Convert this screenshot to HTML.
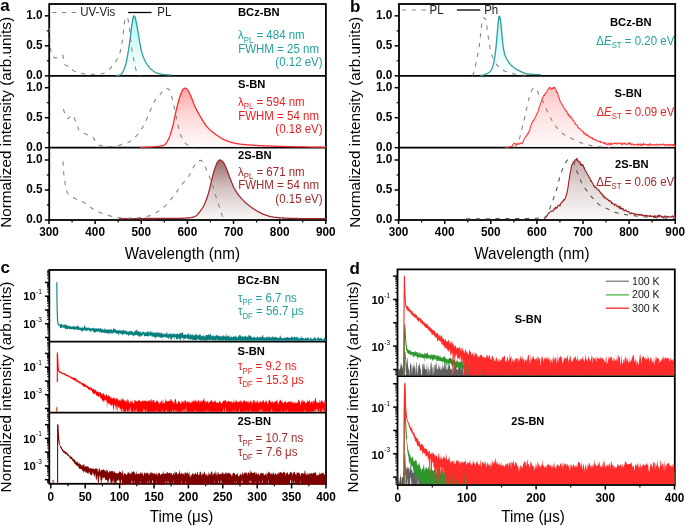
<!DOCTYPE html>
<html><head><meta charset="utf-8"><title>Figure</title>
<style>html,body{margin:0;padding:0;background:#fff;} svg{display:block;will-change:transform;} text{font-family:"Liberation Sans", sans-serif;}</style>
</head><body>
<svg width="685" height="526" viewBox="0 0 685 526" font-family='"Liberation Sans", sans-serif'><defs>
<clipPath id="ca1"><rect x="49.20" y="4.00" width="276.70" height="71.85"/></clipPath>
<clipPath id="ca2"><rect x="49.20" y="75.85" width="276.70" height="71.85"/></clipPath>
<clipPath id="ca3"><rect x="49.20" y="147.70" width="276.70" height="72.30"/></clipPath>
<clipPath id="cb1"><rect x="399.00" y="4.00" width="276.20" height="71.85"/></clipPath>
<clipPath id="cb2"><rect x="399.00" y="75.85" width="276.20" height="71.85"/></clipPath>
<clipPath id="cb3"><rect x="399.00" y="147.70" width="276.20" height="72.30"/></clipPath>
<clipPath id="cc1"><rect x="49.30" y="269.95" width="276.70" height="70.85"/></clipPath>
<clipPath id="cc2"><rect x="49.30" y="341.70" width="276.70" height="70.10"/></clipPath>
<clipPath id="cc3"><rect x="49.30" y="412.70" width="276.70" height="72.00"/></clipPath>
<clipPath id="cd1"><rect x="397.50" y="269.40" width="277.30" height="105.90"/></clipPath>
<clipPath id="cd2"><rect x="397.50" y="376.20" width="277.30" height="107.90"/></clipPath>
</defs>
<line x1="49.20" y1="75.85" x2="325.90" y2="75.85" stroke="#000" stroke-width="1.8" />
<line x1="49.20" y1="147.70" x2="325.90" y2="147.70" stroke="#000" stroke-width="1.8" />
<rect x="49.20" y="4.00" width="276.70" height="216.00" fill="none" stroke="#000" stroke-width="1.8"/>
<line x1="44.80" y1="75.85" x2="49.20" y2="75.85" stroke="#000" stroke-width="1.5" />
<text x="42.60" y="79.20" font-size="11.8" fill="#000" font-weight="bold" text-anchor="end" transform="matrix(1.0,0,0,1.05,0.000,-3.960)" >0.0</text>
<line x1="44.80" y1="45.85" x2="49.20" y2="45.85" stroke="#000" stroke-width="1.5" />
<text x="42.60" y="49.20" font-size="11.8" fill="#000" font-weight="bold" text-anchor="end" transform="matrix(1.0,0,0,1.05,0.000,-2.460)" >0.5</text>
<line x1="44.80" y1="15.85" x2="49.20" y2="15.85" stroke="#000" stroke-width="1.5" />
<text x="42.60" y="19.20" font-size="11.8" fill="#000" font-weight="bold" text-anchor="end" transform="matrix(1.0,0,0,1.05,0.000,-0.960)" >1.0</text>
<line x1="46.80" y1="60.85" x2="49.20" y2="60.85" stroke="#000" stroke-width="1.2" />
<line x1="46.80" y1="30.85" x2="49.20" y2="30.85" stroke="#000" stroke-width="1.2" />
<line x1="44.80" y1="147.70" x2="49.20" y2="147.70" stroke="#000" stroke-width="1.5" />
<text x="42.60" y="151.05" font-size="11.8" fill="#000" font-weight="bold" text-anchor="end" transform="matrix(1.0,0,0,1.05,0.000,-7.553)" >0.0</text>
<line x1="44.80" y1="117.70" x2="49.20" y2="117.70" stroke="#000" stroke-width="1.5" />
<text x="42.60" y="121.05" font-size="11.8" fill="#000" font-weight="bold" text-anchor="end" transform="matrix(1.0,0,0,1.05,0.000,-6.053)" >0.5</text>
<line x1="44.80" y1="87.70" x2="49.20" y2="87.70" stroke="#000" stroke-width="1.5" />
<text x="42.60" y="91.05" font-size="11.8" fill="#000" font-weight="bold" text-anchor="end" transform="matrix(1.0,0,0,1.05,0.000,-4.553)" >1.0</text>
<line x1="46.80" y1="132.70" x2="49.20" y2="132.70" stroke="#000" stroke-width="1.2" />
<line x1="46.80" y1="102.70" x2="49.20" y2="102.70" stroke="#000" stroke-width="1.2" />
<line x1="44.80" y1="220.00" x2="49.20" y2="220.00" stroke="#000" stroke-width="1.5" />
<text x="42.60" y="223.35" font-size="11.8" fill="#000" font-weight="bold" text-anchor="end" transform="matrix(1.0,0,0,1.05,0.000,-11.168)" >0.0</text>
<line x1="44.80" y1="190.00" x2="49.20" y2="190.00" stroke="#000" stroke-width="1.5" />
<text x="42.60" y="193.35" font-size="11.8" fill="#000" font-weight="bold" text-anchor="end" transform="matrix(1.0,0,0,1.05,0.000,-9.668)" >0.5</text>
<line x1="44.80" y1="160.00" x2="49.20" y2="160.00" stroke="#000" stroke-width="1.5" />
<text x="42.60" y="163.35" font-size="11.8" fill="#000" font-weight="bold" text-anchor="end" transform="matrix(1.0,0,0,1.05,0.000,-8.168)" >1.0</text>
<line x1="46.80" y1="205.00" x2="49.20" y2="205.00" stroke="#000" stroke-width="1.2" />
<line x1="46.80" y1="175.00" x2="49.20" y2="175.00" stroke="#000" stroke-width="1.2" />
<line x1="49.00" y1="220.00" x2="49.00" y2="223.90" stroke="#000" stroke-width="1.5" />
<text x="49.00" y="236.00" font-size="11.8" fill="#000" font-weight="bold" text-anchor="middle" transform="matrix(1.0,0,0,1.05,0.000,-11.800)" >300</text>
<line x1="72.07" y1="220.00" x2="72.07" y2="222.40" stroke="#000" stroke-width="1.2" />
<line x1="95.13" y1="220.00" x2="95.13" y2="223.90" stroke="#000" stroke-width="1.5" />
<text x="95.13" y="236.00" font-size="11.8" fill="#000" font-weight="bold" text-anchor="middle" transform="matrix(1.0,0,0,1.05,0.000,-11.800)" >400</text>
<line x1="118.20" y1="220.00" x2="118.20" y2="222.40" stroke="#000" stroke-width="1.2" />
<line x1="141.27" y1="220.00" x2="141.27" y2="223.90" stroke="#000" stroke-width="1.5" />
<text x="141.27" y="236.00" font-size="11.8" fill="#000" font-weight="bold" text-anchor="middle" transform="matrix(1.0,0,0,1.05,0.000,-11.800)" >500</text>
<line x1="164.33" y1="220.00" x2="164.33" y2="222.40" stroke="#000" stroke-width="1.2" />
<line x1="187.40" y1="220.00" x2="187.40" y2="223.90" stroke="#000" stroke-width="1.5" />
<text x="187.40" y="236.00" font-size="11.8" fill="#000" font-weight="bold" text-anchor="middle" transform="matrix(1.0,0,0,1.05,0.000,-11.800)" >600</text>
<line x1="210.47" y1="220.00" x2="210.47" y2="222.40" stroke="#000" stroke-width="1.2" />
<line x1="233.53" y1="220.00" x2="233.53" y2="223.90" stroke="#000" stroke-width="1.5" />
<text x="233.53" y="236.00" font-size="11.8" fill="#000" font-weight="bold" text-anchor="middle" transform="matrix(1.0,0,0,1.05,0.000,-11.800)" >700</text>
<line x1="256.60" y1="220.00" x2="256.60" y2="222.40" stroke="#000" stroke-width="1.2" />
<line x1="279.67" y1="220.00" x2="279.67" y2="223.90" stroke="#000" stroke-width="1.5" />
<text x="279.67" y="236.00" font-size="11.8" fill="#000" font-weight="bold" text-anchor="middle" transform="matrix(1.0,0,0,1.05,0.000,-11.800)" >800</text>
<line x1="302.73" y1="220.00" x2="302.73" y2="222.40" stroke="#000" stroke-width="1.2" />
<line x1="325.80" y1="220.00" x2="325.80" y2="223.90" stroke="#000" stroke-width="1.5" />
<text x="325.80" y="236.00" font-size="11.8" fill="#000" font-weight="bold" text-anchor="middle" transform="matrix(1.0,0,0,1.05,0.000,-11.800)" >900</text>
<line x1="399.00" y1="75.85" x2="675.20" y2="75.85" stroke="#000" stroke-width="1.8" />
<line x1="399.00" y1="147.70" x2="675.20" y2="147.70" stroke="#000" stroke-width="1.8" />
<rect x="399.00" y="4.00" width="276.20" height="216.00" fill="none" stroke="#000" stroke-width="1.8"/>
<line x1="394.60" y1="75.85" x2="399.00" y2="75.85" stroke="#000" stroke-width="1.5" />
<text x="392.40" y="79.20" font-size="11.8" fill="#000" font-weight="bold" text-anchor="end" transform="matrix(1.0,0,0,1.05,0.000,-3.960)" >0.0</text>
<line x1="394.60" y1="45.85" x2="399.00" y2="45.85" stroke="#000" stroke-width="1.5" />
<text x="392.40" y="49.20" font-size="11.8" fill="#000" font-weight="bold" text-anchor="end" transform="matrix(1.0,0,0,1.05,0.000,-2.460)" >0.5</text>
<line x1="394.60" y1="15.85" x2="399.00" y2="15.85" stroke="#000" stroke-width="1.5" />
<text x="392.40" y="19.20" font-size="11.8" fill="#000" font-weight="bold" text-anchor="end" transform="matrix(1.0,0,0,1.05,0.000,-0.960)" >1.0</text>
<line x1="396.60" y1="60.85" x2="399.00" y2="60.85" stroke="#000" stroke-width="1.2" />
<line x1="396.60" y1="30.85" x2="399.00" y2="30.85" stroke="#000" stroke-width="1.2" />
<line x1="394.60" y1="147.70" x2="399.00" y2="147.70" stroke="#000" stroke-width="1.5" />
<text x="392.40" y="151.05" font-size="11.8" fill="#000" font-weight="bold" text-anchor="end" transform="matrix(1.0,0,0,1.05,0.000,-7.553)" >0.0</text>
<line x1="394.60" y1="117.70" x2="399.00" y2="117.70" stroke="#000" stroke-width="1.5" />
<text x="392.40" y="121.05" font-size="11.8" fill="#000" font-weight="bold" text-anchor="end" transform="matrix(1.0,0,0,1.05,0.000,-6.053)" >0.5</text>
<line x1="394.60" y1="87.70" x2="399.00" y2="87.70" stroke="#000" stroke-width="1.5" />
<text x="392.40" y="91.05" font-size="11.8" fill="#000" font-weight="bold" text-anchor="end" transform="matrix(1.0,0,0,1.05,0.000,-4.553)" >1.0</text>
<line x1="396.60" y1="132.70" x2="399.00" y2="132.70" stroke="#000" stroke-width="1.2" />
<line x1="396.60" y1="102.70" x2="399.00" y2="102.70" stroke="#000" stroke-width="1.2" />
<line x1="394.60" y1="220.00" x2="399.00" y2="220.00" stroke="#000" stroke-width="1.5" />
<text x="392.40" y="223.35" font-size="11.8" fill="#000" font-weight="bold" text-anchor="end" transform="matrix(1.0,0,0,1.05,0.000,-11.168)" >0.0</text>
<line x1="394.60" y1="190.00" x2="399.00" y2="190.00" stroke="#000" stroke-width="1.5" />
<text x="392.40" y="193.35" font-size="11.8" fill="#000" font-weight="bold" text-anchor="end" transform="matrix(1.0,0,0,1.05,0.000,-9.668)" >0.5</text>
<line x1="394.60" y1="160.00" x2="399.00" y2="160.00" stroke="#000" stroke-width="1.5" />
<text x="392.40" y="163.35" font-size="11.8" fill="#000" font-weight="bold" text-anchor="end" transform="matrix(1.0,0,0,1.05,0.000,-8.168)" >1.0</text>
<line x1="396.60" y1="205.00" x2="399.00" y2="205.00" stroke="#000" stroke-width="1.2" />
<line x1="396.60" y1="175.00" x2="399.00" y2="175.00" stroke="#000" stroke-width="1.2" />
<line x1="398.60" y1="220.00" x2="398.60" y2="223.90" stroke="#000" stroke-width="1.5" />
<text x="398.60" y="236.00" font-size="11.8" fill="#000" font-weight="bold" text-anchor="middle" transform="matrix(1.0,0,0,1.05,0.000,-11.800)" >300</text>
<line x1="421.65" y1="220.00" x2="421.65" y2="222.40" stroke="#000" stroke-width="1.2" />
<line x1="444.70" y1="220.00" x2="444.70" y2="223.90" stroke="#000" stroke-width="1.5" />
<text x="444.70" y="236.00" font-size="11.8" fill="#000" font-weight="bold" text-anchor="middle" transform="matrix(1.0,0,0,1.05,0.000,-11.800)" >400</text>
<line x1="467.75" y1="220.00" x2="467.75" y2="222.40" stroke="#000" stroke-width="1.2" />
<line x1="490.80" y1="220.00" x2="490.80" y2="223.90" stroke="#000" stroke-width="1.5" />
<text x="490.80" y="236.00" font-size="11.8" fill="#000" font-weight="bold" text-anchor="middle" transform="matrix(1.0,0,0,1.05,0.000,-11.800)" >500</text>
<line x1="513.85" y1="220.00" x2="513.85" y2="222.40" stroke="#000" stroke-width="1.2" />
<line x1="536.90" y1="220.00" x2="536.90" y2="223.90" stroke="#000" stroke-width="1.5" />
<text x="536.90" y="236.00" font-size="11.8" fill="#000" font-weight="bold" text-anchor="middle" transform="matrix(1.0,0,0,1.05,0.000,-11.800)" >600</text>
<line x1="559.95" y1="220.00" x2="559.95" y2="222.40" stroke="#000" stroke-width="1.2" />
<line x1="583.00" y1="220.00" x2="583.00" y2="223.90" stroke="#000" stroke-width="1.5" />
<text x="583.00" y="236.00" font-size="11.8" fill="#000" font-weight="bold" text-anchor="middle" transform="matrix(1.0,0,0,1.05,0.000,-11.800)" >700</text>
<line x1="606.05" y1="220.00" x2="606.05" y2="222.40" stroke="#000" stroke-width="1.2" />
<line x1="629.10" y1="220.00" x2="629.10" y2="223.90" stroke="#000" stroke-width="1.5" />
<text x="629.10" y="236.00" font-size="11.8" fill="#000" font-weight="bold" text-anchor="middle" transform="matrix(1.0,0,0,1.05,0.000,-11.800)" >800</text>
<line x1="652.15" y1="220.00" x2="652.15" y2="222.40" stroke="#000" stroke-width="1.2" />
<line x1="675.20" y1="220.00" x2="675.20" y2="223.90" stroke="#000" stroke-width="1.5" />
<text x="675.20" y="236.00" font-size="11.8" fill="#000" font-weight="bold" text-anchor="middle" transform="matrix(1.0,0,0,1.05,0.000,-11.800)" >900</text>
<line x1="49.30" y1="341.70" x2="326.00" y2="341.70" stroke="#000" stroke-width="1.8" />
<line x1="49.30" y1="412.70" x2="326.00" y2="412.70" stroke="#000" stroke-width="1.8" />
<rect x="49.30" y="269.95" width="276.70" height="213.85" fill="none" stroke="#000" stroke-width="1.8"/>
<line x1="47.00" y1="340.50" x2="49.30" y2="340.50" stroke="#000" stroke-width="0.9" />
<line x1="47.00" y1="339.58" x2="49.30" y2="339.58" stroke="#000" stroke-width="0.9" />
<line x1="47.00" y1="338.78" x2="49.30" y2="338.78" stroke="#000" stroke-width="0.9" />
<line x1="47.00" y1="338.08" x2="49.30" y2="338.08" stroke="#000" stroke-width="0.9" />
<line x1="44.90" y1="337.45" x2="49.30" y2="337.45" stroke="#000" stroke-width="1.5" />
<line x1="47.00" y1="333.31" x2="49.30" y2="333.31" stroke="#000" stroke-width="0.9" />
<line x1="47.00" y1="330.89" x2="49.30" y2="330.89" stroke="#000" stroke-width="0.9" />
<line x1="47.00" y1="329.17" x2="49.30" y2="329.17" stroke="#000" stroke-width="0.9" />
<line x1="47.00" y1="327.84" x2="49.30" y2="327.84" stroke="#000" stroke-width="0.9" />
<line x1="47.00" y1="326.75" x2="49.30" y2="326.75" stroke="#000" stroke-width="0.9" />
<line x1="47.00" y1="325.83" x2="49.30" y2="325.83" stroke="#000" stroke-width="0.9" />
<line x1="47.00" y1="325.03" x2="49.30" y2="325.03" stroke="#000" stroke-width="0.9" />
<line x1="47.00" y1="324.33" x2="49.30" y2="324.33" stroke="#000" stroke-width="0.9" />
<line x1="44.90" y1="323.70" x2="49.30" y2="323.70" stroke="#000" stroke-width="1.5" />
<text x="35.80" y="328.00" font-size="10.3" fill="#000" font-weight="bold" text-anchor="end" transform="matrix(1.1,0,0,1.0,-3.580,0.000)" >10</text>
<text x="36.10" y="321.60" font-size="6.5" fill="#000" font-weight="normal" text-anchor="start" >-3</text>
<line x1="47.00" y1="319.56" x2="49.30" y2="319.56" stroke="#000" stroke-width="0.9" />
<line x1="47.00" y1="317.14" x2="49.30" y2="317.14" stroke="#000" stroke-width="0.9" />
<line x1="47.00" y1="315.42" x2="49.30" y2="315.42" stroke="#000" stroke-width="0.9" />
<line x1="47.00" y1="314.09" x2="49.30" y2="314.09" stroke="#000" stroke-width="0.9" />
<line x1="47.00" y1="313.00" x2="49.30" y2="313.00" stroke="#000" stroke-width="0.9" />
<line x1="47.00" y1="312.08" x2="49.30" y2="312.08" stroke="#000" stroke-width="0.9" />
<line x1="47.00" y1="311.28" x2="49.30" y2="311.28" stroke="#000" stroke-width="0.9" />
<line x1="47.00" y1="310.58" x2="49.30" y2="310.58" stroke="#000" stroke-width="0.9" />
<line x1="44.90" y1="309.95" x2="49.30" y2="309.95" stroke="#000" stroke-width="1.5" />
<line x1="47.00" y1="305.81" x2="49.30" y2="305.81" stroke="#000" stroke-width="0.9" />
<line x1="47.00" y1="303.39" x2="49.30" y2="303.39" stroke="#000" stroke-width="0.9" />
<line x1="47.00" y1="301.67" x2="49.30" y2="301.67" stroke="#000" stroke-width="0.9" />
<line x1="47.00" y1="300.34" x2="49.30" y2="300.34" stroke="#000" stroke-width="0.9" />
<line x1="47.00" y1="299.25" x2="49.30" y2="299.25" stroke="#000" stroke-width="0.9" />
<line x1="47.00" y1="298.33" x2="49.30" y2="298.33" stroke="#000" stroke-width="0.9" />
<line x1="47.00" y1="297.53" x2="49.30" y2="297.53" stroke="#000" stroke-width="0.9" />
<line x1="47.00" y1="296.83" x2="49.30" y2="296.83" stroke="#000" stroke-width="0.9" />
<line x1="44.90" y1="296.20" x2="49.30" y2="296.20" stroke="#000" stroke-width="1.5" />
<text x="35.80" y="300.50" font-size="10.3" fill="#000" font-weight="bold" text-anchor="end" transform="matrix(1.1,0,0,1.0,-3.580,0.000)" >10</text>
<text x="36.10" y="294.10" font-size="6.5" fill="#000" font-weight="normal" text-anchor="start" >-1</text>
<line x1="47.00" y1="292.06" x2="49.30" y2="292.06" stroke="#000" stroke-width="0.9" />
<line x1="47.00" y1="289.64" x2="49.30" y2="289.64" stroke="#000" stroke-width="0.9" />
<line x1="47.00" y1="287.92" x2="49.30" y2="287.92" stroke="#000" stroke-width="0.9" />
<line x1="47.00" y1="286.59" x2="49.30" y2="286.59" stroke="#000" stroke-width="0.9" />
<line x1="47.00" y1="285.50" x2="49.30" y2="285.50" stroke="#000" stroke-width="0.9" />
<line x1="47.00" y1="284.58" x2="49.30" y2="284.58" stroke="#000" stroke-width="0.9" />
<line x1="47.00" y1="283.78" x2="49.30" y2="283.78" stroke="#000" stroke-width="0.9" />
<line x1="47.00" y1="283.08" x2="49.30" y2="283.08" stroke="#000" stroke-width="0.9" />
<line x1="44.90" y1="282.45" x2="49.30" y2="282.45" stroke="#000" stroke-width="1.5" />
<line x1="47.00" y1="278.31" x2="49.30" y2="278.31" stroke="#000" stroke-width="0.9" />
<line x1="47.00" y1="275.89" x2="49.30" y2="275.89" stroke="#000" stroke-width="0.9" />
<line x1="47.00" y1="274.17" x2="49.30" y2="274.17" stroke="#000" stroke-width="0.9" />
<line x1="47.00" y1="272.84" x2="49.30" y2="272.84" stroke="#000" stroke-width="0.9" />
<line x1="47.00" y1="271.75" x2="49.30" y2="271.75" stroke="#000" stroke-width="0.9" />
<line x1="47.00" y1="270.83" x2="49.30" y2="270.83" stroke="#000" stroke-width="0.9" />
<line x1="47.00" y1="411.50" x2="49.30" y2="411.50" stroke="#000" stroke-width="0.9" />
<line x1="47.00" y1="410.58" x2="49.30" y2="410.58" stroke="#000" stroke-width="0.9" />
<line x1="47.00" y1="409.78" x2="49.30" y2="409.78" stroke="#000" stroke-width="0.9" />
<line x1="47.00" y1="409.08" x2="49.30" y2="409.08" stroke="#000" stroke-width="0.9" />
<line x1="44.90" y1="408.45" x2="49.30" y2="408.45" stroke="#000" stroke-width="1.5" />
<line x1="47.00" y1="404.31" x2="49.30" y2="404.31" stroke="#000" stroke-width="0.9" />
<line x1="47.00" y1="401.89" x2="49.30" y2="401.89" stroke="#000" stroke-width="0.9" />
<line x1="47.00" y1="400.17" x2="49.30" y2="400.17" stroke="#000" stroke-width="0.9" />
<line x1="47.00" y1="398.84" x2="49.30" y2="398.84" stroke="#000" stroke-width="0.9" />
<line x1="47.00" y1="397.75" x2="49.30" y2="397.75" stroke="#000" stroke-width="0.9" />
<line x1="47.00" y1="396.83" x2="49.30" y2="396.83" stroke="#000" stroke-width="0.9" />
<line x1="47.00" y1="396.03" x2="49.30" y2="396.03" stroke="#000" stroke-width="0.9" />
<line x1="47.00" y1="395.33" x2="49.30" y2="395.33" stroke="#000" stroke-width="0.9" />
<line x1="44.90" y1="394.70" x2="49.30" y2="394.70" stroke="#000" stroke-width="1.5" />
<text x="35.80" y="399.00" font-size="10.3" fill="#000" font-weight="bold" text-anchor="end" transform="matrix(1.1,0,0,1.0,-3.580,0.000)" >10</text>
<text x="36.10" y="392.60" font-size="6.5" fill="#000" font-weight="normal" text-anchor="start" >-3</text>
<line x1="47.00" y1="390.56" x2="49.30" y2="390.56" stroke="#000" stroke-width="0.9" />
<line x1="47.00" y1="388.14" x2="49.30" y2="388.14" stroke="#000" stroke-width="0.9" />
<line x1="47.00" y1="386.42" x2="49.30" y2="386.42" stroke="#000" stroke-width="0.9" />
<line x1="47.00" y1="385.09" x2="49.30" y2="385.09" stroke="#000" stroke-width="0.9" />
<line x1="47.00" y1="384.00" x2="49.30" y2="384.00" stroke="#000" stroke-width="0.9" />
<line x1="47.00" y1="383.08" x2="49.30" y2="383.08" stroke="#000" stroke-width="0.9" />
<line x1="47.00" y1="382.28" x2="49.30" y2="382.28" stroke="#000" stroke-width="0.9" />
<line x1="47.00" y1="381.58" x2="49.30" y2="381.58" stroke="#000" stroke-width="0.9" />
<line x1="44.90" y1="380.95" x2="49.30" y2="380.95" stroke="#000" stroke-width="1.5" />
<line x1="47.00" y1="376.81" x2="49.30" y2="376.81" stroke="#000" stroke-width="0.9" />
<line x1="47.00" y1="374.39" x2="49.30" y2="374.39" stroke="#000" stroke-width="0.9" />
<line x1="47.00" y1="372.67" x2="49.30" y2="372.67" stroke="#000" stroke-width="0.9" />
<line x1="47.00" y1="371.34" x2="49.30" y2="371.34" stroke="#000" stroke-width="0.9" />
<line x1="47.00" y1="370.25" x2="49.30" y2="370.25" stroke="#000" stroke-width="0.9" />
<line x1="47.00" y1="369.33" x2="49.30" y2="369.33" stroke="#000" stroke-width="0.9" />
<line x1="47.00" y1="368.53" x2="49.30" y2="368.53" stroke="#000" stroke-width="0.9" />
<line x1="47.00" y1="367.83" x2="49.30" y2="367.83" stroke="#000" stroke-width="0.9" />
<line x1="44.90" y1="367.20" x2="49.30" y2="367.20" stroke="#000" stroke-width="1.5" />
<text x="35.80" y="371.50" font-size="10.3" fill="#000" font-weight="bold" text-anchor="end" transform="matrix(1.1,0,0,1.0,-3.580,0.000)" >10</text>
<text x="36.10" y="365.10" font-size="6.5" fill="#000" font-weight="normal" text-anchor="start" >-1</text>
<line x1="47.00" y1="363.06" x2="49.30" y2="363.06" stroke="#000" stroke-width="0.9" />
<line x1="47.00" y1="360.64" x2="49.30" y2="360.64" stroke="#000" stroke-width="0.9" />
<line x1="47.00" y1="358.92" x2="49.30" y2="358.92" stroke="#000" stroke-width="0.9" />
<line x1="47.00" y1="357.59" x2="49.30" y2="357.59" stroke="#000" stroke-width="0.9" />
<line x1="47.00" y1="356.50" x2="49.30" y2="356.50" stroke="#000" stroke-width="0.9" />
<line x1="47.00" y1="355.58" x2="49.30" y2="355.58" stroke="#000" stroke-width="0.9" />
<line x1="47.00" y1="354.78" x2="49.30" y2="354.78" stroke="#000" stroke-width="0.9" />
<line x1="47.00" y1="354.08" x2="49.30" y2="354.08" stroke="#000" stroke-width="0.9" />
<line x1="44.90" y1="353.45" x2="49.30" y2="353.45" stroke="#000" stroke-width="1.5" />
<line x1="47.00" y1="349.31" x2="49.30" y2="349.31" stroke="#000" stroke-width="0.9" />
<line x1="47.00" y1="346.89" x2="49.30" y2="346.89" stroke="#000" stroke-width="0.9" />
<line x1="47.00" y1="345.17" x2="49.30" y2="345.17" stroke="#000" stroke-width="0.9" />
<line x1="47.00" y1="343.84" x2="49.30" y2="343.84" stroke="#000" stroke-width="0.9" />
<line x1="47.00" y1="342.75" x2="49.30" y2="342.75" stroke="#000" stroke-width="0.9" />
<line x1="47.00" y1="482.70" x2="49.30" y2="482.70" stroke="#000" stroke-width="0.9" />
<line x1="47.00" y1="481.78" x2="49.30" y2="481.78" stroke="#000" stroke-width="0.9" />
<line x1="47.00" y1="480.98" x2="49.30" y2="480.98" stroke="#000" stroke-width="0.9" />
<line x1="47.00" y1="480.28" x2="49.30" y2="480.28" stroke="#000" stroke-width="0.9" />
<line x1="44.90" y1="479.65" x2="49.30" y2="479.65" stroke="#000" stroke-width="1.5" />
<line x1="47.00" y1="475.51" x2="49.30" y2="475.51" stroke="#000" stroke-width="0.9" />
<line x1="47.00" y1="473.09" x2="49.30" y2="473.09" stroke="#000" stroke-width="0.9" />
<line x1="47.00" y1="471.37" x2="49.30" y2="471.37" stroke="#000" stroke-width="0.9" />
<line x1="47.00" y1="470.04" x2="49.30" y2="470.04" stroke="#000" stroke-width="0.9" />
<line x1="47.00" y1="468.95" x2="49.30" y2="468.95" stroke="#000" stroke-width="0.9" />
<line x1="47.00" y1="468.03" x2="49.30" y2="468.03" stroke="#000" stroke-width="0.9" />
<line x1="47.00" y1="467.23" x2="49.30" y2="467.23" stroke="#000" stroke-width="0.9" />
<line x1="47.00" y1="466.53" x2="49.30" y2="466.53" stroke="#000" stroke-width="0.9" />
<line x1="44.90" y1="465.90" x2="49.30" y2="465.90" stroke="#000" stroke-width="1.5" />
<text x="35.80" y="470.20" font-size="10.3" fill="#000" font-weight="bold" text-anchor="end" transform="matrix(1.1,0,0,1.0,-3.580,0.000)" >10</text>
<text x="36.10" y="463.80" font-size="6.5" fill="#000" font-weight="normal" text-anchor="start" >-3</text>
<line x1="47.00" y1="461.76" x2="49.30" y2="461.76" stroke="#000" stroke-width="0.9" />
<line x1="47.00" y1="459.34" x2="49.30" y2="459.34" stroke="#000" stroke-width="0.9" />
<line x1="47.00" y1="457.62" x2="49.30" y2="457.62" stroke="#000" stroke-width="0.9" />
<line x1="47.00" y1="456.29" x2="49.30" y2="456.29" stroke="#000" stroke-width="0.9" />
<line x1="47.00" y1="455.20" x2="49.30" y2="455.20" stroke="#000" stroke-width="0.9" />
<line x1="47.00" y1="454.28" x2="49.30" y2="454.28" stroke="#000" stroke-width="0.9" />
<line x1="47.00" y1="453.48" x2="49.30" y2="453.48" stroke="#000" stroke-width="0.9" />
<line x1="47.00" y1="452.78" x2="49.30" y2="452.78" stroke="#000" stroke-width="0.9" />
<line x1="44.90" y1="452.15" x2="49.30" y2="452.15" stroke="#000" stroke-width="1.5" />
<line x1="47.00" y1="448.01" x2="49.30" y2="448.01" stroke="#000" stroke-width="0.9" />
<line x1="47.00" y1="445.59" x2="49.30" y2="445.59" stroke="#000" stroke-width="0.9" />
<line x1="47.00" y1="443.87" x2="49.30" y2="443.87" stroke="#000" stroke-width="0.9" />
<line x1="47.00" y1="442.54" x2="49.30" y2="442.54" stroke="#000" stroke-width="0.9" />
<line x1="47.00" y1="441.45" x2="49.30" y2="441.45" stroke="#000" stroke-width="0.9" />
<line x1="47.00" y1="440.53" x2="49.30" y2="440.53" stroke="#000" stroke-width="0.9" />
<line x1="47.00" y1="439.73" x2="49.30" y2="439.73" stroke="#000" stroke-width="0.9" />
<line x1="47.00" y1="439.03" x2="49.30" y2="439.03" stroke="#000" stroke-width="0.9" />
<line x1="44.90" y1="438.40" x2="49.30" y2="438.40" stroke="#000" stroke-width="1.5" />
<text x="35.80" y="442.70" font-size="10.3" fill="#000" font-weight="bold" text-anchor="end" transform="matrix(1.1,0,0,1.0,-3.580,0.000)" >10</text>
<text x="36.10" y="436.30" font-size="6.5" fill="#000" font-weight="normal" text-anchor="start" >-1</text>
<line x1="47.00" y1="434.26" x2="49.30" y2="434.26" stroke="#000" stroke-width="0.9" />
<line x1="47.00" y1="431.84" x2="49.30" y2="431.84" stroke="#000" stroke-width="0.9" />
<line x1="47.00" y1="430.12" x2="49.30" y2="430.12" stroke="#000" stroke-width="0.9" />
<line x1="47.00" y1="428.79" x2="49.30" y2="428.79" stroke="#000" stroke-width="0.9" />
<line x1="47.00" y1="427.70" x2="49.30" y2="427.70" stroke="#000" stroke-width="0.9" />
<line x1="47.00" y1="426.78" x2="49.30" y2="426.78" stroke="#000" stroke-width="0.9" />
<line x1="47.00" y1="425.98" x2="49.30" y2="425.98" stroke="#000" stroke-width="0.9" />
<line x1="47.00" y1="425.28" x2="49.30" y2="425.28" stroke="#000" stroke-width="0.9" />
<line x1="44.90" y1="424.65" x2="49.30" y2="424.65" stroke="#000" stroke-width="1.5" />
<line x1="47.00" y1="420.51" x2="49.30" y2="420.51" stroke="#000" stroke-width="0.9" />
<line x1="47.00" y1="418.09" x2="49.30" y2="418.09" stroke="#000" stroke-width="0.9" />
<line x1="47.00" y1="416.37" x2="49.30" y2="416.37" stroke="#000" stroke-width="0.9" />
<line x1="47.00" y1="415.04" x2="49.30" y2="415.04" stroke="#000" stroke-width="0.9" />
<line x1="47.00" y1="413.95" x2="49.30" y2="413.95" stroke="#000" stroke-width="0.9" />
<line x1="50.80" y1="483.80" x2="50.80" y2="488.40" stroke="#000" stroke-width="1.5" />
<text x="50.80" y="501.00" font-size="11.8" fill="#000" font-weight="bold" text-anchor="middle" transform="matrix(1.0,0,0,1.05,0.000,-25.050)" >0</text>
<line x1="68.00" y1="483.80" x2="68.00" y2="486.20" stroke="#000" stroke-width="1.2" />
<line x1="85.20" y1="483.80" x2="85.20" y2="488.40" stroke="#000" stroke-width="1.5" />
<text x="85.20" y="501.00" font-size="11.8" fill="#000" font-weight="bold" text-anchor="middle" transform="matrix(1.0,0,0,1.05,0.000,-25.050)" >50</text>
<line x1="102.40" y1="483.80" x2="102.40" y2="486.20" stroke="#000" stroke-width="1.2" />
<line x1="119.60" y1="483.80" x2="119.60" y2="488.40" stroke="#000" stroke-width="1.5" />
<text x="119.60" y="501.00" font-size="11.8" fill="#000" font-weight="bold" text-anchor="middle" transform="matrix(1.0,0,0,1.05,0.000,-25.050)" >100</text>
<line x1="136.80" y1="483.80" x2="136.80" y2="486.20" stroke="#000" stroke-width="1.2" />
<line x1="154.00" y1="483.80" x2="154.00" y2="488.40" stroke="#000" stroke-width="1.5" />
<text x="154.00" y="501.00" font-size="11.8" fill="#000" font-weight="bold" text-anchor="middle" transform="matrix(1.0,0,0,1.05,0.000,-25.050)" >150</text>
<line x1="171.20" y1="483.80" x2="171.20" y2="486.20" stroke="#000" stroke-width="1.2" />
<line x1="188.40" y1="483.80" x2="188.40" y2="488.40" stroke="#000" stroke-width="1.5" />
<text x="188.40" y="501.00" font-size="11.8" fill="#000" font-weight="bold" text-anchor="middle" transform="matrix(1.0,0,0,1.05,0.000,-25.050)" >200</text>
<line x1="205.60" y1="483.80" x2="205.60" y2="486.20" stroke="#000" stroke-width="1.2" />
<line x1="222.80" y1="483.80" x2="222.80" y2="488.40" stroke="#000" stroke-width="1.5" />
<text x="222.80" y="501.00" font-size="11.8" fill="#000" font-weight="bold" text-anchor="middle" transform="matrix(1.0,0,0,1.05,0.000,-25.050)" >250</text>
<line x1="240.00" y1="483.80" x2="240.00" y2="486.20" stroke="#000" stroke-width="1.2" />
<line x1="257.20" y1="483.80" x2="257.20" y2="488.40" stroke="#000" stroke-width="1.5" />
<text x="257.20" y="501.00" font-size="11.8" fill="#000" font-weight="bold" text-anchor="middle" transform="matrix(1.0,0,0,1.05,0.000,-25.050)" >300</text>
<line x1="274.40" y1="483.80" x2="274.40" y2="486.20" stroke="#000" stroke-width="1.2" />
<line x1="291.60" y1="483.80" x2="291.60" y2="488.40" stroke="#000" stroke-width="1.5" />
<text x="291.60" y="501.00" font-size="11.8" fill="#000" font-weight="bold" text-anchor="middle" transform="matrix(1.0,0,0,1.05,0.000,-25.050)" >350</text>
<line x1="308.80" y1="483.80" x2="308.80" y2="486.20" stroke="#000" stroke-width="1.2" />
<line x1="326.00" y1="483.80" x2="326.00" y2="488.40" stroke="#000" stroke-width="1.5" />
<text x="326.00" y="501.00" font-size="11.8" fill="#000" font-weight="bold" text-anchor="middle" transform="matrix(1.0,0,0,1.05,0.000,-25.050)" >400</text>
<line x1="397.50" y1="376.20" x2="674.80" y2="376.20" stroke="#000" stroke-width="1.8" />
<rect x="397.50" y="269.40" width="277.30" height="215.60" fill="none" stroke="#000" stroke-width="1.8"/>
<line x1="395.20" y1="374.68" x2="397.50" y2="374.68" stroke="#000" stroke-width="0.9" />
<line x1="395.20" y1="373.12" x2="397.50" y2="373.12" stroke="#000" stroke-width="0.9" />
<line x1="395.20" y1="371.76" x2="397.50" y2="371.76" stroke="#000" stroke-width="0.9" />
<line x1="395.20" y1="370.57" x2="397.50" y2="370.57" stroke="#000" stroke-width="0.9" />
<line x1="393.10" y1="369.50" x2="397.50" y2="369.50" stroke="#000" stroke-width="1.5" />
<line x1="395.20" y1="362.47" x2="397.50" y2="362.47" stroke="#000" stroke-width="0.9" />
<line x1="395.20" y1="358.36" x2="397.50" y2="358.36" stroke="#000" stroke-width="0.9" />
<line x1="395.20" y1="355.44" x2="397.50" y2="355.44" stroke="#000" stroke-width="0.9" />
<line x1="395.20" y1="353.18" x2="397.50" y2="353.18" stroke="#000" stroke-width="0.9" />
<line x1="395.20" y1="351.33" x2="397.50" y2="351.33" stroke="#000" stroke-width="0.9" />
<line x1="395.20" y1="349.77" x2="397.50" y2="349.77" stroke="#000" stroke-width="0.9" />
<line x1="395.20" y1="348.41" x2="397.50" y2="348.41" stroke="#000" stroke-width="0.9" />
<line x1="395.20" y1="347.22" x2="397.50" y2="347.22" stroke="#000" stroke-width="0.9" />
<line x1="393.10" y1="346.15" x2="397.50" y2="346.15" stroke="#000" stroke-width="1.5" />
<text x="384.00" y="351.05" font-size="10.3" fill="#000" font-weight="bold" text-anchor="end" transform="matrix(1.1,0,0,1.0,-38.400,0.000)" >10</text>
<text x="384.30" y="344.65" font-size="6.5" fill="#000" font-weight="normal" text-anchor="start" >-3</text>
<line x1="395.20" y1="339.12" x2="397.50" y2="339.12" stroke="#000" stroke-width="0.9" />
<line x1="395.20" y1="335.01" x2="397.50" y2="335.01" stroke="#000" stroke-width="0.9" />
<line x1="395.20" y1="332.09" x2="397.50" y2="332.09" stroke="#000" stroke-width="0.9" />
<line x1="395.20" y1="329.83" x2="397.50" y2="329.83" stroke="#000" stroke-width="0.9" />
<line x1="395.20" y1="327.98" x2="397.50" y2="327.98" stroke="#000" stroke-width="0.9" />
<line x1="395.20" y1="326.42" x2="397.50" y2="326.42" stroke="#000" stroke-width="0.9" />
<line x1="395.20" y1="325.06" x2="397.50" y2="325.06" stroke="#000" stroke-width="0.9" />
<line x1="395.20" y1="323.87" x2="397.50" y2="323.87" stroke="#000" stroke-width="0.9" />
<line x1="393.10" y1="322.80" x2="397.50" y2="322.80" stroke="#000" stroke-width="1.5" />
<line x1="395.20" y1="315.77" x2="397.50" y2="315.77" stroke="#000" stroke-width="0.9" />
<line x1="395.20" y1="311.66" x2="397.50" y2="311.66" stroke="#000" stroke-width="0.9" />
<line x1="395.20" y1="308.74" x2="397.50" y2="308.74" stroke="#000" stroke-width="0.9" />
<line x1="395.20" y1="306.48" x2="397.50" y2="306.48" stroke="#000" stroke-width="0.9" />
<line x1="395.20" y1="304.63" x2="397.50" y2="304.63" stroke="#000" stroke-width="0.9" />
<line x1="395.20" y1="303.07" x2="397.50" y2="303.07" stroke="#000" stroke-width="0.9" />
<line x1="395.20" y1="301.71" x2="397.50" y2="301.71" stroke="#000" stroke-width="0.9" />
<line x1="395.20" y1="300.52" x2="397.50" y2="300.52" stroke="#000" stroke-width="0.9" />
<line x1="393.10" y1="299.45" x2="397.50" y2="299.45" stroke="#000" stroke-width="1.5" />
<text x="384.00" y="304.35" font-size="10.3" fill="#000" font-weight="bold" text-anchor="end" transform="matrix(1.1,0,0,1.0,-38.400,0.000)" >10</text>
<text x="384.30" y="297.95" font-size="6.5" fill="#000" font-weight="normal" text-anchor="start" >-1</text>
<line x1="395.20" y1="292.42" x2="397.50" y2="292.42" stroke="#000" stroke-width="0.9" />
<line x1="395.20" y1="288.31" x2="397.50" y2="288.31" stroke="#000" stroke-width="0.9" />
<line x1="395.20" y1="285.39" x2="397.50" y2="285.39" stroke="#000" stroke-width="0.9" />
<line x1="395.20" y1="283.13" x2="397.50" y2="283.13" stroke="#000" stroke-width="0.9" />
<line x1="395.20" y1="281.28" x2="397.50" y2="281.28" stroke="#000" stroke-width="0.9" />
<line x1="395.20" y1="279.72" x2="397.50" y2="279.72" stroke="#000" stroke-width="0.9" />
<line x1="395.20" y1="278.36" x2="397.50" y2="278.36" stroke="#000" stroke-width="0.9" />
<line x1="395.20" y1="277.17" x2="397.50" y2="277.17" stroke="#000" stroke-width="0.9" />
<line x1="393.10" y1="276.10" x2="397.50" y2="276.10" stroke="#000" stroke-width="1.5" />
<line x1="395.20" y1="484.18" x2="397.50" y2="484.18" stroke="#000" stroke-width="0.9" />
<line x1="395.20" y1="482.33" x2="397.50" y2="482.33" stroke="#000" stroke-width="0.9" />
<line x1="395.20" y1="480.77" x2="397.50" y2="480.77" stroke="#000" stroke-width="0.9" />
<line x1="395.20" y1="479.41" x2="397.50" y2="479.41" stroke="#000" stroke-width="0.9" />
<line x1="395.20" y1="478.22" x2="397.50" y2="478.22" stroke="#000" stroke-width="0.9" />
<line x1="393.10" y1="477.15" x2="397.50" y2="477.15" stroke="#000" stroke-width="1.5" />
<line x1="395.20" y1="470.12" x2="397.50" y2="470.12" stroke="#000" stroke-width="0.9" />
<line x1="395.20" y1="466.01" x2="397.50" y2="466.01" stroke="#000" stroke-width="0.9" />
<line x1="395.20" y1="463.09" x2="397.50" y2="463.09" stroke="#000" stroke-width="0.9" />
<line x1="395.20" y1="460.83" x2="397.50" y2="460.83" stroke="#000" stroke-width="0.9" />
<line x1="395.20" y1="458.98" x2="397.50" y2="458.98" stroke="#000" stroke-width="0.9" />
<line x1="395.20" y1="457.42" x2="397.50" y2="457.42" stroke="#000" stroke-width="0.9" />
<line x1="395.20" y1="456.06" x2="397.50" y2="456.06" stroke="#000" stroke-width="0.9" />
<line x1="395.20" y1="454.87" x2="397.50" y2="454.87" stroke="#000" stroke-width="0.9" />
<line x1="393.10" y1="453.80" x2="397.50" y2="453.80" stroke="#000" stroke-width="1.5" />
<text x="384.00" y="458.70" font-size="10.3" fill="#000" font-weight="bold" text-anchor="end" transform="matrix(1.1,0,0,1.0,-38.400,0.000)" >10</text>
<text x="384.30" y="452.30" font-size="6.5" fill="#000" font-weight="normal" text-anchor="start" >-3</text>
<line x1="395.20" y1="446.77" x2="397.50" y2="446.77" stroke="#000" stroke-width="0.9" />
<line x1="395.20" y1="442.66" x2="397.50" y2="442.66" stroke="#000" stroke-width="0.9" />
<line x1="395.20" y1="439.74" x2="397.50" y2="439.74" stroke="#000" stroke-width="0.9" />
<line x1="395.20" y1="437.48" x2="397.50" y2="437.48" stroke="#000" stroke-width="0.9" />
<line x1="395.20" y1="435.63" x2="397.50" y2="435.63" stroke="#000" stroke-width="0.9" />
<line x1="395.20" y1="434.07" x2="397.50" y2="434.07" stroke="#000" stroke-width="0.9" />
<line x1="395.20" y1="432.71" x2="397.50" y2="432.71" stroke="#000" stroke-width="0.9" />
<line x1="395.20" y1="431.52" x2="397.50" y2="431.52" stroke="#000" stroke-width="0.9" />
<line x1="393.10" y1="430.45" x2="397.50" y2="430.45" stroke="#000" stroke-width="1.5" />
<line x1="395.20" y1="423.42" x2="397.50" y2="423.42" stroke="#000" stroke-width="0.9" />
<line x1="395.20" y1="419.31" x2="397.50" y2="419.31" stroke="#000" stroke-width="0.9" />
<line x1="395.20" y1="416.39" x2="397.50" y2="416.39" stroke="#000" stroke-width="0.9" />
<line x1="395.20" y1="414.13" x2="397.50" y2="414.13" stroke="#000" stroke-width="0.9" />
<line x1="395.20" y1="412.28" x2="397.50" y2="412.28" stroke="#000" stroke-width="0.9" />
<line x1="395.20" y1="410.72" x2="397.50" y2="410.72" stroke="#000" stroke-width="0.9" />
<line x1="395.20" y1="409.36" x2="397.50" y2="409.36" stroke="#000" stroke-width="0.9" />
<line x1="395.20" y1="408.17" x2="397.50" y2="408.17" stroke="#000" stroke-width="0.9" />
<line x1="393.10" y1="407.10" x2="397.50" y2="407.10" stroke="#000" stroke-width="1.5" />
<text x="384.00" y="412.00" font-size="10.3" fill="#000" font-weight="bold" text-anchor="end" transform="matrix(1.1,0,0,1.0,-38.400,0.000)" >10</text>
<text x="384.30" y="405.60" font-size="6.5" fill="#000" font-weight="normal" text-anchor="start" >-1</text>
<line x1="395.20" y1="400.07" x2="397.50" y2="400.07" stroke="#000" stroke-width="0.9" />
<line x1="395.20" y1="395.96" x2="397.50" y2="395.96" stroke="#000" stroke-width="0.9" />
<line x1="395.20" y1="393.04" x2="397.50" y2="393.04" stroke="#000" stroke-width="0.9" />
<line x1="395.20" y1="390.78" x2="397.50" y2="390.78" stroke="#000" stroke-width="0.9" />
<line x1="395.20" y1="388.93" x2="397.50" y2="388.93" stroke="#000" stroke-width="0.9" />
<line x1="395.20" y1="387.37" x2="397.50" y2="387.37" stroke="#000" stroke-width="0.9" />
<line x1="395.20" y1="386.01" x2="397.50" y2="386.01" stroke="#000" stroke-width="0.9" />
<line x1="395.20" y1="384.82" x2="397.50" y2="384.82" stroke="#000" stroke-width="0.9" />
<line x1="393.10" y1="383.75" x2="397.50" y2="383.75" stroke="#000" stroke-width="1.5" />
<line x1="397.70" y1="485.00" x2="397.70" y2="489.60" stroke="#000" stroke-width="1.5" />
<text x="397.70" y="502.20" font-size="11.8" fill="#000" font-weight="bold" text-anchor="middle" transform="matrix(1.0,0,0,1.05,0.000,-25.110)" >0</text>
<line x1="432.30" y1="485.00" x2="432.30" y2="487.40" stroke="#000" stroke-width="1.2" />
<line x1="466.90" y1="485.00" x2="466.90" y2="489.60" stroke="#000" stroke-width="1.5" />
<text x="466.90" y="502.20" font-size="11.8" fill="#000" font-weight="bold" text-anchor="middle" transform="matrix(1.0,0,0,1.05,0.000,-25.110)" >100</text>
<line x1="501.50" y1="485.00" x2="501.50" y2="487.40" stroke="#000" stroke-width="1.2" />
<line x1="536.10" y1="485.00" x2="536.10" y2="489.60" stroke="#000" stroke-width="1.5" />
<text x="536.10" y="502.20" font-size="11.8" fill="#000" font-weight="bold" text-anchor="middle" transform="matrix(1.0,0,0,1.05,0.000,-25.110)" >200</text>
<line x1="570.70" y1="485.00" x2="570.70" y2="487.40" stroke="#000" stroke-width="1.2" />
<line x1="605.30" y1="485.00" x2="605.30" y2="489.60" stroke="#000" stroke-width="1.5" />
<text x="605.30" y="502.20" font-size="11.8" fill="#000" font-weight="bold" text-anchor="middle" transform="matrix(1.0,0,0,1.05,0.000,-25.110)" >300</text>
<line x1="639.90" y1="485.00" x2="639.90" y2="487.40" stroke="#000" stroke-width="1.2" />
<line x1="674.50" y1="485.00" x2="674.50" y2="489.60" stroke="#000" stroke-width="1.5" />
<text x="674.50" y="502.20" font-size="11.8" fill="#000" font-weight="bold" text-anchor="middle" transform="matrix(1.0,0,0,1.05,0.000,-25.110)" >400</text>
<g clip-path="url(#ca1)">
<linearGradient id="g1" x1="0" y1="15.9" x2="0" y2="75.0" gradientUnits="userSpaceOnUse"><stop offset="0" stop-color="#a6f4f4"/><stop offset="0.45" stop-color="#d8fafa"/><stop offset="1" stop-color="#ffffff"/></linearGradient>
<path d="M116.00,74.95 L116.00,75.40 L116.50,75.40 L117.00,75.38 L117.50,75.36 L118.00,75.33 L118.50,75.30 L119.00,75.25 L119.50,75.20 L120.00,75.09 L120.50,74.88 L121.00,74.60 L121.50,74.12 L122.00,73.36 L122.50,72.45 L123.00,71.50 L123.50,70.55 L124.00,69.52 L124.50,68.38 L125.00,67.09 L125.50,65.60 L126.00,63.75 L126.50,61.47 L127.00,58.88 L127.50,56.08 L128.00,53.18 L128.50,50.16 L129.00,46.83 L129.50,43.31 L130.00,39.70 L130.50,35.85 L131.00,31.76 L131.50,27.76 L132.00,24.20 L132.50,21.03 L133.00,18.50 L133.50,16.54 L134.00,15.81 L134.50,16.20 L135.00,17.03 L135.50,18.97 L136.00,21.18 L136.50,23.59 L137.00,26.24 L137.50,29.01 L138.00,31.86 L138.50,34.99 L139.00,38.20 L139.50,41.22 L140.00,43.85 L140.50,46.38 L141.00,48.77 L141.50,50.97 L142.00,52.90 L142.50,54.52 L143.00,55.98 L143.50,57.33 L144.00,58.58 L144.50,59.73 L145.00,60.79 L145.50,61.77 L146.00,62.66 L146.50,63.49 L147.00,64.28 L147.50,65.03 L148.00,65.74 L148.50,66.41 L149.00,67.04 L149.50,67.63 L150.00,68.18 L150.50,68.68 L151.00,69.14 L151.50,69.56 L152.00,69.97 L152.50,70.35 L153.00,70.73 L153.50,71.08 L154.00,71.43 L154.50,71.75 L155.00,72.05 L155.50,72.33 L156.00,72.59 L156.50,72.82 L157.00,73.03 L157.50,73.21 L158.00,73.36 L158.50,73.50 L159.00,73.64 L159.50,73.76 L160.00,73.89 L160.50,74.00 L161.00,74.11 L161.50,74.21 L162.00,74.30 L162.50,74.38 L163.00,74.46 L163.50,74.53 L164.00,74.60 L164.50,74.65 L165.00,74.70 L165.50,74.74 L166.00,74.79 L166.50,74.83 L167.00,74.87 L167.50,74.91 L168.00,74.94 L168.50,74.98 L169.00,75.01 L169.50,75.03 L170.00,75.06 L170.50,75.08 L171.00,75.09 L171.50,75.10 L172.00,75.10 L172.00,74.95 Z" fill="url(#g1)" stroke="none"/>
<polyline points="116.00,75.40 116.50,75.40 117.00,75.38 117.50,75.36 118.00,75.33 118.50,75.30 119.00,75.25 119.50,75.20 120.00,75.09 120.50,74.88 121.00,74.60 121.50,74.12 122.00,73.36 122.50,72.45 123.00,71.50 123.50,70.55 124.00,69.52 124.50,68.38 125.00,67.09 125.50,65.60 126.00,63.75 126.50,61.47 127.00,58.88 127.50,56.08 128.00,53.18 128.50,50.16 129.00,46.83 129.50,43.31 130.00,39.70 130.50,35.85 131.00,31.76 131.50,27.76 132.00,24.20 132.50,21.03 133.00,18.50 133.50,16.54 134.00,15.81 134.50,16.20 135.00,17.03 135.50,18.97 136.00,21.18 136.50,23.59 137.00,26.24 137.50,29.01 138.00,31.86 138.50,34.99 139.00,38.20 139.50,41.22 140.00,43.85 140.50,46.38 141.00,48.77 141.50,50.97 142.00,52.90 142.50,54.52 143.00,55.98 143.50,57.33 144.00,58.58 144.50,59.73 145.00,60.79 145.50,61.77 146.00,62.66 146.50,63.49 147.00,64.28 147.50,65.03 148.00,65.74 148.50,66.41 149.00,67.04 149.50,67.63 150.00,68.18 150.50,68.68 151.00,69.14 151.50,69.56 152.00,69.97 152.50,70.35 153.00,70.73 153.50,71.08 154.00,71.43 154.50,71.75 155.00,72.05 155.50,72.33 156.00,72.59 156.50,72.82 157.00,73.03 157.50,73.21 158.00,73.36 158.50,73.50 159.00,73.64 159.50,73.76 160.00,73.89 160.50,74.00 161.00,74.11 161.50,74.21 162.00,74.30 162.50,74.38 163.00,74.46 163.50,74.53 164.00,74.60 164.50,74.65 165.00,74.70 165.50,74.74 166.00,74.79 166.50,74.83 167.00,74.87 167.50,74.91 168.00,74.94 168.50,74.98 169.00,75.01 169.50,75.03 170.00,75.06 170.50,75.08 171.00,75.09 171.50,75.10 172.00,75.10" fill="none" stroke="#2a9d9d" stroke-width="1.3" stroke-linejoin="round" />
<polyline points="49.60,28.00 49.85,36.27 50.10,42.00 50.35,46.32 50.60,49.00 50.85,50.41 51.10,51.55 51.35,52.46 51.60,53.18 51.85,53.78 52.10,54.30 52.35,54.79 52.60,55.27 52.85,55.73 53.10,56.17 53.35,56.57 53.60,56.93 53.85,57.25 54.10,57.51 54.35,57.71 54.60,57.84 54.85,57.90 55.10,57.90 55.35,57.89 55.60,57.87 55.85,57.85 56.10,57.82 56.35,57.79 56.60,57.75 56.85,57.71 57.10,57.67 57.35,57.63 57.60,57.58 57.85,57.51 58.10,57.43 58.35,57.33 58.60,57.22 58.85,57.10 59.10,56.97 59.35,56.84 59.60,56.70 59.85,56.57 60.10,56.45 60.35,56.32 60.60,56.18 60.85,56.02 61.10,55.86 61.35,55.69 61.60,55.53 61.85,55.39 62.10,55.27 62.35,55.17 62.60,55.12 62.85,55.14 63.10,56.19 63.35,58.09 63.60,60.05 63.85,61.27 64.10,62.06 64.35,62.78 64.60,63.44 64.85,64.00 65.10,64.48 65.35,64.86 65.60,65.12 65.85,65.29 66.10,65.44 66.35,65.56 66.60,65.66 66.85,65.76 67.10,65.83 67.35,65.90 67.60,65.96 67.85,66.01 68.10,66.05 68.35,66.08 68.60,66.11 68.85,66.13 69.10,66.15 69.35,66.18 69.60,66.21 69.85,66.25 70.10,66.30 70.35,66.42 70.60,66.63 70.85,66.94 71.10,67.31 71.35,67.72 71.60,68.16 71.85,68.61 72.10,69.04 72.35,69.44 72.60,69.79 72.85,70.07 73.10,70.27 73.35,70.44 73.60,70.60 73.85,70.76 74.10,70.90 74.35,71.03 74.60,71.15 74.85,71.26 75.10,71.36 75.35,71.45 75.60,71.54 75.85,71.61 76.10,71.68 76.35,71.74 76.60,71.79 76.85,71.84 77.10,71.89 77.35,71.93 77.60,71.97 77.85,72.02 78.10,72.06 78.35,72.12 78.60,72.17 78.85,72.24 79.10,72.32 79.35,72.40 79.60,72.50 79.85,72.60 80.10,72.70 80.35,72.81 80.60,72.91 80.85,73.02 81.10,73.12 81.35,73.22 81.60,73.32 81.85,73.40 82.10,73.48 82.35,73.55 82.60,73.60 82.85,73.65 83.10,73.69 83.35,73.74 83.60,73.78 83.85,73.83 84.10,73.87 84.35,73.91 84.60,73.95 84.85,73.99 85.10,74.03 85.35,74.06 85.60,74.10 85.85,74.13 86.10,74.16 86.35,74.19 86.60,74.21 86.85,74.23 87.10,74.25 87.35,74.27 87.60,74.28 87.85,74.29 88.10,74.30 88.35,74.30 88.60,74.30 88.85,74.30 89.10,74.30 89.35,74.30 89.60,74.30 89.85,74.30 90.10,74.30 90.35,74.30 90.60,74.30 90.85,74.30 91.10,74.30 91.35,74.30 91.60,74.30 91.85,74.30 92.10,74.30 92.35,74.30 92.60,74.30 92.85,74.29 93.10,74.29 93.35,74.29 93.60,74.28 93.85,74.28 94.10,74.27 94.35,74.26 94.60,74.26 94.85,74.25 95.10,74.24 95.35,74.23 95.60,74.22 95.85,74.21 96.10,74.20 96.35,74.19 96.60,74.18 96.85,74.17 97.10,74.16 97.35,74.15 97.60,74.13 97.85,74.12 98.10,74.11 98.35,74.10 98.60,74.08 98.85,74.07 99.10,74.05 99.35,74.03 99.60,74.01 99.85,73.98 100.10,73.96 100.35,73.93 100.60,73.90 100.85,73.87 101.10,73.83 101.35,73.79 101.60,73.76 101.85,73.72 102.10,73.67 102.35,73.63 102.60,73.58 102.85,73.52 103.10,73.45 103.35,73.37 103.60,73.28 103.85,73.18 104.10,73.07 104.35,72.95 104.60,72.82 104.85,72.68 105.10,72.54 105.35,72.38 105.60,72.22 105.85,72.05 106.10,71.88 106.35,71.69 106.60,71.51 106.85,71.31 107.10,71.11 107.35,70.91 107.60,70.70 107.85,70.49 108.10,70.27 108.35,70.05 108.60,69.83 108.85,69.60 109.10,69.38 109.35,69.15 109.60,68.92 109.85,68.68 110.10,68.45 110.35,68.22 110.60,67.99 110.85,67.75 111.10,67.51 111.35,67.26 111.60,66.99 111.85,66.71 112.10,66.42 112.35,66.12 112.60,65.82 112.85,65.50 113.10,65.17 113.35,64.84 113.60,64.50 113.85,64.15 114.10,63.80 114.35,63.44 114.60,63.08 114.85,62.72 115.10,62.35 115.35,61.99 115.60,61.63 115.85,61.26 116.10,60.89 116.35,60.52 116.60,60.14 116.85,59.74 117.10,59.33 117.35,58.91 117.60,58.46 117.85,58.00 118.10,57.51 118.35,56.99 118.60,56.44 118.85,55.86 119.10,55.25 119.35,54.57 119.60,53.82 119.85,53.00 120.10,52.11 120.35,51.16 120.60,50.15 120.85,49.07 121.10,47.94 121.35,46.74 121.60,45.48 121.85,44.04 122.10,42.43 122.35,40.67 122.60,38.81 122.85,36.88 123.10,34.90 123.35,32.68 123.60,30.15 123.85,27.53 124.10,25.07 124.35,22.98 124.60,21.43 124.85,19.99 125.10,18.71 125.35,17.78 125.60,17.40 125.85,17.37 126.10,17.34 126.35,17.32 126.60,17.31 126.85,17.30 127.10,17.33 127.35,17.62 127.60,18.18 127.85,18.92 128.10,19.78 128.35,20.69 128.60,21.90 128.85,23.47 129.10,25.30 129.35,27.30 129.60,29.36 129.85,31.41 130.10,33.67 130.35,36.17 130.60,38.75 130.85,41.28 131.10,43.60 131.35,45.56 131.60,47.30 131.85,48.92 132.10,50.43 132.35,51.87 132.60,53.25 132.85,54.58 133.10,55.90 133.35,57.21 133.60,58.53 133.85,59.87 134.10,61.20 134.35,62.51 134.60,63.78 134.85,65.00 135.10,66.15 135.35,67.21 135.60,68.18 135.85,69.16 136.10,70.13 136.35,71.06 136.60,71.93 136.85,72.70 137.10,73.33 137.35,73.81 137.60,74.10 137.85,74.35 138.10,74.58 138.35,74.78 138.60,74.97 138.85,75.13 139.10,75.27 139.35,75.38 139.60,75.45 139.85,75.49 140.00,75.50" fill="none" stroke="#858585" stroke-width="1.1" stroke-linejoin="round" stroke-dasharray="4.3,5.5"/>
</g>
<g clip-path="url(#ca2)">
<linearGradient id="g2" x1="0" y1="88.2" x2="0" y2="146.8" gradientUnits="userSpaceOnUse"><stop offset="0" stop-color="#ffa6a6"/><stop offset="0.45" stop-color="#ffd6d6"/><stop offset="1" stop-color="#fffafa"/></linearGradient>
<path d="M140.00,146.80 L140.00,147.30 L140.50,147.30 L141.00,147.30 L141.50,147.29 L142.00,147.29 L142.50,147.28 L143.00,147.28 L143.50,147.27 L144.00,147.26 L144.50,147.25 L145.00,147.24 L145.50,147.23 L146.00,147.22 L146.50,147.21 L147.00,147.19 L147.50,147.18 L148.00,147.16 L148.50,147.15 L149.00,147.13 L149.50,147.12 L150.00,147.10 L150.50,147.08 L151.00,147.06 L151.50,147.03 L152.00,147.00 L152.50,146.97 L153.00,146.94 L153.50,146.90 L154.00,146.86 L154.50,146.81 L155.00,146.76 L155.50,146.71 L156.00,146.66 L156.50,146.60 L157.00,146.55 L157.50,146.49 L158.00,146.43 L158.50,146.36 L159.00,146.29 L159.50,146.22 L160.00,146.15 L160.50,146.06 L161.00,145.97 L161.50,145.86 L162.00,145.75 L162.50,145.62 L163.00,145.47 L163.50,145.30 L164.00,145.12 L164.50,144.90 L165.00,144.55 L165.50,144.04 L166.00,143.42 L166.50,142.68 L167.00,141.86 L167.50,140.98 L168.00,140.06 L168.50,139.11 L169.00,138.03 L169.50,136.78 L170.00,135.38 L170.50,133.86 L171.00,132.24 L171.50,130.54 L172.00,128.79 L172.50,127.00 L173.00,125.07 L173.50,122.92 L174.00,120.61 L174.50,118.21 L175.00,115.79 L175.50,113.40 L176.00,111.11 L176.50,109.00 L177.00,107.03 L177.50,105.08 L178.00,103.16 L178.50,101.29 L179.00,99.50 L179.50,97.81 L180.00,96.25 L180.50,94.82 L181.00,93.53 L181.50,92.29 L182.00,91.16 L182.50,90.20 L183.00,89.50 L183.50,88.96 L184.00,88.49 L184.50,88.23 L185.00,88.22 L185.50,88.33 L186.00,88.50 L186.50,88.79 L187.00,89.26 L187.50,89.83 L188.00,90.46 L188.50,91.24 L189.00,92.17 L189.50,93.20 L190.00,94.29 L190.50,95.41 L191.00,96.52 L191.50,97.70 L192.00,98.96 L192.50,100.27 L193.00,101.61 L193.50,102.94 L194.00,104.24 L194.50,105.47 L195.00,106.60 L195.50,107.65 L196.00,108.68 L196.50,109.67 L197.00,110.63 L197.50,111.57 L198.00,112.48 L198.50,113.38 L199.00,114.25 L199.50,115.11 L200.00,115.96 L200.50,116.80 L201.00,117.63 L201.50,118.46 L202.00,119.30 L202.50,120.13 L203.00,120.96 L203.50,121.77 L204.00,122.57 L204.50,123.35 L205.00,124.10 L205.50,124.83 L206.00,125.52 L206.50,126.17 L207.00,126.77 L207.50,127.33 L208.00,127.87 L208.50,128.40 L209.00,128.90 L209.50,129.39 L210.00,129.86 L210.50,130.32 L211.00,130.76 L211.50,131.19 L212.00,131.61 L212.50,132.01 L213.00,132.41 L213.50,132.80 L214.00,133.18 L214.50,133.55 L215.00,133.91 L215.50,134.27 L216.00,134.63 L216.50,134.98 L217.00,135.34 L217.50,135.68 L218.00,136.03 L218.50,136.37 L219.00,136.70 L219.50,137.03 L220.00,137.35 L220.50,137.67 L221.00,137.97 L221.50,138.27 L222.00,138.56 L222.50,138.84 L223.00,139.10 L223.50,139.36 L224.00,139.60 L224.50,139.84 L225.00,140.06 L225.50,140.26 L226.00,140.46 L226.50,140.65 L227.00,140.83 L227.50,141.02 L228.00,141.20 L228.50,141.38 L229.00,141.55 L229.50,141.73 L230.00,141.89 L230.50,142.05 L231.00,142.21 L231.50,142.36 L232.00,142.51 L232.50,142.65 L233.00,142.79 L233.50,142.92 L234.00,143.05 L234.50,143.16 L235.00,143.28 L235.50,143.38 L236.00,143.48 L236.50,143.58 L237.00,143.66 L237.50,143.74 L238.00,143.81 L238.50,143.88 L239.00,143.95 L239.50,144.01 L240.00,144.07 L240.50,144.13 L241.00,144.19 L241.50,144.25 L242.00,144.30 L242.50,144.36 L243.00,144.41 L243.50,144.46 L244.00,144.51 L244.50,144.56 L245.00,144.61 L245.50,144.65 L246.00,144.69 L246.50,144.74 L247.00,144.78 L247.50,144.82 L248.00,144.86 L248.50,144.90 L249.00,144.94 L249.50,144.97 L250.00,145.01 L250.50,145.04 L251.00,145.08 L251.50,145.11 L252.00,145.14 L252.50,145.17 L253.00,145.21 L253.50,145.24 L254.00,145.27 L254.50,145.30 L255.00,145.33 L255.50,145.35 L256.00,145.38 L256.50,145.41 L257.00,145.44 L257.50,145.47 L258.00,145.49 L258.50,145.52 L259.00,145.55 L259.50,145.57 L260.00,145.60 L260.50,145.62 L261.00,145.65 L261.50,145.67 L262.00,145.70 L262.50,145.72 L263.00,145.75 L263.50,145.77 L264.00,145.79 L264.50,145.82 L265.00,145.84 L265.50,145.86 L266.00,145.88 L266.50,145.90 L267.00,145.92 L267.50,145.95 L268.00,145.97 L268.50,145.99 L269.00,146.01 L269.50,146.03 L270.00,146.05 L270.50,146.06 L271.00,146.08 L271.50,146.10 L272.00,146.12 L272.50,146.14 L273.00,146.16 L273.50,146.17 L274.00,146.19 L274.50,146.21 L275.00,146.22 L275.50,146.24 L276.00,146.26 L276.50,146.27 L277.00,146.29 L277.50,146.30 L278.00,146.32 L278.50,146.33 L279.00,146.35 L279.50,146.36 L280.00,146.38 L280.50,146.39 L281.00,146.41 L281.50,146.42 L282.00,146.43 L282.50,146.45 L283.00,146.46 L283.50,146.47 L284.00,146.49 L284.50,146.50 L285.00,146.52 L285.50,146.53 L286.00,146.54 L286.50,146.56 L287.00,146.57 L287.50,146.58 L288.00,146.60 L288.50,146.61 L289.00,146.62 L289.50,146.64 L290.00,146.65 L290.50,146.66 L291.00,146.67 L291.50,146.69 L292.00,146.70 L292.50,146.71 L293.00,146.73 L293.50,146.74 L294.00,146.75 L294.50,146.76 L295.00,146.78 L295.50,146.79 L296.00,146.80 L296.50,146.81 L297.00,146.83 L297.50,146.84 L298.00,146.85 L298.50,146.86 L299.00,146.87 L299.50,146.88 L300.00,146.90 L300.50,146.91 L301.00,146.92 L301.50,146.93 L302.00,146.94 L302.50,146.95 L303.00,146.96 L303.50,146.97 L304.00,146.98 L304.50,146.99 L305.00,147.00 L305.50,147.01 L306.00,147.02 L306.50,147.03 L307.00,147.04 L307.50,147.05 L308.00,147.06 L308.50,147.07 L309.00,147.08 L309.50,147.09 L310.00,147.10 L310.50,147.11 L311.00,147.12 L311.50,147.13 L312.00,147.14 L312.50,147.14 L313.00,147.15 L313.50,147.16 L314.00,147.17 L314.50,147.17 L315.00,147.18 L315.50,147.19 L316.00,147.20 L316.50,147.20 L317.00,147.21 L317.50,147.22 L318.00,147.22 L318.50,147.23 L319.00,147.24 L319.50,147.24 L320.00,147.25 L320.50,147.25 L321.00,147.26 L321.50,147.26 L322.00,147.27 L322.50,147.27 L323.00,147.28 L323.50,147.28 L324.00,147.29 L324.50,147.29 L325.00,147.29 L325.50,147.30 L326.00,147.30 L326.00,146.80 Z" fill="url(#g2)" stroke="none"/>
<polyline points="140.00,147.30 140.50,147.30 141.00,147.30 141.50,147.29 142.00,147.29 142.50,147.28 143.00,147.28 143.50,147.27 144.00,147.26 144.50,147.25 145.00,147.24 145.50,147.23 146.00,147.22 146.50,147.21 147.00,147.19 147.50,147.18 148.00,147.16 148.50,147.15 149.00,147.13 149.50,147.12 150.00,147.10 150.50,147.08 151.00,147.06 151.50,147.03 152.00,147.00 152.50,146.97 153.00,146.94 153.50,146.90 154.00,146.86 154.50,146.81 155.00,146.76 155.50,146.71 156.00,146.66 156.50,146.60 157.00,146.55 157.50,146.49 158.00,146.43 158.50,146.36 159.00,146.29 159.50,146.22 160.00,146.15 160.50,146.06 161.00,145.97 161.50,145.86 162.00,145.75 162.50,145.62 163.00,145.47 163.50,145.30 164.00,145.12 164.50,144.90 165.00,144.55 165.50,144.04 166.00,143.42 166.50,142.68 167.00,141.86 167.50,140.98 168.00,140.06 168.50,139.11 169.00,138.03 169.50,136.78 170.00,135.38 170.50,133.86 171.00,132.24 171.50,130.54 172.00,128.79 172.50,127.00 173.00,125.07 173.50,122.92 174.00,120.61 174.50,118.21 175.00,115.79 175.50,113.40 176.00,111.11 176.50,109.00 177.00,107.03 177.50,105.08 178.00,103.16 178.50,101.29 179.00,99.50 179.50,97.81 180.00,96.25 180.50,94.82 181.00,93.53 181.50,92.29 182.00,91.16 182.50,90.20 183.00,89.50 183.50,88.96 184.00,88.49 184.50,88.23 185.00,88.22 185.50,88.33 186.00,88.50 186.50,88.79 187.00,89.26 187.50,89.83 188.00,90.46 188.50,91.24 189.00,92.17 189.50,93.20 190.00,94.29 190.50,95.41 191.00,96.52 191.50,97.70 192.00,98.96 192.50,100.27 193.00,101.61 193.50,102.94 194.00,104.24 194.50,105.47 195.00,106.60 195.50,107.65 196.00,108.68 196.50,109.67 197.00,110.63 197.50,111.57 198.00,112.48 198.50,113.38 199.00,114.25 199.50,115.11 200.00,115.96 200.50,116.80 201.00,117.63 201.50,118.46 202.00,119.30 202.50,120.13 203.00,120.96 203.50,121.77 204.00,122.57 204.50,123.35 205.00,124.10 205.50,124.83 206.00,125.52 206.50,126.17 207.00,126.77 207.50,127.33 208.00,127.87 208.50,128.40 209.00,128.90 209.50,129.39 210.00,129.86 210.50,130.32 211.00,130.76 211.50,131.19 212.00,131.61 212.50,132.01 213.00,132.41 213.50,132.80 214.00,133.18 214.50,133.55 215.00,133.91 215.50,134.27 216.00,134.63 216.50,134.98 217.00,135.34 217.50,135.68 218.00,136.03 218.50,136.37 219.00,136.70 219.50,137.03 220.00,137.35 220.50,137.67 221.00,137.97 221.50,138.27 222.00,138.56 222.50,138.84 223.00,139.10 223.50,139.36 224.00,139.60 224.50,139.84 225.00,140.06 225.50,140.26 226.00,140.46 226.50,140.65 227.00,140.83 227.50,141.02 228.00,141.20 228.50,141.38 229.00,141.55 229.50,141.73 230.00,141.89 230.50,142.05 231.00,142.21 231.50,142.36 232.00,142.51 232.50,142.65 233.00,142.79 233.50,142.92 234.00,143.05 234.50,143.16 235.00,143.28 235.50,143.38 236.00,143.48 236.50,143.58 237.00,143.66 237.50,143.74 238.00,143.81 238.50,143.88 239.00,143.95 239.50,144.01 240.00,144.07 240.50,144.13 241.00,144.19 241.50,144.25 242.00,144.30 242.50,144.36 243.00,144.41 243.50,144.46 244.00,144.51 244.50,144.56 245.00,144.61 245.50,144.65 246.00,144.69 246.50,144.74 247.00,144.78 247.50,144.82 248.00,144.86 248.50,144.90 249.00,144.94 249.50,144.97 250.00,145.01 250.50,145.04 251.00,145.08 251.50,145.11 252.00,145.14 252.50,145.17 253.00,145.21 253.50,145.24 254.00,145.27 254.50,145.30 255.00,145.33 255.50,145.35 256.00,145.38 256.50,145.41 257.00,145.44 257.50,145.47 258.00,145.49 258.50,145.52 259.00,145.55 259.50,145.57 260.00,145.60 260.50,145.62 261.00,145.65 261.50,145.67 262.00,145.70 262.50,145.72 263.00,145.75 263.50,145.77 264.00,145.79 264.50,145.82 265.00,145.84 265.50,145.86 266.00,145.88 266.50,145.90 267.00,145.92 267.50,145.95 268.00,145.97 268.50,145.99 269.00,146.01 269.50,146.03 270.00,146.05 270.50,146.06 271.00,146.08 271.50,146.10 272.00,146.12 272.50,146.14 273.00,146.16 273.50,146.17 274.00,146.19 274.50,146.21 275.00,146.22 275.50,146.24 276.00,146.26 276.50,146.27 277.00,146.29 277.50,146.30 278.00,146.32 278.50,146.33 279.00,146.35 279.50,146.36 280.00,146.38 280.50,146.39 281.00,146.41 281.50,146.42 282.00,146.43 282.50,146.45 283.00,146.46 283.50,146.47 284.00,146.49 284.50,146.50 285.00,146.52 285.50,146.53 286.00,146.54 286.50,146.56 287.00,146.57 287.50,146.58 288.00,146.60 288.50,146.61 289.00,146.62 289.50,146.64 290.00,146.65 290.50,146.66 291.00,146.67 291.50,146.69 292.00,146.70 292.50,146.71 293.00,146.73 293.50,146.74 294.00,146.75 294.50,146.76 295.00,146.78 295.50,146.79 296.00,146.80 296.50,146.81 297.00,146.83 297.50,146.84 298.00,146.85 298.50,146.86 299.00,146.87 299.50,146.88 300.00,146.90 300.50,146.91 301.00,146.92 301.50,146.93 302.00,146.94 302.50,146.95 303.00,146.96 303.50,146.97 304.00,146.98 304.50,146.99 305.00,147.00 305.50,147.01 306.00,147.02 306.50,147.03 307.00,147.04 307.50,147.05 308.00,147.06 308.50,147.07 309.00,147.08 309.50,147.09 310.00,147.10 310.50,147.11 311.00,147.12 311.50,147.13 312.00,147.14 312.50,147.14 313.00,147.15 313.50,147.16 314.00,147.17 314.50,147.17 315.00,147.18 315.50,147.19 316.00,147.20 316.50,147.20 317.00,147.21 317.50,147.22 318.00,147.22 318.50,147.23 319.00,147.24 319.50,147.24 320.00,147.25 320.50,147.25 321.00,147.26 321.50,147.26 322.00,147.27 322.50,147.27 323.00,147.28 323.50,147.28 324.00,147.29 324.50,147.29 325.00,147.29 325.50,147.30 326.00,147.30" fill="none" stroke="#ff2a2a" stroke-width="1.3" stroke-linejoin="round" />
<polyline points="63.40,109.10 63.65,110.07 63.90,110.99 64.15,111.87 64.40,112.69 64.65,113.45 64.90,114.20 65.15,114.95 65.40,115.66 65.65,116.32 65.90,116.88 66.15,117.31 66.40,117.60 66.65,117.85 66.90,118.08 67.15,118.27 67.40,118.41 67.65,118.49 67.90,118.49 68.15,118.42 68.40,118.28 68.65,118.09 68.90,117.84 69.15,117.56 69.40,117.25 69.65,116.93 69.90,116.60 70.15,116.28 70.40,115.98 70.65,115.71 70.90,115.47 71.15,115.28 71.40,115.16 71.65,115.10 71.90,115.11 72.15,115.15 72.40,115.21 72.65,115.30 72.90,115.40 73.15,115.52 73.40,115.67 73.65,116.00 73.90,116.51 74.15,117.14 74.40,117.84 74.65,118.59 74.90,119.31 75.15,119.98 75.40,120.57 75.65,121.16 75.90,121.75 76.15,122.35 76.40,122.95 76.65,123.57 76.90,124.24 77.15,124.99 77.40,125.79 77.65,126.62 77.90,127.42 78.15,128.19 78.40,128.87 78.65,129.44 78.90,129.88 79.15,130.16 79.40,130.41 79.65,130.63 79.90,130.83 80.15,131.01 80.40,131.18 80.65,131.33 80.90,131.47 81.15,131.60 81.40,131.73 81.65,131.86 81.90,131.98 82.15,132.10 82.40,132.23 82.65,132.37 82.90,132.51 83.15,132.66 83.40,132.80 83.65,132.94 83.90,133.08 84.15,133.22 84.40,133.36 84.65,133.50 84.90,133.63 85.15,133.76 85.40,133.89 85.65,134.02 85.90,134.15 86.15,134.28 86.40,134.40 86.65,134.52 86.90,134.64 87.15,134.75 87.40,134.86 87.65,134.97 87.90,135.08 88.15,135.18 88.40,135.28 88.65,135.36 88.90,135.44 89.15,135.52 89.40,135.59 89.65,135.65 89.90,135.72 90.15,135.78 90.40,135.85 90.65,135.91 90.90,135.99 91.15,136.06 91.40,136.15 91.65,136.25 91.90,136.35 92.15,136.47 92.40,136.60 92.65,136.78 92.90,137.02 93.15,137.33 93.40,137.69 93.65,138.09 93.90,138.52 94.15,138.97 94.40,139.44 94.65,139.91 94.90,140.37 95.15,140.82 95.40,141.24 95.65,141.63 95.90,141.97 96.15,142.25 96.40,142.52 96.65,142.79 96.90,143.05 97.15,143.31 97.40,143.56 97.65,143.81 97.90,144.04 98.15,144.26 98.40,144.46 98.65,144.65 98.90,144.81 99.15,144.96 99.40,145.08 99.65,145.18 99.90,145.26 100.15,145.34 100.40,145.41 100.65,145.48 100.90,145.55 101.15,145.61 101.40,145.68 101.65,145.73 101.90,145.79 102.15,145.84 102.40,145.89 102.65,145.94 102.90,145.99 103.15,146.03 103.40,146.07 103.65,146.11 103.90,146.15 104.15,146.18 104.40,146.22 104.65,146.25 104.90,146.28 105.15,146.30 105.40,146.33 105.65,146.35 105.90,146.38 106.15,146.40 106.40,146.42 106.65,146.44 106.90,146.45 107.15,146.47 107.40,146.49 107.65,146.51 107.90,146.52 108.15,146.54 108.40,146.55 108.65,146.57 108.90,146.58 109.15,146.59 109.40,146.59 109.65,146.60 109.90,146.60 110.15,146.60 110.40,146.60 110.65,146.59 110.90,146.58 111.15,146.56 111.40,146.55 111.65,146.53 111.90,146.51 112.15,146.48 112.40,146.45 112.65,146.43 112.90,146.39 113.15,146.36 113.40,146.33 113.65,146.29 113.90,146.25 114.15,146.21 114.40,146.17 114.65,146.12 114.90,146.08 115.15,146.04 115.40,145.99 115.65,145.94 115.90,145.90 116.15,145.85 116.40,145.80 116.65,145.75 116.90,145.71 117.15,145.66 117.40,145.61 117.65,145.56 117.90,145.52 118.15,145.47 118.40,145.43 118.65,145.38 118.90,145.33 119.15,145.28 119.40,145.23 119.65,145.18 119.90,145.12 120.15,145.07 120.40,145.01 120.65,144.96 120.90,144.90 121.15,144.84 121.40,144.78 121.65,144.71 121.90,144.65 122.15,144.59 122.40,144.52 122.65,144.45 122.90,144.38 123.15,144.31 123.40,144.24 123.65,144.16 123.90,144.09 124.15,144.01 124.40,143.93 124.65,143.85 124.90,143.76 125.15,143.68 125.40,143.59 125.65,143.50 125.90,143.41 126.15,143.32 126.40,143.22 126.65,143.12 126.90,143.02 127.15,142.92 127.40,142.82 127.65,142.70 127.90,142.59 128.15,142.46 128.40,142.34 128.65,142.20 128.90,142.06 129.15,141.92 129.40,141.77 129.65,141.61 129.90,141.45 130.15,141.29 130.40,141.12 130.65,140.95 130.90,140.77 131.15,140.58 131.40,140.40 131.65,140.20 131.90,140.01 132.15,139.81 132.40,139.60 132.65,139.39 132.90,139.18 133.15,138.96 133.40,138.74 133.65,138.52 133.90,138.29 134.15,138.06 134.40,137.83 134.65,137.59 134.90,137.35 135.15,137.11 135.40,136.86 135.65,136.61 135.90,136.36 136.15,136.11 136.40,135.85 136.65,135.60 136.90,135.33 137.15,135.07 137.40,134.81 137.65,134.54 137.90,134.26 138.15,133.97 138.40,133.67 138.65,133.35 138.90,133.03 139.15,132.70 139.40,132.36 139.65,132.01 139.90,131.65 140.15,131.29 140.40,130.91 140.65,130.53 140.90,130.14 141.15,129.74 141.40,129.34 141.65,128.93 141.90,128.52 142.15,128.10 142.40,127.67 142.65,127.25 142.90,126.81 143.15,126.37 143.40,125.93 143.65,125.49 143.90,125.04 144.15,124.57 144.40,124.09 144.65,123.59 144.90,123.08 145.15,122.55 145.40,122.01 145.65,121.46 145.90,120.91 146.15,120.34 146.40,119.76 146.65,119.18 146.90,118.59 147.15,118.00 147.40,117.40 147.65,116.80 147.90,116.19 148.15,115.58 148.40,114.97 148.65,114.37 148.90,113.76 149.15,113.16 149.40,112.55 149.65,111.96 149.90,111.36 150.15,110.77 150.40,110.19 150.65,109.62 150.90,109.06 151.15,108.50 151.40,107.96 151.65,107.42 151.90,106.90 152.15,106.38 152.40,105.86 152.65,105.33 152.90,104.80 153.15,104.27 153.40,103.74 153.65,103.22 153.90,102.70 154.15,102.20 154.40,101.71 154.65,101.23 154.90,100.77 155.15,100.33 155.40,99.91 155.65,99.51 155.90,99.14 156.15,98.80 156.40,98.48 156.65,98.17 156.90,97.89 157.15,97.61 157.40,97.35 157.65,97.10 157.90,96.85 158.15,96.61 158.40,96.37 158.65,96.13 158.90,95.89 159.15,95.64 159.40,95.39 159.65,95.13 159.90,94.85 160.15,94.56 160.40,94.25 160.65,93.91 160.90,93.55 161.15,93.17 161.40,92.78 161.65,92.39 161.90,92.00 162.15,91.63 162.40,91.26 162.65,90.92 162.90,90.60 163.15,90.32 163.40,90.08 163.65,89.88 163.90,89.68 164.15,89.48 164.40,89.28 164.65,89.09 164.90,88.92 165.15,88.77 165.40,88.63 165.65,88.53 165.90,88.45 166.15,88.41 166.40,88.40 166.65,88.42 166.90,88.45 167.15,88.50 167.40,88.57 167.65,88.65 167.90,88.74 168.15,88.84 168.40,88.95 168.65,89.09 168.90,89.34 169.15,89.69 169.40,90.12 169.65,90.61 169.90,91.15 170.15,91.72 170.40,92.30 170.65,92.94 170.90,93.68 171.15,94.52 171.40,95.43 171.65,96.41 171.90,97.45 172.15,98.52 172.40,99.63 172.65,100.74 172.90,101.87 173.15,102.98 173.40,104.07 173.65,105.14 173.90,106.25 174.15,107.38 174.40,108.54 174.65,109.72 174.90,110.91 175.15,112.11 175.40,113.30 175.65,114.49 175.90,115.66 176.15,116.81 176.40,117.93 176.65,119.02 176.90,120.10 177.15,121.21 177.40,122.32 177.65,123.44 177.90,124.55 178.15,125.66 178.40,126.76 178.65,127.83 178.90,128.88 179.15,129.90 179.40,130.89 179.65,131.83 179.90,132.72 180.15,133.57 180.40,134.35 180.65,135.06 180.90,135.73 181.15,136.37 181.40,136.98 181.65,137.56 181.90,138.12 182.15,138.65 182.40,139.16 182.65,139.63 182.90,140.07 183.15,140.48 183.40,140.86 183.65,141.21 183.90,141.54 184.15,141.86 184.40,142.16 184.65,142.45 184.90,142.73 185.15,143.00 185.40,143.25 185.65,143.48 185.90,143.71 186.15,143.92 186.40,144.11 186.65,144.30 186.90,144.47 187.15,144.63 187.40,144.78 187.65,144.93 187.90,145.07 188.15,145.20 188.40,145.33 188.65,145.45 188.90,145.57 189.15,145.68 189.40,145.79 189.65,145.90 189.90,146.00 190.15,146.11 190.40,146.21 190.65,146.30 190.90,146.40 191.15,146.50 191.40,146.59 191.65,146.68 191.90,146.77 192.15,146.85 192.40,146.94 192.65,147.02 192.90,147.09 193.15,147.17 193.40,147.24 193.65,147.31 193.90,147.37 194.00,147.40" fill="none" stroke="#858585" stroke-width="1.1" stroke-linejoin="round" stroke-dasharray="4.3,5.5"/>
</g>
<g clip-path="url(#ca3)">
<linearGradient id="g3" x1="0" y1="160.4" x2="0" y2="219.1" gradientUnits="userSpaceOnUse"><stop offset="0" stop-color="#9e6c6c"/><stop offset="0.45" stop-color="#d2c0c0"/><stop offset="1" stop-color="#faf7f7"/></linearGradient>
<path d="M119.00,219.10 L119.00,218.60 L119.50,218.60 L120.00,218.60 L120.50,218.60 L121.00,218.60 L121.50,218.60 L122.00,218.59 L122.50,218.59 L123.00,218.59 L123.50,218.59 L124.00,218.59 L124.50,218.59 L125.00,218.59 L125.50,218.59 L126.00,218.59 L126.50,218.58 L127.00,218.58 L127.50,218.58 L128.00,218.58 L128.50,218.58 L129.00,218.58 L129.50,218.58 L130.00,218.58 L130.50,218.57 L131.00,218.57 L131.50,218.57 L132.00,218.57 L132.50,218.57 L133.00,218.57 L133.50,218.56 L134.00,218.56 L134.50,218.56 L135.00,218.56 L135.50,218.56 L136.00,218.56 L136.50,218.55 L137.00,218.55 L137.50,218.55 L138.00,218.55 L138.50,218.55 L139.00,218.55 L139.50,218.54 L140.00,218.54 L140.50,218.54 L141.00,218.54 L141.50,218.54 L142.00,218.53 L142.50,218.53 L143.00,218.53 L143.50,218.53 L144.00,218.53 L144.50,218.52 L145.00,218.52 L145.50,218.52 L146.00,218.52 L146.50,218.52 L147.00,218.51 L147.50,218.51 L148.00,218.51 L148.50,218.51 L149.00,218.50 L149.50,218.50 L150.00,218.50 L150.50,218.50 L151.00,218.50 L151.50,218.49 L152.00,218.49 L152.50,218.49 L153.00,218.49 L153.50,218.49 L154.00,218.48 L154.50,218.48 L155.00,218.48 L155.50,218.48 L156.00,218.48 L156.50,218.47 L157.00,218.47 L157.50,218.47 L158.00,218.47 L158.50,218.47 L159.00,218.46 L159.50,218.46 L160.00,218.46 L160.50,218.46 L161.00,218.46 L161.50,218.45 L162.00,218.45 L162.50,218.45 L163.00,218.45 L163.50,218.44 L164.00,218.44 L164.50,218.44 L165.00,218.44 L165.50,218.43 L166.00,218.43 L166.50,218.43 L167.00,218.42 L167.50,218.42 L168.00,218.42 L168.50,218.41 L169.00,218.41 L169.50,218.41 L170.00,218.40 L170.50,218.40 L171.00,218.40 L171.50,218.39 L172.00,218.39 L172.50,218.38 L173.00,218.38 L173.50,218.37 L174.00,218.37 L174.50,218.36 L175.00,218.36 L175.50,218.35 L176.00,218.35 L176.50,218.34 L177.00,218.34 L177.50,218.33 L178.00,218.33 L178.50,218.32 L179.00,218.31 L179.50,218.31 L180.00,218.30 L180.50,218.29 L181.00,218.28 L181.50,218.27 L182.00,218.25 L182.50,218.23 L183.00,218.21 L183.50,218.19 L184.00,218.16 L184.50,218.14 L185.00,218.11 L185.50,218.08 L186.00,218.05 L186.50,218.01 L187.00,217.98 L187.50,217.94 L188.00,217.90 L188.50,217.86 L189.00,217.81 L189.50,217.75 L190.00,217.69 L190.50,217.62 L191.00,217.54 L191.50,217.46 L192.00,217.36 L192.50,217.26 L193.00,217.15 L193.50,217.02 L194.00,216.85 L194.50,216.64 L195.00,216.39 L195.50,216.11 L196.00,215.80 L196.50,215.42 L197.00,214.94 L197.50,214.40 L198.00,213.82 L198.50,213.23 L199.00,212.66 L199.50,212.08 L200.00,211.49 L200.50,210.86 L201.00,210.20 L201.50,209.50 L202.00,208.75 L202.50,207.95 L203.00,207.10 L203.50,206.19 L204.00,205.21 L204.50,204.16 L205.00,203.04 L205.50,201.83 L206.00,200.56 L206.50,199.21 L207.00,197.80 L207.50,196.31 L208.00,194.76 L208.50,193.13 L209.00,191.30 L209.50,189.30 L210.00,187.19 L210.50,185.04 L211.00,182.92 L211.50,180.88 L212.00,178.94 L212.50,176.99 L213.00,175.03 L213.50,173.11 L214.00,171.28 L214.50,169.59 L215.00,168.08 L215.50,166.71 L216.00,165.40 L216.50,164.17 L217.00,163.07 L217.50,162.16 L218.00,161.48 L218.50,160.88 L219.00,160.36 L219.50,160.00 L220.00,159.90 L220.50,160.01 L221.00,160.25 L221.50,160.58 L222.00,160.98 L222.50,161.42 L223.00,161.91 L223.50,162.58 L224.00,163.41 L224.50,164.36 L225.00,165.40 L225.50,166.49 L226.00,167.58 L226.50,168.71 L227.00,169.96 L227.50,171.30 L228.00,172.70 L228.50,174.13 L229.00,175.56 L229.50,176.96 L230.00,178.29 L230.50,179.55 L231.00,180.82 L231.50,182.08 L232.00,183.33 L232.50,184.54 L233.00,185.70 L233.50,186.80 L234.00,187.83 L234.50,188.77 L235.00,189.66 L235.50,190.51 L236.00,191.33 L236.50,192.12 L237.00,192.89 L237.50,193.62 L238.00,194.32 L238.50,195.00 L239.00,195.66 L239.50,196.29 L240.00,196.90 L240.50,197.49 L241.00,198.06 L241.50,198.61 L242.00,199.14 L242.50,199.65 L243.00,200.15 L243.50,200.64 L244.00,201.11 L244.50,201.58 L245.00,202.04 L245.50,202.49 L246.00,202.93 L246.50,203.38 L247.00,203.81 L247.50,204.24 L248.00,204.67 L248.50,205.08 L249.00,205.49 L249.50,205.89 L250.00,206.29 L250.50,206.67 L251.00,207.05 L251.50,207.42 L252.00,207.78 L252.50,208.13 L253.00,208.47 L253.50,208.81 L254.00,209.15 L254.50,209.47 L255.00,209.79 L255.50,210.10 L256.00,210.41 L256.50,210.71 L257.00,211.00 L257.50,211.29 L258.00,211.57 L258.50,211.84 L259.00,212.11 L259.50,212.37 L260.00,212.62 L260.50,212.88 L261.00,213.13 L261.50,213.37 L262.00,213.61 L262.50,213.84 L263.00,214.07 L263.50,214.28 L264.00,214.49 L264.50,214.68 L265.00,214.86 L265.50,215.04 L266.00,215.21 L266.50,215.38 L267.00,215.55 L267.50,215.72 L268.00,215.88 L268.50,216.03 L269.00,216.18 L269.50,216.32 L270.00,216.46 L270.50,216.58 L271.00,216.70 L271.50,216.80 L272.00,216.90 L272.50,216.98 L273.00,217.06 L273.50,217.13 L274.00,217.20 L274.50,217.27 L275.00,217.33 L275.50,217.39 L276.00,217.45 L276.50,217.50 L277.00,217.55 L277.50,217.60 L278.00,217.65 L278.50,217.69 L279.00,217.73 L279.50,217.77 L280.00,217.81 L280.50,217.84 L281.00,217.88 L281.50,217.91 L282.00,217.94 L282.50,217.96 L283.00,217.99 L283.50,218.02 L284.00,218.05 L284.50,218.07 L285.00,218.10 L285.50,218.12 L286.00,218.15 L286.50,218.17 L287.00,218.20 L287.50,218.22 L288.00,218.24 L288.50,218.26 L289.00,218.28 L289.50,218.30 L290.00,218.32 L290.50,218.34 L291.00,218.36 L291.50,218.37 L292.00,218.39 L292.50,218.41 L293.00,218.42 L293.50,218.43 L294.00,218.45 L294.50,218.46 L295.00,218.47 L295.50,218.48 L296.00,218.49 L296.50,218.50 L297.00,218.51 L297.50,218.52 L298.00,218.53 L298.50,218.53 L299.00,218.54 L299.50,218.55 L300.00,218.56 L300.50,218.57 L301.00,218.57 L301.50,218.58 L302.00,218.59 L302.50,218.60 L303.00,218.60 L303.50,218.61 L304.00,218.62 L304.50,218.62 L305.00,218.63 L305.50,218.64 L306.00,218.64 L306.50,218.65 L307.00,218.65 L307.50,218.66 L308.00,218.66 L308.50,218.67 L309.00,218.67 L309.50,218.68 L310.00,218.68 L310.50,218.68 L311.00,218.69 L311.50,218.69 L312.00,218.69 L312.50,218.69 L313.00,218.70 L313.50,218.70 L314.00,218.70 L314.50,218.70 L315.00,218.70 L315.50,218.70 L316.00,218.70 L316.50,218.70 L317.00,218.70 L317.50,218.70 L318.00,218.69 L318.50,218.69 L319.00,218.69 L319.50,218.68 L320.00,218.68 L320.50,218.67 L321.00,218.67 L321.50,218.66 L322.00,218.66 L322.50,218.65 L323.00,218.64 L323.50,218.64 L324.00,218.63 L324.50,218.62 L325.00,218.62 L325.50,218.61 L326.00,218.60 L326.00,219.10 Z" fill="url(#g3)" stroke="none"/>
<polyline points="119.00,218.60 119.50,218.60 120.00,218.60 120.50,218.60 121.00,218.60 121.50,218.60 122.00,218.59 122.50,218.59 123.00,218.59 123.50,218.59 124.00,218.59 124.50,218.59 125.00,218.59 125.50,218.59 126.00,218.59 126.50,218.58 127.00,218.58 127.50,218.58 128.00,218.58 128.50,218.58 129.00,218.58 129.50,218.58 130.00,218.58 130.50,218.57 131.00,218.57 131.50,218.57 132.00,218.57 132.50,218.57 133.00,218.57 133.50,218.56 134.00,218.56 134.50,218.56 135.00,218.56 135.50,218.56 136.00,218.56 136.50,218.55 137.00,218.55 137.50,218.55 138.00,218.55 138.50,218.55 139.00,218.55 139.50,218.54 140.00,218.54 140.50,218.54 141.00,218.54 141.50,218.54 142.00,218.53 142.50,218.53 143.00,218.53 143.50,218.53 144.00,218.53 144.50,218.52 145.00,218.52 145.50,218.52 146.00,218.52 146.50,218.52 147.00,218.51 147.50,218.51 148.00,218.51 148.50,218.51 149.00,218.50 149.50,218.50 150.00,218.50 150.50,218.50 151.00,218.50 151.50,218.49 152.00,218.49 152.50,218.49 153.00,218.49 153.50,218.49 154.00,218.48 154.50,218.48 155.00,218.48 155.50,218.48 156.00,218.48 156.50,218.47 157.00,218.47 157.50,218.47 158.00,218.47 158.50,218.47 159.00,218.46 159.50,218.46 160.00,218.46 160.50,218.46 161.00,218.46 161.50,218.45 162.00,218.45 162.50,218.45 163.00,218.45 163.50,218.44 164.00,218.44 164.50,218.44 165.00,218.44 165.50,218.43 166.00,218.43 166.50,218.43 167.00,218.42 167.50,218.42 168.00,218.42 168.50,218.41 169.00,218.41 169.50,218.41 170.00,218.40 170.50,218.40 171.00,218.40 171.50,218.39 172.00,218.39 172.50,218.38 173.00,218.38 173.50,218.37 174.00,218.37 174.50,218.36 175.00,218.36 175.50,218.35 176.00,218.35 176.50,218.34 177.00,218.34 177.50,218.33 178.00,218.33 178.50,218.32 179.00,218.31 179.50,218.31 180.00,218.30 180.50,218.29 181.00,218.28 181.50,218.27 182.00,218.25 182.50,218.23 183.00,218.21 183.50,218.19 184.00,218.16 184.50,218.14 185.00,218.11 185.50,218.08 186.00,218.05 186.50,218.01 187.00,217.98 187.50,217.94 188.00,217.90 188.50,217.86 189.00,217.81 189.50,217.75 190.00,217.69 190.50,217.62 191.00,217.54 191.50,217.46 192.00,217.36 192.50,217.26 193.00,217.15 193.50,217.02 194.00,216.85 194.50,216.64 195.00,216.39 195.50,216.11 196.00,215.80 196.50,215.42 197.00,214.94 197.50,214.40 198.00,213.82 198.50,213.23 199.00,212.66 199.50,212.08 200.00,211.49 200.50,210.86 201.00,210.20 201.50,209.50 202.00,208.75 202.50,207.95 203.00,207.10 203.50,206.19 204.00,205.21 204.50,204.16 205.00,203.04 205.50,201.83 206.00,200.56 206.50,199.21 207.00,197.80 207.50,196.31 208.00,194.76 208.50,193.13 209.00,191.30 209.50,189.30 210.00,187.19 210.50,185.04 211.00,182.92 211.50,180.88 212.00,178.94 212.50,176.99 213.00,175.03 213.50,173.11 214.00,171.28 214.50,169.59 215.00,168.08 215.50,166.71 216.00,165.40 216.50,164.17 217.00,163.07 217.50,162.16 218.00,161.48 218.50,160.88 219.00,160.36 219.50,160.00 220.00,159.90 220.50,160.01 221.00,160.25 221.50,160.58 222.00,160.98 222.50,161.42 223.00,161.91 223.50,162.58 224.00,163.41 224.50,164.36 225.00,165.40 225.50,166.49 226.00,167.58 226.50,168.71 227.00,169.96 227.50,171.30 228.00,172.70 228.50,174.13 229.00,175.56 229.50,176.96 230.00,178.29 230.50,179.55 231.00,180.82 231.50,182.08 232.00,183.33 232.50,184.54 233.00,185.70 233.50,186.80 234.00,187.83 234.50,188.77 235.00,189.66 235.50,190.51 236.00,191.33 236.50,192.12 237.00,192.89 237.50,193.62 238.00,194.32 238.50,195.00 239.00,195.66 239.50,196.29 240.00,196.90 240.50,197.49 241.00,198.06 241.50,198.61 242.00,199.14 242.50,199.65 243.00,200.15 243.50,200.64 244.00,201.11 244.50,201.58 245.00,202.04 245.50,202.49 246.00,202.93 246.50,203.38 247.00,203.81 247.50,204.24 248.00,204.67 248.50,205.08 249.00,205.49 249.50,205.89 250.00,206.29 250.50,206.67 251.00,207.05 251.50,207.42 252.00,207.78 252.50,208.13 253.00,208.47 253.50,208.81 254.00,209.15 254.50,209.47 255.00,209.79 255.50,210.10 256.00,210.41 256.50,210.71 257.00,211.00 257.50,211.29 258.00,211.57 258.50,211.84 259.00,212.11 259.50,212.37 260.00,212.62 260.50,212.88 261.00,213.13 261.50,213.37 262.00,213.61 262.50,213.84 263.00,214.07 263.50,214.28 264.00,214.49 264.50,214.68 265.00,214.86 265.50,215.04 266.00,215.21 266.50,215.38 267.00,215.55 267.50,215.72 268.00,215.88 268.50,216.03 269.00,216.18 269.50,216.32 270.00,216.46 270.50,216.58 271.00,216.70 271.50,216.80 272.00,216.90 272.50,216.98 273.00,217.06 273.50,217.13 274.00,217.20 274.50,217.27 275.00,217.33 275.50,217.39 276.00,217.45 276.50,217.50 277.00,217.55 277.50,217.60 278.00,217.65 278.50,217.69 279.00,217.73 279.50,217.77 280.00,217.81 280.50,217.84 281.00,217.88 281.50,217.91 282.00,217.94 282.50,217.96 283.00,217.99 283.50,218.02 284.00,218.05 284.50,218.07 285.00,218.10 285.50,218.12 286.00,218.15 286.50,218.17 287.00,218.20 287.50,218.22 288.00,218.24 288.50,218.26 289.00,218.28 289.50,218.30 290.00,218.32 290.50,218.34 291.00,218.36 291.50,218.37 292.00,218.39 292.50,218.41 293.00,218.42 293.50,218.43 294.00,218.45 294.50,218.46 295.00,218.47 295.50,218.48 296.00,218.49 296.50,218.50 297.00,218.51 297.50,218.52 298.00,218.53 298.50,218.53 299.00,218.54 299.50,218.55 300.00,218.56 300.50,218.57 301.00,218.57 301.50,218.58 302.00,218.59 302.50,218.60 303.00,218.60 303.50,218.61 304.00,218.62 304.50,218.62 305.00,218.63 305.50,218.64 306.00,218.64 306.50,218.65 307.00,218.65 307.50,218.66 308.00,218.66 308.50,218.67 309.00,218.67 309.50,218.68 310.00,218.68 310.50,218.68 311.00,218.69 311.50,218.69 312.00,218.69 312.50,218.69 313.00,218.70 313.50,218.70 314.00,218.70 314.50,218.70 315.00,218.70 315.50,218.70 316.00,218.70 316.50,218.70 317.00,218.70 317.50,218.70 318.00,218.69 318.50,218.69 319.00,218.69 319.50,218.68 320.00,218.68 320.50,218.67 321.00,218.67 321.50,218.66 322.00,218.66 322.50,218.65 323.00,218.64 323.50,218.64 324.00,218.63 324.50,218.62 325.00,218.62 325.50,218.61 326.00,218.60" fill="none" stroke="#a52a2a" stroke-width="1.3" stroke-linejoin="round" />
<polyline points="63.00,161.40 63.25,165.95 63.50,170.02 63.75,173.28 64.00,175.67 64.25,177.67 64.50,179.40 64.75,180.95 65.00,182.42 65.25,183.88 65.50,185.34 65.75,186.74 66.00,188.02 66.25,189.12 66.50,190.00 66.75,190.72 67.00,191.38 67.25,191.98 67.50,192.52 67.75,193.01 68.00,193.45 68.25,193.84 68.50,194.18 68.75,194.47 69.00,194.75 69.25,195.00 69.50,195.24 69.75,195.46 70.00,195.66 70.25,195.85 70.50,196.04 70.75,196.21 71.00,196.38 71.25,196.54 71.50,196.69 71.75,196.85 72.00,197.00 72.25,197.15 72.50,197.30 72.75,197.43 73.00,197.57 73.25,197.70 73.50,197.82 73.75,197.94 74.00,198.06 74.25,198.18 74.50,198.30 74.75,198.41 75.00,198.53 75.25,198.64 75.50,198.76 75.75,198.88 76.00,198.99 76.25,199.11 76.50,199.22 76.75,199.34 77.00,199.45 77.25,199.56 77.50,199.66 77.75,199.77 78.00,199.87 78.25,199.98 78.50,200.08 78.75,200.18 79.00,200.29 79.25,200.39 79.50,200.49 79.75,200.60 80.00,200.70 80.25,200.81 80.50,200.91 80.75,201.02 81.00,201.13 81.25,201.24 81.50,201.35 81.75,201.46 82.00,201.58 82.25,201.69 82.50,201.81 82.75,201.94 83.00,202.06 83.25,202.19 83.50,202.32 83.75,202.46 84.00,202.60 84.25,202.75 84.50,202.90 84.75,203.06 85.00,203.23 85.25,203.40 85.50,203.58 85.75,203.76 86.00,203.95 86.25,204.14 86.50,204.33 86.75,204.53 87.00,204.73 87.25,204.93 87.50,205.13 87.75,205.32 88.00,205.52 88.25,205.72 88.50,205.91 88.75,206.10 89.00,206.29 89.25,206.48 89.50,206.66 89.75,206.83 90.00,207.00 90.25,207.17 90.50,207.33 90.75,207.50 91.00,207.66 91.25,207.82 91.50,207.99 91.75,208.15 92.00,208.31 92.25,208.47 92.50,208.63 92.75,208.79 93.00,208.94 93.25,209.10 93.50,209.25 93.75,209.40 94.00,209.55 94.25,209.70 94.50,209.84 94.75,209.98 95.00,210.12 95.25,210.26 95.50,210.39 95.75,210.52 96.00,210.65 96.25,210.78 96.50,210.90 96.75,211.02 97.00,211.14 97.25,211.26 97.50,211.37 97.75,211.49 98.00,211.61 98.25,211.72 98.50,211.83 98.75,211.95 99.00,212.06 99.25,212.17 99.50,212.28 99.75,212.38 100.00,212.49 100.25,212.60 100.50,212.70 100.75,212.81 101.00,212.91 101.25,213.01 101.50,213.11 101.75,213.21 102.00,213.31 102.25,213.40 102.50,213.50 102.75,213.59 103.00,213.69 103.25,213.78 103.50,213.87 103.75,213.96 104.00,214.05 104.25,214.14 104.50,214.22 104.75,214.31 105.00,214.39 105.25,214.47 105.50,214.56 105.75,214.64 106.00,214.72 106.25,214.79 106.50,214.87 106.75,214.95 107.00,215.02 107.25,215.10 107.50,215.17 107.75,215.25 108.00,215.32 108.25,215.39 108.50,215.47 108.75,215.54 109.00,215.61 109.25,215.69 109.50,215.76 109.75,215.83 110.00,215.90 110.25,215.97 110.50,216.04 110.75,216.11 111.00,216.18 111.25,216.24 111.50,216.31 111.75,216.37 112.00,216.44 112.25,216.50 112.50,216.56 112.75,216.62 113.00,216.68 113.25,216.74 113.50,216.79 113.75,216.85 114.00,216.90 114.25,216.95 114.50,217.00 114.75,217.05 115.00,217.10 115.25,217.15 115.50,217.19 115.75,217.23 116.00,217.27 116.25,217.31 116.50,217.35 116.75,217.38 117.00,217.41 117.25,217.44 117.50,217.48 117.75,217.51 118.00,217.54 118.25,217.57 118.50,217.60 118.75,217.64 119.00,217.67 119.25,217.70 119.50,217.73 119.75,217.76 120.00,217.79 120.25,217.82 120.50,217.84 120.75,217.87 121.00,217.90 121.25,217.93 121.50,217.95 121.75,217.97 122.00,218.00 122.25,218.02 122.50,218.04 122.75,218.06 123.00,218.08 123.25,218.10 123.50,218.12 123.75,218.13 124.00,218.14 124.25,218.16 124.50,218.17 124.75,218.18 125.00,218.19 125.25,218.19 125.50,218.20 125.75,218.20 126.00,218.20 126.25,218.20 126.50,218.20 126.75,218.20 127.00,218.20 127.25,218.20 127.50,218.19 127.75,218.19 128.00,218.19 128.25,218.19 128.50,218.18 128.75,218.18 129.00,218.18 129.25,218.17 129.50,218.17 129.75,218.16 130.00,218.16 130.25,218.15 130.50,218.15 130.75,218.14 131.00,218.14 131.25,218.13 131.50,218.13 131.75,218.12 132.00,218.11 132.25,218.11 132.50,218.10 132.75,218.09 133.00,218.08 133.25,218.08 133.50,218.07 133.75,218.06 134.00,218.05 134.25,218.04 134.50,218.04 134.75,218.03 135.00,218.02 135.25,218.01 135.50,218.00 135.75,217.99 136.00,217.98 136.25,217.97 136.50,217.95 136.75,217.93 137.00,217.92 137.25,217.90 137.50,217.88 137.75,217.85 138.00,217.83 138.25,217.81 138.50,217.78 138.75,217.75 139.00,217.73 139.25,217.70 139.50,217.67 139.75,217.64 140.00,217.60 140.25,217.57 140.50,217.54 140.75,217.50 141.00,217.47 141.25,217.43 141.50,217.39 141.75,217.36 142.00,217.32 142.25,217.28 142.50,217.24 142.75,217.20 143.00,217.16 143.25,217.12 143.50,217.08 143.75,217.04 144.00,217.00 144.25,216.96 144.50,216.91 144.75,216.87 145.00,216.82 145.25,216.77 145.50,216.72 145.75,216.67 146.00,216.62 146.25,216.56 146.50,216.51 146.75,216.45 147.00,216.39 147.25,216.33 147.50,216.27 147.75,216.20 148.00,216.14 148.25,216.07 148.50,216.00 148.75,215.93 149.00,215.86 149.25,215.78 149.50,215.71 149.75,215.63 150.00,215.55 150.25,215.47 150.50,215.39 150.75,215.30 151.00,215.22 151.25,215.13 151.50,215.04 151.75,214.95 152.00,214.86 152.25,214.77 152.50,214.66 152.75,214.56 153.00,214.44 153.25,214.32 153.50,214.20 153.75,214.07 154.00,213.94 154.25,213.81 154.50,213.67 154.75,213.53 155.00,213.38 155.25,213.23 155.50,213.08 155.75,212.93 156.00,212.78 156.25,212.62 156.50,212.46 156.75,212.30 157.00,212.14 157.25,211.98 157.50,211.82 157.75,211.66 158.00,211.50 158.25,211.34 158.50,211.17 158.75,211.01 159.00,210.84 159.25,210.67 159.50,210.50 159.75,210.32 160.00,210.15 160.25,209.97 160.50,209.79 160.75,209.60 161.00,209.42 161.25,209.23 161.50,209.04 161.75,208.84 162.00,208.65 162.25,208.45 162.50,208.25 162.75,208.04 163.00,207.83 163.25,207.62 163.50,207.41 163.75,207.19 164.00,206.97 164.25,206.75 164.50,206.52 164.75,206.28 165.00,206.05 165.25,205.80 165.50,205.56 165.75,205.31 166.00,205.05 166.25,204.79 166.50,204.52 166.75,204.26 167.00,203.98 167.25,203.71 167.50,203.43 167.75,203.15 168.00,202.86 168.25,202.57 168.50,202.28 168.75,201.99 169.00,201.69 169.25,201.40 169.50,201.10 169.75,200.79 170.00,200.49 170.25,200.19 170.50,199.88 170.75,199.57 171.00,199.26 171.25,198.95 171.50,198.64 171.75,198.33 172.00,198.02 172.25,197.71 172.50,197.40 172.75,197.09 173.00,196.77 173.25,196.44 173.50,196.12 173.75,195.79 174.00,195.45 174.25,195.11 174.50,194.77 174.75,194.43 175.00,194.08 175.25,193.73 175.50,193.38 175.75,193.02 176.00,192.67 176.25,192.31 176.50,191.96 176.75,191.60 177.00,191.24 177.25,190.88 177.50,190.53 177.75,190.17 178.00,189.81 178.25,189.46 178.50,189.10 178.75,188.75 179.00,188.40 179.25,188.06 179.50,187.71 179.75,187.37 180.00,187.03 180.25,186.69 180.50,186.36 180.75,186.03 181.00,185.71 181.25,185.40 181.50,185.09 181.75,184.78 182.00,184.48 182.25,184.18 182.50,183.89 182.75,183.60 183.00,183.31 183.25,183.03 183.50,182.74 183.75,182.46 184.00,182.18 184.25,181.89 184.50,181.61 184.75,181.32 185.00,181.04 185.25,180.75 185.50,180.46 185.75,180.16 186.00,179.86 186.25,179.56 186.50,179.25 186.75,178.94 187.00,178.62 187.25,178.30 187.50,177.97 187.75,177.63 188.00,177.28 188.25,176.92 188.50,176.56 188.75,176.18 189.00,175.80 189.25,175.40 189.50,174.96 189.75,174.50 190.00,174.02 190.25,173.53 190.50,173.02 190.75,172.50 191.00,171.97 191.25,171.44 191.50,170.91 191.75,170.39 192.00,169.88 192.25,169.38 192.50,168.90 192.75,168.44 193.00,168.00 193.25,167.57 193.50,167.13 193.75,166.69 194.00,166.24 194.25,165.80 194.50,165.36 194.75,164.92 195.00,164.51 195.25,164.10 195.50,163.72 195.75,163.35 196.00,163.02 196.25,162.71 196.50,162.44 196.75,162.20 197.00,162.00 197.25,161.82 197.50,161.65 197.75,161.48 198.00,161.31 198.25,161.16 198.50,161.01 198.75,160.87 199.00,160.75 199.25,160.64 199.50,160.55 199.75,160.48 200.00,160.43 200.25,160.40 200.50,160.40 200.75,160.44 201.00,160.51 201.25,160.62 201.50,160.76 201.75,160.92 202.00,161.11 202.25,161.31 202.50,161.53 202.75,161.76 203.00,162.00 203.25,162.29 203.50,162.68 203.75,163.14 204.00,163.67 204.25,164.24 204.50,164.86 204.75,165.49 205.00,166.13 205.25,166.76 205.50,167.37 205.75,167.95 206.00,168.54 206.25,169.15 206.50,169.76 206.75,170.38 207.00,171.01 207.25,171.64 207.50,172.27 207.75,172.89 208.00,173.50 208.25,174.10 208.50,174.69 208.75,175.27 209.00,175.85 209.25,176.43 209.50,177.01 209.75,177.60 210.00,178.21 210.25,178.83 210.50,179.47 210.75,180.14 211.00,180.82 211.25,181.54 211.50,182.27 211.75,183.01 212.00,183.78 212.25,184.56 212.50,185.35 212.75,186.15 213.00,186.96 213.25,187.78 213.50,188.60 213.75,189.43 214.00,190.26 214.25,191.08 214.50,191.91 214.75,192.73 215.00,193.54 215.25,194.35 215.50,195.15 215.75,195.93 216.00,196.71 216.25,197.48 216.50,198.25 216.75,199.03 217.00,199.80 217.25,200.57 217.50,201.34 217.75,202.10 218.00,202.87 218.25,203.63 218.50,204.38 218.75,205.13 219.00,205.88 219.25,206.62 219.50,207.35 219.75,208.08 220.00,208.80 220.25,209.54 220.50,210.32 220.75,211.13 221.00,211.94 221.25,212.75 221.50,213.54 221.75,214.29 222.00,215.00 222.25,215.63 222.50,216.19 222.75,216.65 223.00,217.00 223.25,217.29 223.50,217.56 223.75,217.83 224.00,218.08 224.25,218.32 224.50,218.53 224.75,218.72 225.00,218.89 225.25,219.02 225.50,219.12 225.75,219.18 226.00,219.20" fill="none" stroke="#858585" stroke-width="1.1" stroke-linejoin="round" stroke-dasharray="4.3,5.5"/>
</g>
<line x1="52.20" y1="12.50" x2="76.30" y2="12.50" stroke="#858585" stroke-width="1.1" stroke-dasharray="4.3,5.5"/>
<text x="80.30" y="15.90" font-size="11.5" fill="#1a1a1a" font-weight="normal" text-anchor="start" transform="matrix(1.0,0,0,1.1,0.000,-1.590)" >UV-Vis</text>
<line x1="128.10" y1="12.50" x2="151.60" y2="12.50" stroke="#000" stroke-width="1.3" />
<text x="157.30" y="15.90" font-size="11.5" fill="#1a1a1a" font-weight="normal" text-anchor="start" transform="matrix(1.0,0,0,1.1,0.000,-1.590)" >PL</text>
<text x="238.00" y="16.35" font-size="11.2" fill="#000" font-weight="bold" text-anchor="start" >BCz-BN</text>
<text x="238.00" y="39.30" transform="matrix(1.0,0,0,1.1,0.000,-3.930)" font-size="11.5" fill="#22a0a0">λ<tspan font-size="7.8" dy="3.0">PL</tspan><tspan dy="-3.0"> = 484 nm</tspan></text>
<text x="238.20" y="52.60" font-size="11.5" fill="#22a0a0" font-weight="normal" text-anchor="start" transform="matrix(1.0,0,0,1.1,0.000,-5.260)" >FWHM = 25 nm</text>
<text x="322.60" y="66.45" font-size="11.5" fill="#22a0a0" font-weight="normal" text-anchor="end" transform="matrix(1.0,0,0,1.1,0.000,-6.645)" >(0.12 eV)</text>
<text x="238.00" y="88.15" font-size="11.2" fill="#000" font-weight="bold" text-anchor="start" >S-BN</text>
<text x="238.00" y="106.20" transform="matrix(1.0,0,0,1.1,0.000,-10.620)" font-size="11.5" fill="#f02020">λ<tspan font-size="7.8" dy="3.0">PL</tspan><tspan dy="-3.0"> = 594 nm</tspan></text>
<text x="238.20" y="119.80" font-size="11.5" fill="#f02020" font-weight="normal" text-anchor="start" transform="matrix(1.0,0,0,1.1,0.000,-11.980)" >FWHM = 54 nm</text>
<text x="322.60" y="132.90" font-size="11.5" fill="#f02020" font-weight="normal" text-anchor="end" transform="matrix(1.0,0,0,1.1,0.000,-13.290)" >(0.18 eV)</text>
<text x="238.00" y="158.65" font-size="11.2" fill="#000" font-weight="bold" text-anchor="start" >2S-BN</text>
<text x="238.00" y="176.00" transform="matrix(1.0,0,0,1.1,0.000,-17.600)" font-size="11.5" fill="#a02a2a">λ<tspan font-size="7.8" dy="3.0">PL</tspan><tspan dy="-3.0"> = 671 nm</tspan></text>
<text x="238.20" y="189.00" font-size="11.5" fill="#a02a2a" font-weight="normal" text-anchor="start" transform="matrix(1.0,0,0,1.1,0.000,-18.900)" >FWHM = 54 nm</text>
<text x="322.60" y="203.05" font-size="11.5" fill="#a02a2a" font-weight="normal" text-anchor="end" transform="matrix(1.0,0,0,1.1,0.000,-20.305)" >(0.15 eV)</text>
<g clip-path="url(#cb1)">
<linearGradient id="g4" x1="0" y1="15.7" x2="0" y2="75.0" gradientUnits="userSpaceOnUse"><stop offset="0" stop-color="#b0f6f6"/><stop offset="0.45" stop-color="#dcfbfb"/><stop offset="1" stop-color="#ffffff"/></linearGradient>
<path d="M480.00,74.95 L480.00,75.40 L480.50,75.39 L481.00,75.37 L481.50,75.34 L482.00,75.29 L482.50,75.23 L483.00,75.16 L483.50,75.08 L484.00,75.00 L484.50,74.86 L485.00,74.64 L485.50,74.39 L486.00,74.16 L486.50,73.93 L487.00,73.68 L487.50,73.41 L488.00,73.12 L488.50,72.80 L489.00,72.45 L489.50,72.06 L490.00,71.61 L490.50,71.07 L491.00,70.42 L491.50,69.55 L492.00,68.46 L492.50,67.16 L493.00,65.65 L493.50,63.93 L494.00,61.68 L494.50,58.83 L495.00,55.51 L495.50,51.82 L496.00,47.20 L496.50,41.87 L497.00,36.24 L497.50,30.05 L498.00,24.47 L498.50,19.73 L499.00,16.33 L499.50,16.19 L500.00,17.69 L500.50,20.30 L501.00,24.58 L501.50,30.10 L502.00,35.38 L502.50,40.84 L503.00,45.49 L503.50,48.67 L504.00,51.34 L504.50,53.51 L505.00,55.20 L505.50,56.51 L506.00,57.62 L506.50,58.57 L507.00,59.43 L507.50,60.24 L508.00,61.04 L508.50,61.81 L509.00,62.55 L509.50,63.26 L510.00,63.92 L510.50,64.53 L511.00,65.09 L511.50,65.60 L512.00,66.06 L512.50,66.50 L513.00,66.91 L513.50,67.29 L514.00,67.66 L514.50,68.01 L515.00,68.34 L515.50,68.66 L516.00,68.98 L516.50,69.28 L517.00,69.58 L517.50,69.87 L518.00,70.15 L518.50,70.42 L519.00,70.68 L519.50,70.94 L520.00,71.18 L520.50,71.42 L521.00,71.65 L521.50,71.87 L522.00,72.09 L522.50,72.31 L523.00,72.53 L523.50,72.76 L524.00,72.97 L524.50,73.18 L525.00,73.38 L525.50,73.55 L526.00,73.70 L526.50,73.82 L527.00,73.90 L527.50,73.96 L528.00,74.02 L528.50,74.07 L529.00,74.12 L529.50,74.16 L530.00,74.20 L530.50,74.24 L531.00,74.27 L531.50,74.30 L532.00,74.33 L532.50,74.36 L533.00,74.39 L533.50,74.42 L534.00,74.44 L534.50,74.47 L535.00,74.50 L535.50,74.53 L536.00,74.56 L536.50,74.59 L537.00,74.61 L537.50,74.64 L538.00,74.67 L538.50,74.69 L539.00,74.71 L539.50,74.74 L540.00,74.76 L540.50,74.78 L541.00,74.80 L541.00,74.95 Z" fill="url(#g4)" stroke="none"/>
<polyline points="480.00,75.40 480.50,75.39 481.00,75.37 481.50,75.34 482.00,75.29 482.50,75.23 483.00,75.16 483.50,75.08 484.00,75.00 484.50,74.86 485.00,74.64 485.50,74.39 486.00,74.16 486.50,73.93 487.00,73.68 487.50,73.41 488.00,73.12 488.50,72.80 489.00,72.45 489.50,72.06 490.00,71.61 490.50,71.07 491.00,70.42 491.50,69.55 492.00,68.46 492.50,67.16 493.00,65.65 493.50,63.93 494.00,61.68 494.50,58.83 495.00,55.51 495.50,51.82 496.00,47.20 496.50,41.87 497.00,36.24 497.50,30.05 498.00,24.47 498.50,19.73 499.00,16.33 499.50,16.19 500.00,17.69 500.50,20.30 501.00,24.58 501.50,30.10 502.00,35.38 502.50,40.84 503.00,45.49 503.50,48.67 504.00,51.34 504.50,53.51 505.00,55.20 505.50,56.51 506.00,57.62 506.50,58.57 507.00,59.43 507.50,60.24 508.00,61.04 508.50,61.81 509.00,62.55 509.50,63.26 510.00,63.92 510.50,64.53 511.00,65.09 511.50,65.60 512.00,66.06 512.50,66.50 513.00,66.91 513.50,67.29 514.00,67.66 514.50,68.01 515.00,68.34 515.50,68.66 516.00,68.98 516.50,69.28 517.00,69.58 517.50,69.87 518.00,70.15 518.50,70.42 519.00,70.68 519.50,70.94 520.00,71.18 520.50,71.42 521.00,71.65 521.50,71.87 522.00,72.09 522.50,72.31 523.00,72.53 523.50,72.76 524.00,72.97 524.50,73.18 525.00,73.38 525.50,73.55 526.00,73.70 526.50,73.82 527.00,73.90 527.50,73.96 528.00,74.02 528.50,74.07 529.00,74.12 529.50,74.16 530.00,74.20 530.50,74.24 531.00,74.27 531.50,74.30 532.00,74.33 532.50,74.36 533.00,74.39 533.50,74.42 534.00,74.44 534.50,74.47 535.00,74.50 535.50,74.53 536.00,74.56 536.50,74.59 537.00,74.61 537.50,74.64 538.00,74.67 538.50,74.69 539.00,74.71 539.50,74.74 540.00,74.76 540.50,74.78 541.00,74.80" fill="none" stroke="#2a9d9d" stroke-width="1.3" stroke-linejoin="round" />
<polyline points="472.00,75.50 472.25,75.38 472.50,75.14 472.75,74.80 473.00,74.37 473.25,73.86 473.50,73.29 473.75,72.67 474.00,72.02 474.25,71.34 474.50,70.57 474.75,69.57 475.00,68.38 475.25,67.06 475.50,65.64 475.75,64.18 476.00,62.72 476.25,61.31 476.50,60.00 476.75,58.79 477.00,57.64 477.25,56.53 477.50,55.44 477.75,54.33 478.00,53.19 478.25,51.98 478.50,50.70 478.75,49.32 479.00,47.80 479.25,46.05 479.50,44.02 479.75,41.81 480.00,39.51 480.25,37.21 480.50,35.00 480.75,32.73 481.00,30.30 481.25,27.89 481.50,25.68 481.75,23.85 482.00,22.51 482.25,21.29 482.50,20.15 482.75,19.16 483.00,18.41 483.25,17.98 483.50,17.90 483.75,17.92 484.00,17.95 484.25,18.01 484.50,18.08 484.75,18.18 485.00,18.30 485.25,18.44 485.50,18.60 485.75,19.25 486.00,20.60 486.25,22.30 486.50,24.00 486.75,25.72 487.00,27.66 487.25,29.69 487.50,31.69 487.75,33.56 488.00,35.35 488.25,37.12 488.50,38.84 488.75,40.47 489.00,42.00 489.25,43.45 489.50,44.84 489.75,46.19 490.00,47.48 490.25,48.69 490.50,49.84 490.75,50.91 491.00,51.92 491.25,52.89 491.50,53.82 491.75,54.70 492.00,55.52 492.25,56.29 492.50,57.00 492.75,57.66 493.00,58.30 493.25,58.92 493.50,59.50 493.75,60.06 494.00,60.59 494.25,61.09 494.50,61.56 494.75,62.00 495.00,62.40 495.25,62.78 495.50,63.13 495.75,63.48 496.00,63.80 496.25,64.11 496.50,64.41 496.75,64.70 497.00,64.97 497.25,65.24 497.50,65.50 497.75,65.76 498.00,66.01 498.25,66.25 498.50,66.50 498.75,66.74 499.00,66.99 499.25,67.23 499.50,67.46 499.75,67.69 500.00,67.92 500.25,68.14 500.50,68.36 500.75,68.57 501.00,68.77 501.25,68.96 501.50,69.15 501.75,69.33 502.00,69.51 502.25,69.67 502.50,69.82 502.75,69.97 503.00,70.12 503.25,70.26 503.50,70.40 503.75,70.54 504.00,70.67 504.25,70.80 504.50,70.92 504.75,71.04 505.00,71.16 505.25,71.27 505.50,71.38 505.75,71.49 506.00,71.60 506.25,71.70 506.50,71.80 506.75,71.90 507.00,72.00 507.25,72.10 507.50,72.19 507.75,72.28 508.00,72.37 508.25,72.46 508.50,72.55 508.75,72.63 509.00,72.71 509.25,72.79 509.50,72.87 509.75,72.95 510.00,73.02 510.25,73.09 510.50,73.15 510.75,73.22 511.00,73.28 511.25,73.33 511.50,73.39 511.75,73.45 512.00,73.50 512.25,73.56 512.50,73.61 512.75,73.66 513.00,73.72 513.25,73.77 513.50,73.82 513.75,73.87 514.00,73.92 514.25,73.97 514.50,74.01 514.75,74.06 515.00,74.11 515.25,74.15 515.50,74.20 515.75,74.24 516.00,74.28 516.25,74.32 516.50,74.36 516.75,74.40 517.00,74.44 517.25,74.48 517.50,74.51 517.75,74.55 518.00,74.58 518.25,74.61 518.50,74.64 518.75,74.67 519.00,74.70 519.25,74.73 519.50,74.75 519.75,74.78 520.00,74.80 520.25,74.82 520.50,74.84 520.75,74.87 521.00,74.89 521.25,74.91 521.50,74.93 521.75,74.95 522.00,74.98 522.25,75.00 522.50,75.02 522.75,75.04 523.00,75.06 523.25,75.08 523.50,75.10 523.75,75.12 524.00,75.14 524.25,75.16 524.50,75.17 524.75,75.19 525.00,75.21 525.25,75.22 525.50,75.24 525.75,75.26 526.00,75.27 526.25,75.28 526.50,75.30 526.75,75.31 527.00,75.32 527.25,75.33 527.50,75.34 527.75,75.35 528.00,75.36 528.25,75.37 528.50,75.38 528.75,75.38 529.00,75.39 529.25,75.39 529.50,75.40 529.75,75.40 530.00,75.40" fill="none" stroke="#858585" stroke-width="1.1" stroke-linejoin="round" stroke-dasharray="4.3,5.5"/>
</g>
<g clip-path="url(#cb2)">
<linearGradient id="g5" x1="0" y1="87.6" x2="0" y2="146.8" gradientUnits="userSpaceOnUse"><stop offset="0" stop-color="#ffc4c4"/><stop offset="0.45" stop-color="#ffe0e0"/><stop offset="1" stop-color="#fffafa"/></linearGradient>
<path d="M505.00,146.80 L505.00,147.30 L505.50,147.30 L506.00,147.28 L506.50,147.26 L507.00,147.22 L507.50,147.18 L508.00,147.13 L508.50,147.07 L509.00,147.00 L509.50,146.92 L510.00,146.83 L510.50,146.73 L511.00,146.62 L511.50,146.50 L512.00,146.18 L512.50,145.60 L513.00,144.95 L513.50,144.42 L514.00,144.20 L514.50,144.22 L515.00,144.28 L515.50,144.35 L516.00,144.42 L516.50,144.48 L517.00,144.50 L517.50,144.49 L518.00,144.44 L518.50,144.37 L519.00,144.28 L519.50,144.16 L520.00,144.01 L520.50,143.84 L521.00,143.65 L521.50,143.44 L522.00,143.17 L522.50,142.54 L523.00,141.62 L523.50,140.57 L524.00,139.52 L524.50,138.64 L525.00,137.89 L525.50,137.19 L526.00,136.52 L526.50,135.85 L527.00,135.15 L527.50,134.40 L528.00,133.56 L528.50,132.59 L529.00,131.39 L529.50,129.99 L530.00,128.48 L530.50,126.93 L531.00,125.41 L531.50,124.02 L532.00,122.81 L532.50,121.82 L533.00,120.97 L533.50,120.19 L534.00,119.46 L534.50,118.74 L535.00,117.98 L535.50,117.15 L536.00,116.20 L536.50,115.11 L537.00,113.90 L537.50,112.59 L538.00,111.20 L538.50,109.78 L539.00,108.34 L539.50,106.91 L540.00,105.52 L540.50,104.06 L541.00,102.51 L541.50,100.95 L542.00,99.47 L542.50,98.12 L543.00,96.99 L543.50,96.10 L544.00,95.32 L544.50,94.64 L545.00,94.00 L545.50,93.37 L546.00,92.72 L546.50,92.01 L547.00,91.30 L547.50,90.57 L548.00,89.81 L548.50,88.92 L549.00,87.81 L549.50,87.12 L550.00,87.32 L550.50,87.98 L551.00,88.67 L551.50,89.00 L552.00,88.79 L552.50,88.41 L553.00,88.20 L553.50,88.22 L554.00,88.28 L554.50,88.36 L555.00,88.55 L555.50,89.14 L556.00,90.03 L556.50,91.11 L557.00,92.25 L557.50,93.34 L558.00,94.62 L558.50,96.07 L559.00,97.61 L559.50,99.13 L560.00,100.55 L560.50,101.78 L561.00,102.81 L561.50,103.74 L562.00,104.59 L562.50,105.40 L563.00,106.18 L563.50,106.96 L564.00,107.74 L564.50,108.57 L565.00,109.44 L565.50,110.33 L566.00,111.23 L566.50,112.12 L567.00,112.98 L567.50,113.78 L568.00,114.51 L568.50,115.14 L569.00,115.69 L569.50,116.18 L570.00,116.64 L570.50,117.08 L571.00,117.53 L571.50,118.01 L572.00,118.56 L572.50,119.20 L573.00,119.95 L573.50,120.78 L574.00,121.65 L574.50,122.51 L575.00,123.32 L575.50,124.03 L576.00,124.69 L576.50,125.32 L577.00,125.93 L577.50,126.51 L578.00,127.08 L578.50,127.63 L579.00,128.16 L579.50,128.69 L580.00,129.20 L580.50,129.71 L581.00,130.21 L581.50,130.71 L582.00,131.19 L582.50,131.67 L583.00,132.13 L583.50,132.58 L584.00,133.02 L584.50,133.44 L585.00,133.84 L585.50,134.23 L586.00,134.59 L586.50,134.94 L587.00,135.28 L587.50,135.61 L588.00,135.93 L588.50,136.24 L589.00,136.54 L589.50,136.84 L590.00,137.12 L590.50,137.41 L591.00,137.69 L591.50,137.97 L592.00,138.24 L592.50,138.52 L593.00,138.79 L593.50,139.06 L594.00,139.32 L594.50,139.58 L595.00,139.82 L595.50,140.06 L596.00,140.28 L596.50,140.48 L597.00,140.67 L597.50,140.86 L598.00,141.03 L598.50,141.19 L599.00,141.35 L599.50,141.50 L600.00,141.65 L600.50,141.79 L601.00,141.93 L601.50,142.07 L602.00,142.20 L602.50,142.34 L603.00,142.48 L603.50,142.62 L604.00,142.76 L604.50,142.92 L605.00,143.09 L605.50,143.26 L606.00,143.44 L606.50,143.61 L607.00,143.78 L607.50,143.92 L608.00,144.04 L608.50,144.13 L609.00,144.19 L609.50,144.20 L610.00,144.19 L610.50,144.18 L611.00,144.16 L611.50,144.13 L612.00,144.10 L612.50,144.06 L613.00,144.02 L613.50,143.97 L614.00,143.93 L614.50,143.88 L615.00,143.84 L615.50,143.79 L616.00,143.75 L616.50,143.71 L617.00,143.68 L617.50,143.65 L618.00,143.62 L618.50,143.61 L619.00,143.60 L619.50,143.60 L620.00,143.61 L620.50,143.62 L621.00,143.63 L621.50,143.65 L622.00,143.67 L622.50,143.70 L623.00,143.73 L623.50,143.76 L624.00,143.80 L624.50,143.84 L625.00,143.88 L625.50,143.92 L626.00,143.96 L626.50,144.00 L627.00,144.05 L627.50,144.09 L628.00,144.14 L628.50,144.18 L629.00,144.22 L629.50,144.27 L630.00,144.31 L630.50,144.35 L631.00,144.39 L631.50,144.42 L632.00,144.46 L632.50,144.49 L633.00,144.52 L633.50,144.54 L634.00,144.56 L634.50,144.58 L635.00,144.59 L635.50,144.60 L636.00,144.60 L636.50,144.60 L637.00,144.60 L637.50,144.60 L638.00,144.60 L638.50,144.60 L639.00,144.60 L639.50,144.60 L640.00,144.60 L640.50,144.60 L641.00,144.60 L641.50,144.60 L642.00,144.60 L642.50,144.60 L643.00,144.60 L643.50,144.60 L644.00,144.60 L644.50,144.60 L645.00,144.60 L645.50,144.60 L646.00,144.60 L646.50,144.60 L647.00,144.60 L647.50,144.60 L648.00,144.60 L648.50,144.60 L649.00,144.60 L649.50,144.60 L650.00,144.60 L650.50,144.60 L651.00,144.60 L651.50,144.60 L652.00,144.61 L652.50,144.61 L653.00,144.61 L653.50,144.62 L654.00,144.62 L654.50,144.63 L655.00,144.64 L655.50,144.64 L656.00,144.65 L656.50,144.66 L657.00,144.67 L657.50,144.68 L658.00,144.69 L658.50,144.69 L659.00,144.70 L659.50,144.71 L660.00,144.72 L660.50,144.73 L661.00,144.74 L661.50,144.75 L662.00,144.76 L662.50,144.77 L663.00,144.78 L663.50,144.79 L664.00,144.80 L664.50,144.81 L665.00,144.82 L665.50,144.83 L666.00,144.84 L666.50,144.85 L667.00,144.86 L667.50,144.87 L668.00,144.88 L668.50,144.90 L669.00,144.91 L669.50,144.92 L670.00,144.93 L670.50,144.95 L671.00,144.96 L671.50,144.97 L672.00,144.99 L672.50,145.00 L673.00,145.01 L673.50,145.03 L674.00,145.04 L674.50,145.06 L675.00,145.07 L675.50,145.09 L676.00,145.10 L676.00,146.80 Z" fill="url(#g5)" stroke="none"/>
<polyline points="505.00,147.30 505.50,147.30 506.00,147.28 506.50,147.26 507.00,147.22 507.50,147.18 508.00,147.13 508.50,147.07 509.00,147.00 509.50,146.92 510.00,146.83 510.50,146.73 511.00,146.62 511.50,146.50 512.00,146.18 512.50,145.98 513.00,144.21 513.50,144.17 514.00,143.15 514.50,143.51 515.00,143.26 515.50,144.22 516.00,143.73 516.50,144.63 517.00,144.59 517.50,144.38 518.00,143.06 518.50,144.08 519.00,144.25 519.50,144.22 520.00,143.17 520.50,143.58 521.00,143.11 521.50,142.99 522.00,143.75 522.50,142.10 523.00,141.61 523.50,141.05 524.00,139.20 524.50,138.58 525.00,137.95 525.50,137.23 526.00,135.85 526.50,135.90 527.00,135.90 527.50,133.55 528.00,134.03 528.50,132.66 529.00,131.04 529.50,131.09 530.00,128.90 530.50,126.27 531.00,125.45 531.50,124.33 532.00,122.71 532.50,122.20 533.00,120.93 533.50,120.56 534.00,120.25 534.50,118.37 535.00,118.09 535.50,116.89 536.00,116.27 536.50,114.46 537.00,113.58 537.50,112.48 538.00,111.70 538.50,110.41 539.00,107.61 539.50,106.48 540.00,105.88 540.50,102.96 541.00,102.25 541.50,100.90 542.00,100.16 542.50,98.50 543.00,96.81 543.50,95.89 544.00,95.19 544.50,95.47 545.00,93.76 545.50,93.20 546.00,92.91 546.50,91.95 547.00,91.19 547.50,89.96 548.00,89.81 548.50,88.68 549.00,88.45 549.50,87.48 550.00,87.30 550.50,88.34 551.00,88.49 551.50,89.58 552.00,88.79 552.50,88.73 553.00,87.49 553.50,88.41 554.00,87.35 554.50,87.24 555.00,88.38 555.50,88.64 556.00,90.12 556.50,92.35 557.00,91.79 557.50,93.00 558.00,94.74 558.50,96.35 559.00,97.51 559.50,99.01 560.00,100.94 560.50,102.07 561.00,102.24 561.50,103.69 562.00,104.61 562.50,104.82 563.00,106.33 563.50,106.49 564.00,108.28 564.50,108.67 565.00,109.49 565.50,110.01 566.00,111.17 566.50,111.02 567.00,112.35 567.50,113.98 568.00,113.34 568.50,115.61 569.00,114.73 569.50,116.60 570.00,116.17 570.50,117.50 571.00,117.60 571.50,117.17 572.00,119.25 572.50,119.99 573.00,119.92 573.50,120.63 574.00,121.57 574.50,121.98 575.00,123.93 575.50,123.74 576.00,124.66 576.50,124.88 577.00,125.58 577.50,125.81 578.00,127.77 578.50,127.54 579.00,128.70 579.50,128.70 580.00,128.82 580.50,129.53 581.00,129.90 581.50,130.71 582.00,130.99 582.50,131.50 583.00,131.37 583.50,132.14 584.00,133.93 584.50,133.07 585.00,133.26 585.50,134.41 586.00,135.37 586.50,134.15 587.00,135.17 587.50,135.27 588.00,134.96 588.50,136.65 589.00,136.53 589.50,136.88 590.00,136.71 590.50,137.66 591.00,137.39 591.50,137.89 592.00,137.64 592.50,137.85 593.00,139.53 593.50,138.78 594.00,139.48 594.50,139.56 595.00,139.58 595.50,139.78 596.00,140.62 596.50,140.32 597.00,140.59 597.50,140.87 598.00,141.67 598.50,141.57 599.00,141.56 599.50,141.19 600.00,140.89 600.50,142.31 601.00,142.46 601.50,141.99 602.00,142.50 602.50,142.77 603.00,142.93 603.50,143.12 604.00,142.51 604.50,143.75 605.00,142.40 605.50,143.74 606.00,143.71 606.50,144.09 607.00,144.81 607.50,144.74 608.00,143.41 608.50,143.20 609.00,144.63 609.50,143.64 610.00,144.19 610.50,144.64 611.00,143.25 611.50,142.97 612.00,144.24 612.50,144.08 613.00,143.88 613.50,143.99 614.00,143.45 614.50,143.05 615.00,143.74 615.50,143.26 616.00,142.85 616.50,143.99 617.00,143.64 617.50,143.87 618.00,143.08 618.50,143.25 619.00,143.05 619.50,143.11 620.00,143.71 620.50,143.19 621.00,143.83 621.50,143.84 622.00,144.79 622.50,142.93 623.00,144.22 623.50,143.71 624.00,143.79 624.50,143.04 625.00,143.62 625.50,144.33 626.00,143.91 626.50,144.05 627.00,143.89 627.50,144.73 628.00,144.12 628.50,142.97 629.00,143.84 629.50,143.18 630.00,142.52 630.50,144.06 631.00,145.12 631.50,144.45 632.00,143.81 632.50,143.97 633.00,145.14 633.50,144.63 634.00,144.59 634.50,144.55 635.00,144.61 635.50,145.04 636.00,144.90 636.50,144.72 637.00,144.03 637.50,144.88 638.00,144.22 638.50,145.20 639.00,143.90 639.50,144.52 640.00,144.60 640.50,143.87 641.00,145.55 641.50,145.40 642.00,144.35 642.50,145.02 643.00,144.81 643.50,143.16 644.00,144.74 644.50,144.57 645.00,144.65 645.50,144.01 646.00,144.45 646.50,144.50 647.00,145.25 647.50,144.78 648.00,144.60 648.50,145.44 649.00,144.29 649.50,144.39 650.00,143.60 650.50,145.46 651.00,145.13 651.50,145.11 652.00,144.97 652.50,144.67 653.00,144.73 653.50,144.48 654.00,144.51 654.50,144.66 655.00,145.47 655.50,144.95 656.00,144.62 656.50,144.34 657.00,144.32 657.50,145.56 658.00,144.96 658.50,144.73 659.00,144.51 659.50,144.10 660.00,144.69 660.50,145.21 661.00,144.53 661.50,144.63 662.00,144.64 662.50,144.83 663.00,143.91 663.50,144.66 664.00,144.33 664.50,145.30 665.00,144.40 665.50,145.15 666.00,145.68 666.50,144.68 667.00,144.53 667.50,144.98 668.00,144.88 668.50,144.35 669.00,145.16 669.50,146.03 670.00,144.79 670.50,144.83 671.00,144.38 671.50,145.15 672.00,144.30 672.50,144.39 673.00,145.72 673.50,144.53 674.00,145.64 674.50,145.89 675.00,145.21 675.50,145.39 676.00,146.17" fill="none" stroke="#ff3b3b" stroke-width="1.1" stroke-linejoin="round" />
<polyline points="514.00,147.40 514.25,147.28 514.50,147.12 514.75,146.93 515.00,146.72 515.25,146.48 515.50,146.21 515.75,145.93 516.00,145.63 516.25,145.32 516.50,145.00 516.75,144.65 517.00,144.27 517.25,143.84 517.50,143.38 517.75,142.89 518.00,142.36 518.25,141.80 518.50,141.21 518.75,140.59 519.00,139.94 519.25,139.26 519.50,138.50 519.75,137.64 520.00,136.70 520.25,135.70 520.50,134.65 520.75,133.57 521.00,132.48 521.25,131.39 521.50,130.33 521.75,129.30 522.00,128.31 522.25,127.33 522.50,126.36 522.75,125.39 523.00,124.42 523.25,123.45 523.50,122.46 523.75,121.47 524.00,120.46 524.25,119.43 524.50,118.38 524.75,117.29 525.00,116.18 525.25,115.05 525.50,113.90 525.75,112.75 526.00,111.59 526.25,110.44 526.50,109.31 526.75,108.19 527.00,107.10 527.25,106.01 527.50,104.92 527.75,103.81 528.00,102.72 528.25,101.63 528.50,100.58 528.75,99.56 529.00,98.58 529.25,97.66 529.50,96.80 529.75,95.97 530.00,95.15 530.25,94.33 530.50,93.54 530.75,92.78 531.00,92.06 531.25,91.40 531.50,90.80 531.75,90.28 532.00,89.85 532.25,89.49 532.50,89.15 532.75,88.82 533.00,88.52 533.25,88.25 533.50,88.04 533.75,87.88 534.00,87.81 534.25,87.81 534.50,87.86 534.75,87.96 535.00,88.10 535.25,88.27 535.50,88.47 535.75,88.70 536.00,88.94 536.25,89.21 536.50,89.48 536.75,89.76 537.00,90.13 537.25,90.61 537.50,91.18 537.75,91.82 538.00,92.49 538.25,93.18 538.50,93.86 538.75,94.51 539.00,95.09 539.25,95.59 539.50,96.04 539.75,96.47 540.00,96.87 540.25,97.25 540.50,97.62 540.75,97.98 541.00,98.33 541.25,98.69 541.50,99.06 541.75,99.44 542.00,99.84 542.25,100.25 542.50,100.70 542.75,101.18 543.00,101.68 543.25,102.20 543.50,102.75 543.75,103.31 544.00,103.88 544.25,104.46 544.50,105.05 544.75,105.63 545.00,106.22 545.25,106.79 545.50,107.36 545.75,107.91 546.00,108.46 546.25,109.01 546.50,109.57 546.75,110.13 547.00,110.69 547.25,111.25 547.50,111.80 547.75,112.35 548.00,112.90 548.25,113.44 548.50,113.98 548.75,114.50 549.00,115.01 549.25,115.52 549.50,116.01 549.75,116.49 550.00,116.96 550.25,117.43 550.50,117.89 550.75,118.35 551.00,118.81 551.25,119.26 551.50,119.70 551.75,120.14 552.00,120.57 552.25,120.99 552.50,121.41 552.75,121.82 553.00,122.22 553.25,122.62 553.50,123.00 553.75,123.38 554.00,123.75 554.25,124.12 554.50,124.48 554.75,124.83 555.00,125.18 555.25,125.53 555.50,125.87 555.75,126.21 556.00,126.54 556.25,126.87 556.50,127.19 556.75,127.51 557.00,127.82 557.25,128.13 557.50,128.43 557.75,128.72 558.00,129.01 558.25,129.29 558.50,129.57 558.75,129.84 559.00,130.10 559.25,130.35 559.50,130.60 559.75,130.84 560.00,131.08 560.25,131.32 560.50,131.55 560.75,131.78 561.00,132.01 561.25,132.24 561.50,132.46 561.75,132.67 562.00,132.89 562.25,133.10 562.50,133.30 562.75,133.50 563.00,133.70 563.25,133.90 563.50,134.09 563.75,134.28 564.00,134.46 564.25,134.64 564.50,134.81 564.75,134.99 565.00,135.15 565.25,135.32 565.50,135.48 565.75,135.63 566.00,135.78 566.25,135.93 566.50,136.07 566.75,136.21 567.00,136.35 567.25,136.49 567.50,136.62 567.75,136.75 568.00,136.88 568.25,137.00 568.50,137.13 568.75,137.25 569.00,137.37 569.25,137.49 569.50,137.60 569.75,137.72 570.00,137.83 570.25,137.95 570.50,138.06 570.75,138.17 571.00,138.28 571.25,138.39 571.50,138.50 571.75,138.62 572.00,138.73 572.25,138.84 572.50,138.95 572.75,139.06 573.00,139.17 573.25,139.29 573.50,139.40 573.75,139.52 574.00,139.63 574.25,139.75 574.50,139.87 574.75,139.98 575.00,140.10 575.25,140.22 575.50,140.34 575.75,140.46 576.00,140.58 576.25,140.69 576.50,140.81 576.75,140.93 577.00,141.05 577.25,141.16 577.50,141.28 577.75,141.40 578.00,141.51 578.25,141.62 578.50,141.74 578.75,141.85 579.00,141.96 579.25,142.07 579.50,142.17 579.75,142.28 580.00,142.38 580.25,142.48 580.50,142.58 580.75,142.68 581.00,142.78 581.25,142.87 581.50,142.96 581.75,143.05 582.00,143.14 582.25,143.22 582.50,143.30 582.75,143.38 583.00,143.46 583.25,143.53 583.50,143.61 583.75,143.69 584.00,143.76 584.25,143.84 584.50,143.91 584.75,143.98 585.00,144.05 585.25,144.12 585.50,144.20 585.75,144.26 586.00,144.33 586.25,144.40 586.50,144.47 586.75,144.53 587.00,144.60 587.25,144.66 587.50,144.73 587.75,144.79 588.00,144.85 588.25,144.91 588.50,144.97 588.75,145.03 589.00,145.08 589.25,145.14 589.50,145.20 589.75,145.25 590.00,145.31 590.25,145.36 590.50,145.41 590.75,145.46 591.00,145.51 591.25,145.56 591.50,145.60 591.75,145.65 592.00,145.70 592.25,145.74 592.50,145.78 592.75,145.83 593.00,145.87 593.25,145.91 593.50,145.95 593.75,145.99 594.00,146.03 594.25,146.07 594.50,146.10 594.75,146.14 595.00,146.18 595.25,146.22 595.50,146.25 595.75,146.29 596.00,146.32 596.25,146.36 596.50,146.39 596.75,146.43 597.00,146.46 597.25,146.49 597.50,146.53 597.75,146.56 598.00,146.59 598.25,146.62 598.50,146.65 598.75,146.68 599.00,146.71 599.25,146.73 599.50,146.76 599.75,146.79 600.00,146.81 600.25,146.84 600.50,146.86 600.75,146.89 601.00,146.91 601.25,146.93 601.50,146.96 601.75,146.98 602.00,147.00 602.25,147.02 602.50,147.04 602.75,147.06 603.00,147.08 603.25,147.10 603.50,147.12 603.75,147.14 604.00,147.16 604.25,147.18 604.50,147.20 604.75,147.21 605.00,147.23 605.25,147.25 605.50,147.27 605.75,147.28 606.00,147.30 606.25,147.32 606.50,147.33 606.75,147.35 607.00,147.36 607.25,147.38 607.50,147.39 607.75,147.40 608.00,147.42 608.25,147.43 608.50,147.44 608.75,147.45 609.00,147.46 609.25,147.47 609.50,147.48 609.75,147.49 610.00,147.50" fill="none" stroke="#858585" stroke-width="1.1" stroke-linejoin="round" stroke-dasharray="4.3,5.5"/>
</g>
<g clip-path="url(#cb3)">
<linearGradient id="g6" x1="0" y1="159.7" x2="0" y2="219.1" gradientUnits="userSpaceOnUse"><stop offset="0" stop-color="#c4a6a6"/><stop offset="0.45" stop-color="#e2d6d6"/><stop offset="1" stop-color="#faf8f8"/></linearGradient>
<path d="M544.00,219.10 L544.00,218.80 L544.50,218.48 L545.00,218.09 L545.50,217.62 L546.00,217.09 L546.50,216.52 L547.00,215.83 L547.50,214.93 L548.00,214.00 L548.50,213.23 L549.00,212.72 L549.50,212.31 L550.00,211.95 L550.50,211.64 L551.00,211.35 L551.50,211.07 L552.00,210.79 L552.50,210.49 L553.00,210.17 L553.50,209.84 L554.00,209.52 L554.50,209.20 L555.00,208.87 L555.50,208.54 L556.00,208.18 L556.50,207.81 L557.00,207.42 L557.50,206.98 L558.00,206.51 L558.50,206.02 L559.00,205.51 L559.50,205.00 L560.00,204.50 L560.50,204.02 L561.00,203.56 L561.50,203.08 L562.00,202.56 L562.50,201.98 L563.00,201.36 L563.50,200.70 L564.00,199.99 L564.50,199.20 L565.00,198.30 L565.50,197.28 L566.00,196.09 L566.50,194.51 L567.00,192.57 L567.50,190.34 L568.00,187.88 L568.50,184.67 L569.00,180.91 L569.50,177.21 L570.00,174.15 L570.50,171.40 L571.00,168.83 L571.50,166.65 L572.00,165.10 L572.50,164.04 L573.00,163.15 L573.50,162.41 L574.00,161.77 L574.50,161.21 L575.00,160.68 L575.50,160.13 L576.00,159.66 L576.50,159.36 L577.00,159.34 L577.50,159.74 L578.00,160.38 L578.50,161.00 L579.00,161.57 L579.50,162.18 L580.00,162.77 L580.50,163.32 L581.00,163.81 L581.50,164.28 L582.00,164.76 L582.50,165.30 L583.00,165.94 L583.50,166.72 L584.00,167.64 L584.50,168.65 L585.00,169.71 L585.50,170.78 L586.00,171.82 L586.50,172.79 L587.00,173.72 L587.50,174.66 L588.00,175.58 L588.50,176.49 L589.00,177.39 L589.50,178.28 L590.00,179.15 L590.50,180.04 L591.00,180.94 L591.50,181.83 L592.00,182.70 L592.50,183.54 L593.00,184.34 L593.50,185.07 L594.00,185.73 L594.50,186.32 L595.00,186.86 L595.50,187.36 L596.00,187.83 L596.50,188.29 L597.00,188.74 L597.50,189.19 L598.00,189.65 L598.50,190.14 L599.00,190.65 L599.50,191.22 L600.00,191.85 L600.50,192.55 L601.00,193.28 L601.50,194.02 L602.00,194.75 L602.50,195.44 L603.00,196.06 L603.50,196.60 L604.00,197.07 L604.50,197.50 L605.00,197.91 L605.50,198.29 L606.00,198.65 L606.50,199.00 L607.00,199.34 L607.50,199.67 L608.00,200.01 L608.50,200.35 L609.00,200.70 L609.50,201.06 L610.00,201.41 L610.50,201.76 L611.00,202.11 L611.50,202.46 L612.00,202.81 L612.50,203.15 L613.00,203.49 L613.50,203.82 L614.00,204.15 L614.50,204.48 L615.00,204.80 L615.50,205.12 L616.00,205.43 L616.50,205.75 L617.00,206.06 L617.50,206.37 L618.00,206.67 L618.50,206.97 L619.00,207.27 L619.50,207.56 L620.00,207.85 L620.50,208.14 L621.00,208.42 L621.50,208.69 L622.00,208.96 L622.50,209.23 L623.00,209.49 L623.50,209.75 L624.00,210.01 L624.50,210.26 L625.00,210.50 L625.50,210.74 L626.00,210.97 L626.50,211.20 L627.00,211.42 L627.50,211.65 L628.00,211.87 L628.50,212.08 L629.00,212.30 L629.50,212.50 L630.00,212.70 L630.50,212.89 L631.00,213.07 L631.50,213.24 L632.00,213.40 L632.50,213.55 L633.00,213.68 L633.50,213.82 L634.00,213.94 L634.50,214.06 L635.00,214.18 L635.50,214.29 L636.00,214.39 L636.50,214.50 L637.00,214.60 L637.50,214.70 L638.00,214.80 L638.50,214.90 L639.00,214.99 L639.50,215.08 L640.00,215.17 L640.50,215.26 L641.00,215.34 L641.50,215.41 L642.00,215.48 L642.50,215.54 L643.00,215.60 L643.50,215.65 L644.00,215.71 L644.50,215.77 L645.00,215.82 L645.50,215.87 L646.00,215.92 L646.50,215.97 L647.00,216.01 L647.50,216.05 L648.00,216.09 L648.50,216.12 L649.00,216.15 L649.50,216.18 L650.00,216.20 L650.50,216.22 L651.00,216.24 L651.50,216.25 L652.00,216.27 L652.50,216.28 L653.00,216.30 L653.50,216.31 L654.00,216.32 L654.50,216.34 L655.00,216.35 L655.50,216.36 L656.00,216.37 L656.50,216.38 L657.00,216.39 L657.50,216.40 L658.00,216.41 L658.50,216.42 L659.00,216.43 L659.50,216.44 L660.00,216.45 L660.50,216.46 L661.00,216.47 L661.50,216.48 L662.00,216.49 L662.50,216.50 L663.00,216.51 L663.50,216.52 L664.00,216.53 L664.50,216.54 L665.00,216.56 L665.50,216.57 L666.00,216.58 L666.50,216.59 L667.00,216.60 L667.50,216.61 L668.00,216.62 L668.50,216.63 L669.00,216.65 L669.50,216.66 L670.00,216.67 L670.50,216.68 L671.00,216.69 L671.50,216.70 L672.00,216.71 L672.50,216.72 L673.00,216.73 L673.50,216.75 L674.00,216.76 L674.50,216.77 L675.00,216.78 L675.50,216.79 L676.00,216.80 L676.00,219.10 Z" fill="url(#g6)" stroke="none"/>
<polyline points="544.00,218.80 544.50,218.48 545.00,218.09 545.50,217.62 546.00,217.09 546.50,216.52 547.00,215.83 547.50,214.93 548.00,214.00 548.50,213.40 549.00,212.60 549.50,212.44 550.00,212.13 550.50,211.46 551.00,211.33 551.50,211.20 552.00,210.74 552.50,210.80 553.00,211.29 553.50,210.20 554.00,209.55 554.50,208.19 555.00,209.10 555.50,207.37 556.00,207.34 556.50,208.33 557.00,207.84 557.50,206.89 558.00,205.49 558.50,205.80 559.00,205.10 559.50,205.38 560.00,205.85 560.50,204.15 561.00,203.09 561.50,202.38 562.00,202.53 562.50,201.87 563.00,200.67 563.50,200.77 564.00,199.30 564.50,199.86 565.00,198.94 565.50,197.93 566.00,195.81 566.50,194.82 567.00,192.49 567.50,190.11 568.00,187.67 568.50,183.89 569.00,180.04 569.50,177.69 570.00,174.03 570.50,171.53 571.00,169.43 571.50,165.61 572.00,164.63 572.50,164.14 573.00,163.38 573.50,162.18 574.00,162.39 574.50,161.34 575.00,159.95 575.50,159.57 576.00,160.14 576.50,159.63 577.00,158.20 577.50,160.55 578.00,160.73 578.50,161.81 579.00,161.34 579.50,162.00 580.00,162.10 580.50,164.84 581.00,163.70 581.50,165.23 582.00,164.37 582.50,165.40 583.00,164.93 583.50,166.49 584.00,168.23 584.50,167.90 585.00,170.35 585.50,170.98 586.00,171.19 586.50,172.49 587.00,173.45 587.50,174.63 588.00,175.26 588.50,175.99 589.00,177.21 589.50,177.66 590.00,178.38 590.50,180.01 591.00,181.47 591.50,180.91 592.00,182.71 592.50,183.15 593.00,183.75 593.50,185.58 594.00,185.41 594.50,187.22 595.00,186.39 595.50,187.59 596.00,187.70 596.50,187.84 597.00,189.09 597.50,189.09 598.00,190.01 598.50,190.11 599.00,190.00 599.50,191.16 600.00,191.88 600.50,193.12 601.00,192.73 601.50,193.99 602.00,193.71 602.50,195.83 603.00,195.41 603.50,195.52 604.00,197.03 604.50,198.17 605.00,196.99 605.50,197.64 606.00,198.21 606.50,198.32 607.00,199.57 607.50,199.19 608.00,199.58 608.50,200.70 609.00,200.25 609.50,201.32 610.00,200.83 610.50,201.04 611.00,201.01 611.50,203.58 612.00,202.61 612.50,203.29 613.00,203.47 613.50,203.92 614.00,204.18 614.50,205.62 615.00,204.18 615.50,204.18 616.00,204.83 616.50,204.95 617.00,206.51 617.50,206.86 618.00,206.09 618.50,206.14 619.00,207.06 619.50,208.40 620.00,206.16 620.50,208.45 621.00,207.77 621.50,209.32 622.00,208.32 622.50,209.06 623.00,208.59 623.50,209.17 624.00,210.84 624.50,210.75 625.00,210.26 625.50,210.22 626.00,209.84 626.50,210.96 627.00,211.40 627.50,211.60 628.00,211.81 628.50,211.41 629.00,212.26 629.50,212.48 630.00,213.48 630.50,214.01 631.00,212.99 631.50,212.78 632.00,213.36 632.50,213.18 633.00,213.24 633.50,213.78 634.00,213.31 634.50,214.42 635.00,214.11 635.50,214.44 636.00,214.28 636.50,214.06 637.00,214.03 637.50,214.56 638.00,214.47 638.50,215.04 639.00,214.99 639.50,214.27 640.00,215.21 640.50,214.45 641.00,214.97 641.50,215.23 642.00,214.23 642.50,215.59 643.00,215.69 643.50,215.56 644.00,215.46 644.50,215.54 645.00,215.23 645.50,215.71 646.00,215.59 646.50,216.02 647.00,215.29 647.50,216.19 648.00,216.17 648.50,216.04 649.00,215.89 649.50,216.51 650.00,215.20 650.50,216.50 651.00,216.38 651.50,216.42 652.00,216.50 652.50,215.89 653.00,216.14 653.50,216.69 654.00,216.58 654.50,216.46 655.00,215.44 655.50,216.68 656.00,217.07 656.50,216.99 657.00,216.53 657.50,215.46 658.00,216.97 658.50,216.33 659.00,214.91 659.50,216.66 660.00,215.55 660.50,215.68 661.00,216.08 661.50,217.24 662.00,216.26 662.50,216.66 663.00,217.56 663.50,217.48 664.00,216.47 664.50,216.40 665.00,215.80 665.50,216.15 666.00,216.83 666.50,216.83 667.00,216.67 667.50,217.21 668.00,216.16 668.50,216.60 669.00,217.08 669.50,217.01 670.00,217.31 670.50,216.92 671.00,216.50 671.50,216.92 672.00,216.11 672.50,215.74 673.00,217.08 673.50,216.71 674.00,216.94 674.50,215.75 675.00,216.56 675.50,216.43 676.00,216.28" fill="none" stroke="#9b1f1f" stroke-width="1.1" stroke-linejoin="round" />
<polyline points="466.00,218.90 466.25,218.90 466.50,218.90 466.75,218.89 467.00,218.89 467.25,218.89 467.50,218.89 467.75,218.88 468.00,218.88 468.25,218.88 468.50,218.88 468.75,218.88 469.00,218.87 469.25,218.87 469.50,218.87 469.75,218.87 470.00,218.87 470.25,218.86 470.50,218.86 470.75,218.86 471.00,218.86 471.25,218.85 471.50,218.85 471.75,218.85 472.00,218.85 472.25,218.85 472.50,218.84 472.75,218.84 473.00,218.84 473.25,218.84 473.50,218.84 473.75,218.83 474.00,218.83 474.25,218.83 474.50,218.83 474.75,218.83 475.00,218.82 475.25,218.82 475.50,218.82 475.75,218.82 476.00,218.81 476.25,218.81 476.50,218.81 476.75,218.81 477.00,218.81 477.25,218.80 477.50,218.80 477.75,218.80 478.00,218.80 478.25,218.80 478.50,218.79 478.75,218.79 479.00,218.79 479.25,218.79 479.50,218.79 479.75,218.78 480.00,218.78 480.25,218.78 480.50,218.78 480.75,218.77 481.00,218.77 481.25,218.77 481.50,218.77 481.75,218.77 482.00,218.76 482.25,218.76 482.50,218.76 482.75,218.76 483.00,218.76 483.25,218.75 483.50,218.75 483.75,218.75 484.00,218.75 484.25,218.75 484.50,218.74 484.75,218.74 485.00,218.74 485.25,218.74 485.50,218.74 485.75,218.73 486.00,218.73 486.25,218.73 486.50,218.73 486.75,218.73 487.00,218.72 487.25,218.72 487.50,218.72 487.75,218.72 488.00,218.72 488.25,218.71 488.50,218.71 488.75,218.71 489.00,218.71 489.25,218.71 489.50,218.70 489.75,218.70 490.00,218.70 490.25,218.70 490.50,218.70 490.75,218.69 491.00,218.69 491.25,218.69 491.50,218.69 491.75,218.69 492.00,218.68 492.25,218.68 492.50,218.68 492.75,218.68 493.00,218.68 493.25,218.68 493.50,218.67 493.75,218.67 494.00,218.67 494.25,218.67 494.50,218.67 494.75,218.67 495.00,218.67 495.25,218.66 495.50,218.66 495.75,218.66 496.00,218.66 496.25,218.66 496.50,218.66 496.75,218.65 497.00,218.65 497.25,218.65 497.50,218.65 497.75,218.65 498.00,218.65 498.25,218.65 498.50,218.65 498.75,218.64 499.00,218.64 499.25,218.64 499.50,218.64 499.75,218.64 500.00,218.64 500.25,218.64 500.50,218.63 500.75,218.63 501.00,218.63 501.25,218.63 501.50,218.63 501.75,218.63 502.00,218.63 502.25,218.63 502.50,218.62 502.75,218.62 503.00,218.62 503.25,218.62 503.50,218.62 503.75,218.62 504.00,218.62 504.25,218.62 504.50,218.62 504.75,218.61 505.00,218.61 505.25,218.61 505.50,218.61 505.75,218.61 506.00,218.61 506.25,218.61 506.50,218.61 506.75,218.60 507.00,218.60 507.25,218.60 507.50,218.60 507.75,218.60 508.00,218.60 508.25,218.60 508.50,218.60 508.75,218.59 509.00,218.59 509.25,218.59 509.50,218.59 509.75,218.59 510.00,218.59 510.25,218.59 510.50,218.58 510.75,218.58 511.00,218.58 511.25,218.58 511.50,218.58 511.75,218.58 512.00,218.58 512.25,218.57 512.50,218.57 512.75,218.57 513.00,218.57 513.25,218.57 513.50,218.57 513.75,218.57 514.00,218.56 514.25,218.56 514.50,218.56 514.75,218.56 515.00,218.56 515.25,218.56 515.50,218.55 515.75,218.55 516.00,218.55 516.25,218.55 516.50,218.55 516.75,218.55 517.00,218.54 517.25,218.54 517.50,218.54 517.75,218.54 518.00,218.54 518.25,218.53 518.50,218.53 518.75,218.53 519.00,218.53 519.25,218.53 519.50,218.52 519.75,218.52 520.00,218.52 520.25,218.52 520.50,218.51 520.75,218.51 521.00,218.51 521.25,218.51 521.50,218.50 521.75,218.50 522.00,218.50 522.25,218.50 522.50,218.49 522.75,218.49 523.00,218.49 523.25,218.49 523.50,218.48 523.75,218.48 524.00,218.48 524.25,218.48 524.50,218.47 524.75,218.47 525.00,218.47 525.25,218.46 525.50,218.46 525.75,218.46 526.00,218.46 526.25,218.45 526.50,218.45 526.75,218.45 527.00,218.44 527.25,218.44 527.50,218.44 527.75,218.43 528.00,218.43 528.25,218.43 528.50,218.42 528.75,218.42 529.00,218.42 529.25,218.41 529.50,218.41 529.75,218.40 530.00,218.40 530.25,218.40 530.50,218.39 530.75,218.39 531.00,218.38 531.25,218.38 531.50,218.37 531.75,218.37 532.00,218.36 532.25,218.35 532.50,218.35 532.75,218.34 533.00,218.33 533.25,218.33 533.50,218.32 533.75,218.31 534.00,218.30 534.25,218.29 534.50,218.28 534.75,218.27 535.00,218.26 535.25,218.25 535.50,218.24 535.75,218.22 536.00,218.21 536.25,218.20 536.50,218.18 536.75,218.17 537.00,218.15 537.25,218.14 537.50,218.12 537.75,218.11 538.00,218.09 538.25,218.07 538.50,218.05 538.75,218.03 539.00,218.01 539.25,217.99 539.50,217.97 539.75,217.95 540.00,217.93 540.25,217.91 540.50,217.88 540.75,217.86 541.00,217.83 541.25,217.81 541.50,217.78 541.75,217.75 542.00,217.72 542.25,217.69 542.50,217.66 542.75,217.63 543.00,217.60 543.25,217.56 543.50,217.51 543.75,217.44 544.00,217.36 544.25,217.27 544.50,217.16 544.75,217.04 545.00,216.91 545.25,216.76 545.50,216.60 545.75,216.43 546.00,216.25 546.25,216.05 546.50,215.84 546.75,215.62 547.00,215.39 547.25,215.15 547.50,214.85 547.75,214.42 548.00,213.87 548.25,213.23 548.50,212.51 548.75,211.73 549.00,210.92 549.25,210.10 549.50,209.29 549.75,208.51 550.00,207.77 550.25,207.10 550.50,206.43 550.75,205.77 551.00,205.12 551.25,204.47 551.50,203.82 551.75,203.17 552.00,202.52 552.25,201.87 552.50,201.22 552.75,200.56 553.00,199.90 553.25,199.23 553.50,198.55 553.75,197.86 554.00,197.17 554.25,196.46 554.50,195.75 554.75,195.03 555.00,194.31 555.25,193.58 555.50,192.84 555.75,192.09 556.00,191.33 556.25,190.54 556.50,189.74 556.75,188.91 557.00,188.05 557.25,187.14 557.50,186.17 557.75,185.16 558.00,184.12 558.25,183.07 558.50,182.02 558.75,180.98 559.00,179.97 559.25,179.00 559.50,178.08 559.75,177.24 560.00,176.42 560.25,175.63 560.50,174.85 560.75,174.09 561.00,173.35 561.25,172.62 561.50,171.92 561.75,171.23 562.00,170.55 562.25,169.90 562.50,169.26 562.75,168.64 563.00,168.04 563.25,167.45 563.50,166.86 563.75,166.28 564.00,165.71 564.25,165.16 564.50,164.63 564.75,164.11 565.00,163.63 565.25,163.17 565.50,162.75 565.75,162.37 566.00,162.01 566.25,161.65 566.50,161.28 566.75,160.91 567.00,160.57 567.25,160.25 567.50,159.96 567.75,159.71 568.00,159.51 568.25,159.38 568.50,159.31 568.75,159.30 569.00,159.33 569.25,159.37 569.50,159.43 569.75,159.50 570.00,159.58 570.25,159.68 570.50,159.78 570.75,159.89 571.00,160.00 571.25,160.13 571.50,160.28 571.75,160.47 572.00,160.68 572.25,160.92 572.50,161.18 572.75,161.47 573.00,161.77 573.25,162.10 573.50,162.45 573.75,162.88 574.00,163.41 574.25,164.01 574.50,164.66 574.75,165.36 575.00,166.08 575.25,166.82 575.50,167.55 575.75,168.26 576.00,168.94 576.25,169.58 576.50,170.22 576.75,170.85 577.00,171.49 577.25,172.13 577.50,172.76 577.75,173.39 578.00,174.02 578.25,174.65 578.50,175.27 578.75,175.88 579.00,176.49 579.25,177.11 579.50,177.74 579.75,178.37 580.00,179.00 580.25,179.63 580.50,180.25 580.75,180.86 581.00,181.46 581.25,182.04 581.50,182.59 581.75,183.13 582.00,183.63 582.25,184.11 582.50,184.56 582.75,184.99 583.00,185.40 583.25,185.80 583.50,186.19 583.75,186.57 584.00,186.94 584.25,187.30 584.50,187.65 584.75,187.99 585.00,188.33 585.25,188.67 585.50,189.00 585.75,189.32 586.00,189.65 586.25,189.98 586.50,190.30 586.75,190.63 587.00,190.97 587.25,191.30 587.50,191.64 587.75,191.97 588.00,192.30 588.25,192.64 588.50,192.97 588.75,193.29 589.00,193.62 589.25,193.95 589.50,194.27 589.75,194.59 590.00,194.91 590.25,195.22 590.50,195.53 590.75,195.84 591.00,196.15 591.25,196.45 591.50,196.75 591.75,197.04 592.00,197.33 592.25,197.62 592.50,197.90 592.75,198.18 593.00,198.46 593.25,198.75 593.50,199.03 593.75,199.31 594.00,199.59 594.25,199.88 594.50,200.16 594.75,200.43 595.00,200.71 595.25,200.98 595.50,201.26 595.75,201.52 596.00,201.79 596.25,202.05 596.50,202.30 596.75,202.55 597.00,202.80 597.25,203.04 597.50,203.27 597.75,203.50 598.00,203.72 598.25,203.93 598.50,204.13 598.75,204.33 599.00,204.52 599.25,204.70 599.50,204.87 599.75,205.03 600.00,205.19 600.25,205.34 600.50,205.50 600.75,205.64 601.00,205.78 601.25,205.92 601.50,206.06 601.75,206.19 602.00,206.32 602.25,206.45 602.50,206.57 602.75,206.70 603.00,206.82 603.25,206.93 603.50,207.05 603.75,207.16 604.00,207.28 604.25,207.39 604.50,207.50 604.75,207.61 605.00,207.72 605.25,207.83 605.50,207.94 605.75,208.05 606.00,208.17 606.25,208.28 606.50,208.39 606.75,208.50 607.00,208.62 607.25,208.73 607.50,208.85 607.75,208.97 608.00,209.09 608.25,209.22 608.50,209.34 608.75,209.46 609.00,209.59 609.25,209.72 609.50,209.84 609.75,209.97 610.00,210.09 610.25,210.22 610.50,210.35 610.75,210.47 611.00,210.59 611.25,210.72 611.50,210.84 611.75,210.96 612.00,211.08 612.25,211.19 612.50,211.31 612.75,211.42 613.00,211.53 613.25,211.64 613.50,211.74 613.75,211.84 614.00,211.94 614.25,212.04 614.50,212.13 614.75,212.22 615.00,212.30 615.25,212.38 615.50,212.46 615.75,212.54 616.00,212.61 616.25,212.69 616.50,212.76 616.75,212.83 617.00,212.91 617.25,212.97 617.50,213.04 617.75,213.11 618.00,213.18 618.25,213.24 618.50,213.30 618.75,213.36 619.00,213.42 619.25,213.48 619.50,213.54 619.75,213.60 620.00,213.65 620.25,213.71 620.50,213.76 620.75,213.81 621.00,213.86 621.25,213.91 621.50,213.96 621.75,214.01 622.00,214.06 622.25,214.10 622.50,214.15 622.75,214.19 623.00,214.24 623.25,214.28 623.50,214.32 623.75,214.36 624.00,214.40 624.25,214.44 624.50,214.48 624.75,214.52 625.00,214.56 625.25,214.60 625.50,214.64 625.75,214.67 626.00,214.71 626.25,214.75 626.50,214.78 626.75,214.82 627.00,214.85 627.25,214.89 627.50,214.92 627.75,214.96 628.00,214.99 628.25,215.02 628.50,215.06 628.75,215.09 629.00,215.12 629.25,215.15 629.50,215.19 629.75,215.22 630.00,215.25 630.25,215.28 630.50,215.31 630.75,215.34 631.00,215.38 631.25,215.41 631.50,215.44 631.75,215.47 632.00,215.50 632.25,215.53 632.50,215.56 632.75,215.59 633.00,215.62 633.25,215.65 633.50,215.68 633.75,215.71 634.00,215.74 634.25,215.77 634.50,215.80 634.75,215.83 635.00,215.86 635.25,215.89 635.50,215.92 635.75,215.95 636.00,215.98 636.25,216.01 636.50,216.03 636.75,216.06 637.00,216.09 637.25,216.12 637.50,216.14 637.75,216.17 638.00,216.20 638.25,216.22 638.50,216.25 638.75,216.28 639.00,216.30 639.25,216.33 639.50,216.35 639.75,216.38 640.00,216.40 640.25,216.42 640.50,216.45 640.75,216.47 641.00,216.49 641.25,216.52 641.50,216.54 641.75,216.56 642.00,216.58 642.25,216.60 642.50,216.63 642.75,216.65 643.00,216.67 643.25,216.69 643.50,216.71 643.75,216.73 644.00,216.75 644.25,216.77 644.50,216.79 644.75,216.81 645.00,216.83 645.25,216.85 645.50,216.87 645.75,216.89 646.00,216.91 646.25,216.93 646.50,216.95 646.75,216.97 647.00,216.99 647.25,217.01 647.50,217.02 647.75,217.04 648.00,217.06 648.25,217.08 648.50,217.10 648.75,217.12 649.00,217.13 649.25,217.15 649.50,217.17 649.75,217.19 650.00,217.21 650.25,217.22 650.50,217.24 650.75,217.26 651.00,217.28 651.25,217.29 651.50,217.31 651.75,217.33 652.00,217.34 652.25,217.36 652.50,217.37 652.75,217.39 653.00,217.41 653.25,217.42 653.50,217.44 653.75,217.45 654.00,217.47 654.25,217.49 654.50,217.50 654.75,217.52 655.00,217.53 655.25,217.55 655.50,217.56 655.75,217.57 656.00,217.59 656.25,217.60 656.50,217.62 656.75,217.63 657.00,217.65 657.25,217.66 657.50,217.67 657.75,217.69 658.00,217.70 658.25,217.71 658.50,217.73 658.75,217.74 659.00,217.75 659.25,217.76 659.50,217.78 659.75,217.79 660.00,217.80 660.25,217.81 660.50,217.82 660.75,217.84 661.00,217.85 661.25,217.86 661.50,217.87 661.75,217.88 662.00,217.89 662.25,217.91 662.50,217.92 662.75,217.93 663.00,217.94 663.25,217.95 663.50,217.96 663.75,217.97 664.00,217.98 664.25,218.00 664.50,218.01 664.75,218.02 665.00,218.03 665.25,218.04 665.50,218.05 665.75,218.06 666.00,218.07 666.25,218.08 666.50,218.09 666.75,218.10 667.00,218.11 667.25,218.12 667.50,218.13 667.75,218.14 668.00,218.15 668.25,218.16 668.50,218.17 668.75,218.18 669.00,218.19 669.25,218.20 669.50,218.21 669.75,218.21 670.00,218.22 670.25,218.23 670.50,218.24 670.75,218.25 671.00,218.26 671.25,218.27 671.50,218.27 671.75,218.28 672.00,218.29 672.25,218.30 672.50,218.31 672.75,218.31 673.00,218.32 673.25,218.33 673.50,218.33 673.75,218.34 674.00,218.35 674.25,218.36 674.50,218.36 674.75,218.37 675.00,218.38 675.25,218.38 675.50,218.39 675.75,218.39 676.00,218.40" fill="none" stroke="#555555" stroke-width="1.1" stroke-linejoin="round" stroke-dasharray="4.3,5.5"/>
</g>
<line x1="401.80" y1="10.00" x2="426.00" y2="10.00" stroke="#858585" stroke-width="1.1" stroke-dasharray="4.3,5.5"/>
<text x="429.50" y="13.70" font-size="11.5" fill="#1a1a1a" font-weight="normal" text-anchor="start" transform="matrix(1.0,0,0,1.1,0.000,-1.370)" >PL</text>
<line x1="456.90" y1="10.00" x2="480.30" y2="10.00" stroke="#000" stroke-width="1.3" />
<text x="484.20" y="13.70" font-size="11.5" fill="#1a1a1a" font-weight="normal" text-anchor="start" transform="matrix(1.0,0,0,1.1,0.000,-1.370)" >Ph</text>
<text x="610.00" y="26.10" font-size="11.2" fill="#000" font-weight="bold" text-anchor="start" >BCz-BN</text>
<text x="596.30" y="44.80" transform="matrix(1.0,0,0,1.1,0.000,-4.480)" font-size="11.5" fill="#22a0a0">Δ<tspan font-style="italic">E</tspan><tspan font-size="7.8" dy="3.0">ST</tspan><tspan dy="-3.0"> = 0.20 eV</tspan></text>
<text x="614.60" y="97.00" font-size="11.2" fill="#000" font-weight="bold" text-anchor="start" >S-BN</text>
<text x="596.40" y="116.00" transform="matrix(1.0,0,0,1.1,0.000,-11.600)" font-size="11.5" fill="#f02020">Δ<tspan font-style="italic">E</tspan><tspan font-size="7.8" dy="3.0">ST</tspan><tspan dy="-3.0"> = 0.09 eV</tspan></text>
<text x="615.00" y="167.70" font-size="11.2" fill="#000" font-weight="bold" text-anchor="start" >2S-BN</text>
<text x="596.20" y="185.80" transform="matrix(1.0,0,0,1.1,0.000,-18.580)" font-size="11.5" fill="#a02a2a">Δ<tspan font-style="italic">E</tspan><tspan font-size="7.8" dy="3.0">ST</tspan><tspan dy="-3.0"> = 0.06 eV</tspan></text>
<g clip-path="url(#cc1)">
<polygon points="59.65,323.74 60.15,323.92 60.65,324.67 61.15,323.81 61.65,323.96 62.15,323.98 62.65,325.81 63.15,324.37 63.65,325.58 64.15,325.84 64.65,323.44 65.15,324.89 65.65,324.25 66.15,325.49 66.65,324.50 67.15,324.73 67.65,326.32 68.15,325.69 68.65,326.11 69.15,326.02 69.65,326.05 70.15,326.62 70.65,325.81 71.15,326.90 71.65,326.65 72.15,325.72 72.65,326.82 73.15,326.85 73.65,325.93 74.15,325.93 74.65,326.57 75.15,326.80 75.65,327.03 76.15,326.33 76.65,326.64 77.15,325.43 77.65,325.43 78.15,326.61 78.65,326.61 79.15,327.73 79.65,327.00 80.15,327.03 80.65,327.80 81.15,328.05 81.65,328.05 82.15,326.39 82.65,327.83 83.15,327.76 83.65,327.69 84.15,325.95 84.65,324.85 85.15,326.90 85.65,327.40 86.15,327.27 86.65,328.20 87.15,327.37 87.65,327.95 88.15,328.20 88.65,327.24 89.15,327.72 89.65,327.77 90.15,329.17 90.65,327.68 91.15,328.47 91.65,328.15 92.15,328.24 92.65,328.24 93.15,327.83 93.65,327.83 94.15,328.52 94.65,328.45 95.15,328.75 95.65,328.16 96.15,328.54 96.65,328.48 97.15,328.45 97.65,328.45 98.15,328.33 98.65,328.22 99.15,328.63 99.65,328.69 100.15,327.90 100.65,328.51 101.15,328.10 101.65,329.63 102.15,328.67 102.65,329.58 103.15,328.90 103.65,329.88 104.15,330.07 104.65,327.86 105.15,329.52 105.65,329.42 106.15,329.28 106.65,330.14 107.15,328.75 107.65,329.80 108.15,329.52 108.65,330.07 109.15,328.91 109.65,330.21 110.15,329.31 110.65,329.15 111.15,330.52 111.65,328.23 112.15,330.38 112.65,330.23 113.15,328.55 113.65,328.23 114.15,329.59 114.65,328.47 115.15,329.37 115.65,329.14 116.15,330.55 116.65,329.72 117.15,330.32 117.65,330.65 118.15,330.65 118.65,330.02 119.15,330.13 119.65,330.13 120.15,330.36 120.65,330.51 121.15,330.33 121.65,331.04 122.15,331.31 122.65,329.39 123.15,330.42 123.65,330.10 124.15,330.31 124.65,330.97 125.15,329.39 125.65,331.62 126.15,330.37 126.65,331.83 127.15,331.47 127.65,331.01 128.15,332.33 128.65,331.43 129.15,330.79 129.65,331.47 130.15,331.10 130.65,331.03 131.15,331.99 131.65,330.48 132.15,331.01 132.65,331.85 133.15,332.30 133.65,332.74 134.15,331.97 134.65,331.53 135.15,330.37 135.65,330.79 136.15,331.26 136.65,329.58 137.15,329.58 137.65,331.46 138.15,331.52 138.65,331.52 139.15,331.52 139.65,332.14 140.15,331.23 140.65,331.50 141.15,332.74 141.65,332.88 142.15,332.19 142.65,331.96 143.15,331.02 143.65,332.17 144.15,332.33 144.65,332.47 145.15,332.45 145.65,332.38 146.15,332.57 146.65,332.23 147.15,331.63 147.65,331.53 148.15,330.73 148.65,331.97 149.15,332.87 149.65,332.67 150.15,330.47 150.65,331.84 151.15,332.70 151.65,331.62 152.15,331.62 152.65,332.65 153.15,332.60 153.65,332.86 154.15,332.57 154.65,332.72 155.15,332.71 155.65,332.38 156.15,333.87 156.65,332.05 157.15,331.58 157.65,332.70 158.15,333.48 158.65,332.06 159.15,332.89 159.65,332.60 160.15,333.23 160.65,333.19 161.15,332.67 161.65,332.50 162.15,333.33 162.65,334.60 163.15,334.00 163.65,333.59 164.15,333.27 164.65,334.86 165.15,333.87 165.65,333.39 166.15,333.67 166.65,332.84 167.15,331.50 167.65,334.73 168.15,334.82 168.65,333.84 169.15,333.71 169.65,333.74 170.15,333.46 170.65,333.52 171.15,334.95 171.65,333.21 172.15,333.30 172.65,334.28 173.15,333.33 173.65,334.26 174.15,334.80 174.65,332.50 175.15,334.83 175.65,334.09 176.15,333.64 176.65,334.18 177.15,333.29 177.65,333.54 178.15,334.18 178.65,334.39 179.15,334.23 179.65,332.68 180.15,333.11 180.65,333.61 181.15,332.95 181.65,333.31 182.15,332.30 182.65,332.30 183.15,333.68 183.65,334.98 184.15,334.69 184.65,334.40 185.15,334.39 185.65,334.32 186.15,335.15 186.65,334.78 187.15,334.77 187.65,333.49 188.15,334.54 188.65,333.08 189.15,333.95 189.65,335.77 190.15,335.02 190.65,333.31 191.15,335.33 191.65,335.14 192.15,333.92 192.65,335.04 193.15,334.09 193.65,336.13 194.15,335.49 194.65,335.37 195.15,334.70 195.65,334.42 196.15,332.92 196.65,335.30 197.15,334.88 197.65,334.88 198.15,336.03 198.65,334.89 199.15,334.65 199.65,334.33 200.15,334.40 200.65,334.42 201.15,337.04 201.65,335.72 202.15,335.51 202.65,336.31 203.15,335.20 203.65,335.24 204.15,336.66 204.65,336.13 205.15,336.86 205.65,335.08 206.15,334.69 206.65,335.22 207.15,335.22 207.65,334.94 208.15,335.16 208.65,333.32 209.15,335.87 209.65,334.44 210.15,334.44 210.65,333.82 211.15,334.94 211.65,336.87 212.15,336.05 212.65,335.56 213.15,335.11 213.65,336.62 214.15,335.31 214.65,336.92 215.15,336.05 215.65,335.69 216.15,335.58 216.65,334.75 217.15,335.77 217.65,335.26 218.15,335.13 218.65,336.01 219.15,336.12 219.65,336.41 220.15,335.53 220.65,336.56 221.15,335.34 221.65,337.09 222.15,336.27 222.65,336.13 223.15,335.73 223.65,334.79 224.15,336.70 224.65,336.30 225.15,336.13 225.65,335.47 226.15,333.11 226.65,336.91 227.15,336.15 227.65,336.15 228.15,336.17 228.65,335.34 229.15,335.34 229.65,337.55 230.15,337.34 230.65,336.50 231.15,337.71 231.65,335.59 232.15,337.14 232.65,337.14 233.15,336.64 233.65,335.51 234.15,337.04 234.65,336.29 235.15,336.29 235.65,337.28 236.15,335.34 236.65,336.38 237.15,337.47 237.65,337.43 238.15,336.13 238.65,336.65 239.15,334.90 239.65,334.90 240.15,334.78 240.65,335.78 241.15,337.49 241.65,336.10 242.15,336.21 242.65,335.93 243.15,337.03 243.65,336.63 244.15,337.16 244.65,335.50 245.15,336.61 245.65,335.84 246.15,335.78 246.65,337.84 247.15,336.62 247.65,336.40 248.15,337.30 248.65,334.70 249.15,334.70 249.65,335.71 250.15,336.42 250.65,335.37 251.15,336.31 251.65,337.02 252.15,337.23 252.65,337.82 253.15,337.44 253.65,337.21 254.15,335.53 254.65,337.73 255.15,337.73 255.65,337.57 256.15,337.45 256.65,337.55 257.15,337.37 257.65,335.44 258.15,337.49 258.65,337.73 259.15,336.93 259.65,337.24 260.15,337.99 260.65,335.96 261.15,337.36 261.65,336.41 262.15,337.16 262.65,335.06 263.15,335.06 263.65,337.52 264.15,337.54 264.65,337.44 265.15,337.67 265.65,337.77 266.15,337.27 266.65,336.91 267.15,336.99 267.65,336.48 268.15,336.59 268.65,338.00 269.15,337.61 269.65,335.46 270.15,338.48 270.65,336.65 271.15,337.29 271.65,337.60 272.15,335.96 272.65,337.10 273.15,337.63 273.65,336.19 274.15,336.67 274.65,337.66 275.15,336.77 275.65,337.37 276.15,337.11 276.65,337.03 277.15,337.48 277.65,337.99 278.15,337.92 278.65,337.92 279.15,338.51 279.65,336.85 280.15,335.12 280.65,336.51 281.15,337.94 281.65,337.98 282.15,337.63 282.65,338.89 283.15,336.82 283.65,338.84 284.15,337.19 284.65,338.38 285.15,337.56 285.65,337.92 286.15,336.84 286.65,338.28 287.15,336.99 287.65,336.88 288.15,338.09 288.65,337.30 289.15,337.84 289.65,337.73 290.15,337.39 290.65,338.14 291.15,336.20 291.65,336.67 292.15,337.67 292.65,336.51 293.15,337.14 293.65,338.47 294.15,336.62 294.65,336.62 295.15,337.35 295.65,337.62 296.15,336.70 296.65,336.68 297.15,338.92 297.65,336.49 298.15,336.84 298.65,337.96 299.15,339.24 299.65,338.13 300.15,338.43 300.65,337.22 301.15,335.53 301.65,338.78 302.15,337.55 302.65,338.01 303.15,337.45 303.65,338.39 304.15,338.42 304.65,338.94 305.15,337.38 305.65,338.47 306.15,337.52 306.65,338.72 307.15,337.82 307.65,337.60 308.15,337.21 308.65,338.00 309.15,339.21 309.65,339.51 310.15,339.11 310.65,336.60 311.15,337.95 311.65,338.66 312.15,338.95 312.65,339.02 313.15,338.49 313.65,337.88 314.15,338.59 314.65,337.01 315.15,337.01 315.65,337.93 316.15,338.30 316.65,340.56 317.15,338.32 317.65,337.19 318.15,337.66 318.65,336.80 319.15,338.53 319.65,338.81 320.15,337.96 320.65,339.06 321.15,337.49 321.65,338.36 322.15,338.72 322.65,339.66 323.15,339.36 323.65,339.32 324.15,337.57 324.65,337.66 325.15,339.22 325.65,338.85 326.15,338.50 326.65,338.96 326.65,341.68 326.15,344.70 325.65,344.70 325.15,342.07 324.65,343.67 324.15,343.33 323.65,344.55 323.15,344.02 322.65,344.70 322.15,343.46 321.65,344.70 321.15,343.99 320.65,343.80 320.15,344.35 319.65,342.91 319.15,344.07 318.65,344.70 318.15,341.53 317.65,342.04 317.15,342.73 316.65,344.70 316.15,344.70 315.65,343.61 315.15,344.70 314.65,344.70 314.15,344.70 313.65,343.24 313.15,344.70 312.65,342.36 312.15,343.70 311.65,343.70 311.15,342.15 310.65,342.96 310.15,344.58 309.65,342.12 309.15,344.70 308.65,343.47 308.15,343.49 307.65,344.70 307.15,342.91 306.65,343.28 306.15,342.03 305.65,343.53 305.15,342.76 304.65,344.59 304.15,344.31 303.65,343.52 303.15,343.46 302.65,344.13 302.15,343.67 301.65,342.83 301.15,343.21 300.65,342.81 300.15,342.81 299.65,342.39 299.15,342.39 298.65,343.49 298.15,343.02 297.65,344.70 297.15,342.92 296.65,342.28 296.15,344.58 295.65,343.05 295.15,342.67 294.65,344.59 294.15,343.92 293.65,341.97 293.15,341.70 292.65,341.82 292.15,343.86 291.65,343.54 291.15,342.82 290.65,344.05 290.15,344.05 289.65,343.20 289.15,342.84 288.65,343.58 288.15,343.87 287.65,340.53 287.15,343.32 286.65,343.32 286.15,341.27 285.65,342.64 285.15,343.62 284.65,343.85 284.15,341.02 283.65,342.03 283.15,343.00 282.65,344.70 282.15,344.70 281.65,342.93 281.15,344.70 280.65,344.70 280.15,342.37 279.65,342.50 279.15,344.70 278.65,344.70 278.15,341.97 277.65,342.50 277.15,342.92 276.65,344.70 276.15,342.86 275.65,341.89 275.15,343.58 274.65,342.90 274.15,342.78 273.65,343.12 273.15,341.48 272.65,344.70 272.15,344.70 271.65,341.90 271.15,344.70 270.65,343.12 270.15,343.12 269.65,341.54 269.15,343.46 268.65,343.28 268.15,341.57 267.65,341.82 267.15,344.12 266.65,342.11 266.15,342.73 265.65,343.71 265.15,341.79 264.65,342.00 264.15,341.70 263.65,343.26 263.15,341.73 262.65,342.44 262.15,342.40 261.65,343.09 261.15,342.21 260.65,343.56 260.15,344.20 259.65,341.03 259.15,342.74 258.65,342.09 258.15,343.87 257.65,340.56 257.15,340.94 256.65,343.71 256.15,343.24 255.65,344.45 255.15,342.09 254.65,341.88 254.15,343.49 253.65,341.88 253.15,341.20 252.65,343.05 252.15,341.71 251.65,344.26 251.15,340.96 250.65,342.75 250.15,343.35 249.65,341.95 249.15,341.28 248.65,341.90 248.15,344.70 247.65,341.10 247.15,342.57 246.65,341.66 246.15,341.59 245.65,341.60 245.15,341.68 244.65,340.67 244.15,340.75 243.65,340.39 243.15,342.67 242.65,341.36 242.15,341.36 241.65,342.23 241.15,341.14 240.65,342.64 240.15,340.81 239.65,340.01 239.15,342.21 238.65,341.81 238.15,341.80 237.65,340.40 237.15,340.60 236.65,342.99 236.15,343.00 235.65,341.30 235.15,340.76 234.65,341.08 234.15,341.02 233.65,343.27 233.15,341.62 232.65,339.94 232.15,343.72 231.65,342.50 231.15,343.62 230.65,340.10 230.15,342.46 229.65,340.70 229.15,342.15 228.65,340.64 228.15,341.06 227.65,341.06 227.15,340.44 226.65,340.52 226.15,341.68 225.65,341.11 225.15,341.90 224.65,340.11 224.15,340.46 223.65,342.46 223.15,340.46 222.65,341.04 222.15,342.26 221.65,339.91 221.15,340.78 220.65,340.35 220.15,341.79 219.65,342.43 219.15,339.82 218.65,341.08 218.15,341.67 217.65,340.88 217.15,339.50 216.65,339.32 216.15,342.16 215.65,341.98 215.15,341.60 214.65,340.77 214.15,339.85 213.65,340.51 213.15,339.95 212.65,342.26 212.15,340.05 211.65,340.83 211.15,339.20 210.65,339.70 210.15,339.99 209.65,341.30 209.15,340.74 208.65,339.79 208.15,339.93 207.65,340.31 207.15,341.37 206.65,340.25 206.15,340.84 205.65,341.66 205.15,340.45 204.65,340.00 204.15,340.94 203.65,340.97 203.15,340.96 202.65,339.09 202.15,341.36 201.65,341.55 201.15,341.13 200.65,341.13 200.15,339.57 199.65,340.48 199.15,339.44 198.65,339.03 198.15,340.14 197.65,338.15 197.15,340.67 196.65,340.82 196.15,339.18 195.65,340.82 195.15,341.24 194.65,339.92 194.15,339.95 193.65,339.63 193.15,340.65 192.65,340.23 192.15,339.22 191.65,339.38 191.15,338.89 190.65,341.02 190.15,338.68 189.65,339.02 189.15,338.65 188.65,340.05 188.15,338.46 187.65,339.04 187.15,338.70 186.65,337.50 186.15,338.38 185.65,338.10 185.15,339.63 184.65,338.41 184.15,339.25 183.65,340.81 183.15,337.46 182.65,338.37 182.15,338.00 181.65,337.66 181.15,337.86 180.65,340.53 180.15,340.53 179.65,338.54 179.15,338.99 178.65,337.60 178.15,339.43 177.65,339.34 177.15,339.48 176.65,338.94 176.15,338.94 175.65,337.71 175.15,336.94 174.65,337.25 174.15,340.59 173.65,336.74 173.15,337.33 172.65,337.86 172.15,338.15 171.65,339.67 171.15,339.47 170.65,339.47 170.15,338.02 169.65,337.24 169.15,336.99 168.65,339.47 168.15,338.33 167.65,338.36 167.15,337.30 166.65,337.71 166.15,337.85 165.65,336.43 165.15,337.77 164.65,336.71 164.15,337.31 163.65,336.81 163.15,337.57 162.65,338.19 162.15,337.83 161.65,337.63 161.15,336.98 160.65,337.89 160.15,337.62 159.65,337.26 159.15,336.65 158.65,336.39 158.15,337.92 157.65,336.94 157.15,336.01 156.65,337.18 156.15,337.18 155.65,338.74 155.15,336.96 154.65,338.50 154.15,336.23 153.65,336.48 153.15,336.97 152.65,336.62 152.15,336.78 151.65,336.49 151.15,334.97 150.65,336.44 150.15,336.11 149.65,334.85 149.15,336.14 148.65,336.09 148.15,336.36 147.65,336.46 147.15,336.33 146.65,336.06 146.15,336.06 145.65,336.37 145.15,335.89 144.65,336.44 144.15,336.44 143.65,334.40 143.15,334.10 142.65,335.30 142.15,336.24 141.65,335.44 141.15,336.47 140.65,335.02 140.15,337.46 139.65,336.92 139.15,335.97 138.65,336.65 138.15,335.58 137.65,335.58 137.15,335.05 136.65,334.77 136.15,335.51 135.65,335.20 135.15,335.19 134.65,335.61 134.15,335.15 133.65,337.07 133.15,335.36 132.65,335.79 132.15,334.42 131.65,335.09 131.15,334.49 130.65,335.36 130.15,334.80 129.65,334.38 129.15,335.33 128.65,335.76 128.15,335.85 127.65,334.07 127.15,334.79 126.65,334.68 126.15,334.68 125.65,334.11 125.15,334.08 124.65,334.60 124.15,333.44 123.65,333.80 123.15,334.21 122.65,335.51 122.15,334.68 121.65,333.90 121.15,333.86 120.65,333.71 120.15,333.45 119.65,333.60 119.15,333.02 118.65,334.88 118.15,334.88 117.65,333.04 117.15,333.49 116.65,334.35 116.15,333.82 115.65,332.88 115.15,332.68 114.65,332.61 114.15,332.86 113.65,333.36 113.15,333.14 112.65,333.72 112.15,332.50 111.65,334.17 111.15,332.80 110.65,333.67 110.15,332.08 109.65,333.46 109.15,333.68 108.65,333.68 108.15,333.48 107.65,333.74 107.15,332.78 106.65,332.95 106.15,333.31 105.65,333.60 105.15,332.61 104.65,333.45 104.15,332.24 103.65,333.12 103.15,332.76 102.65,332.01 102.15,332.81 101.65,332.92 101.15,332.15 100.65,331.63 100.15,333.31 99.65,331.89 99.15,331.82 98.65,331.45 98.15,331.46 97.65,332.19 97.15,330.99 96.65,331.67 96.15,332.10 95.65,332.41 95.15,331.86 94.65,331.88 94.15,333.14 93.65,332.66 93.15,330.78 92.65,330.67 92.15,330.59 91.65,330.59 91.15,331.62 90.65,332.13 90.15,331.28 89.65,330.46 89.15,330.71 88.65,330.08 88.15,330.17 87.65,330.73 87.15,330.03 86.65,331.86 86.15,330.87 85.65,330.11 85.15,331.11 84.65,330.83 84.15,329.57 83.65,330.53 83.15,329.92 82.65,331.91 82.15,330.91 81.65,330.29 81.15,331.99 80.65,329.91 80.15,330.15 79.65,329.91 79.15,329.95 78.65,329.76 78.15,329.63 77.65,329.54 77.15,330.17 76.65,330.17 76.15,328.75 75.65,329.44 75.15,329.86 74.65,329.48 74.15,329.48 73.65,330.14 73.15,329.06 72.65,328.94 72.15,329.10 71.65,329.32 71.15,329.30 70.65,329.14 70.15,329.01 69.65,328.99 69.15,328.97 68.65,328.16 68.15,328.90 67.65,328.90 67.15,329.90 66.65,329.09 66.15,328.69 65.65,328.90 65.15,328.64 64.65,327.57 64.15,328.62 63.65,327.65 63.15,327.46 62.65,327.42 62.15,326.81 61.65,328.34 61.15,328.19 60.65,328.01 60.15,328.01 59.65,326.74" fill="#077d7d" fill-opacity="1.0"/>
<polyline points="56.80,282.30 57.00,300.00 57.20,312.00 57.50,319.50 58.00,323.50 58.80,325.20 59.65,325.24" fill="none" stroke="#077d7d" stroke-width="1.1" stroke-linejoin="round" />
</g>
<g clip-path="url(#cc2)">
<polyline points="56.80,414.70 56.80,407.20" fill="none" stroke="#ff0000" stroke-width="1.0" stroke-linejoin="round" />
<polygon points="59.05,370.99 59.55,371.37 60.05,371.62 60.55,371.43 61.05,371.43 61.55,372.16 62.05,372.61 62.55,372.83 63.05,373.01 63.55,373.05 64.05,373.05 64.55,373.41 65.05,373.83 65.55,373.16 66.05,374.24 66.55,374.52 67.05,374.90 67.55,374.94 68.05,374.97 68.55,375.57 69.05,375.86 69.55,375.39 70.05,376.17 70.55,376.48 71.05,376.86 71.55,376.47 72.05,377.18 72.55,377.18 73.05,377.75 73.55,377.72 74.05,377.71 74.55,378.30 75.05,377.84 75.55,377.84 76.05,378.75 76.55,379.41 77.05,379.43 77.55,380.15 78.05,380.78 78.55,380.75 79.05,381.56 79.55,381.21 80.05,381.24 80.55,382.00 81.05,382.48 81.55,382.64 82.05,382.91 82.55,383.07 83.05,383.37 83.55,383.63 84.05,384.11 84.55,384.04 85.05,382.88 85.55,385.03 86.05,385.69 86.55,385.30 87.05,385.76 87.55,385.44 88.05,386.55 88.55,387.10 89.05,386.79 89.55,387.02 90.05,387.83 90.55,387.50 91.05,387.19 91.55,387.46 92.05,388.74 92.55,389.16 93.05,388.56 93.55,388.23 94.05,390.55 94.55,389.51 95.05,389.00 95.55,390.28 96.05,389.97 96.55,391.49 97.05,392.26 97.55,391.30 98.05,391.56 98.55,392.40 99.05,392.09 99.55,392.76 100.05,392.33 100.55,392.33 101.05,393.22 101.55,393.97 102.05,394.71 102.55,393.52 103.05,394.45 103.55,393.11 104.05,393.11 104.55,395.29 105.05,396.01 105.55,396.30 106.05,394.96 106.55,394.35 107.05,394.35 107.55,397.20 108.05,395.61 108.55,395.61 109.05,396.25 109.55,396.55 110.05,395.88 110.55,397.50 111.05,399.03 111.55,397.16 112.05,397.16 112.55,399.30 113.05,397.71 113.55,398.15 114.05,397.62 114.55,399.27 115.05,396.72 115.55,400.29 116.05,397.49 116.55,398.69 117.05,399.42 117.55,398.36 118.05,399.01 118.55,400.78 119.05,400.79 119.55,400.07 120.05,399.84 120.55,401.60 121.05,398.61 121.55,399.36 122.05,401.34 122.55,398.29 123.05,397.98 123.55,400.27 124.05,399.92 124.55,400.93 125.05,400.15 125.55,402.51 126.05,400.08 126.55,400.62 127.05,402.89 127.55,398.95 128.05,398.95 128.55,400.67 129.05,402.85 129.55,403.88 130.05,401.08 130.55,401.08 131.05,403.86 131.55,401.28 132.05,400.02 132.55,401.39 133.05,403.49 133.55,402.45 134.05,404.14 134.55,399.47 135.05,400.53 135.55,400.62 136.05,400.82 136.55,401.52 137.05,401.36 137.55,402.05 138.05,401.34 138.55,399.73 139.05,401.03 139.55,399.32 140.05,401.14 140.55,401.17 141.05,402.51 141.55,400.95 142.05,401.33 142.55,401.04 143.05,399.26 143.55,401.98 144.05,400.44 144.55,400.75 145.05,401.74 145.55,399.44 146.05,401.53 146.55,401.58 147.05,401.15 147.55,401.32 148.05,400.25 148.55,401.45 149.05,399.98 149.55,399.98 150.05,402.85 150.55,400.21 151.05,399.30 151.55,399.30 152.05,402.88 152.55,400.21 153.05,400.21 153.55,399.65 154.05,399.66 154.55,402.58 155.05,401.75 155.55,403.30 156.05,401.80 156.55,399.72 157.05,401.00 157.55,401.87 158.05,400.77 158.55,402.96 159.05,403.13 159.55,404.81 160.05,400.76 160.55,403.87 161.05,400.55 161.55,402.21 162.05,398.78 162.55,404.38 163.05,399.30 163.55,402.74 164.05,403.76 164.55,402.61 165.05,402.87 165.55,397.93 166.05,401.05 166.55,401.05 167.05,400.32 167.55,402.75 168.05,400.69 168.55,401.57 169.05,400.32 169.55,401.68 170.05,401.14 170.55,398.94 171.05,398.94 171.55,400.47 172.05,401.97 172.55,400.54 173.05,402.07 173.55,402.77 174.05,404.05 174.55,401.47 175.05,398.73 175.55,398.73 176.05,400.46 176.55,402.94 177.05,404.58 177.55,403.15 178.05,401.92 178.55,400.46 179.05,402.48 179.55,400.87 180.05,402.60 180.55,403.77 181.05,403.77 181.55,401.44 182.05,400.18 182.55,402.88 183.05,401.53 183.55,400.71 184.05,403.68 184.55,400.39 185.05,400.03 185.55,400.93 186.05,400.81 186.55,403.52 187.05,401.35 187.55,401.35 188.05,402.40 188.55,402.06 189.05,400.84 189.55,402.55 190.05,403.87 190.55,401.27 191.05,403.81 191.55,401.97 192.05,400.98 192.55,400.91 193.05,402.97 193.55,400.11 194.05,400.11 194.55,401.53 195.05,401.14 195.55,399.14 196.05,402.58 196.55,401.45 197.05,398.72 197.55,402.89 198.05,400.86 198.55,400.49 199.05,400.34 199.55,403.83 200.05,399.17 200.55,402.59 201.05,402.11 201.55,399.87 202.05,402.15 202.55,401.32 203.05,399.39 203.55,400.27 204.05,397.23 204.55,401.42 205.05,401.20 205.55,401.55 206.05,403.85 206.55,400.88 207.05,401.63 207.55,401.37 208.05,400.82 208.55,404.02 209.05,401.39 209.55,402.64 210.05,401.22 210.55,401.46 211.05,400.46 211.55,400.21 212.05,400.35 212.55,402.38 213.05,401.61 213.55,402.07 214.05,401.78 214.55,401.70 215.05,399.43 215.55,401.57 216.05,401.94 216.55,403.21 217.05,402.99 217.55,401.77 218.05,401.89 218.55,403.82 219.05,401.45 219.55,401.60 220.05,400.87 220.55,401.92 221.05,403.42 221.55,403.74 222.05,402.20 222.55,402.77 223.05,401.12 223.55,400.57 224.05,400.72 224.55,400.72 225.05,400.26 225.55,400.26 226.05,400.13 226.55,402.49 227.05,402.26 227.55,401.43 228.05,401.16 228.55,400.65 229.05,400.80 229.55,402.08 230.05,401.63 230.55,402.11 231.05,402.52 231.55,401.01 232.05,401.12 232.55,403.43 233.05,401.39 233.55,402.76 234.05,398.21 234.55,403.61 235.05,401.52 235.55,401.82 236.05,400.48 236.55,400.32 237.05,402.77 237.55,401.81 238.05,402.40 238.55,401.71 239.05,401.13 239.55,402.33 240.05,399.59 240.55,400.93 241.05,401.62 241.55,401.46 242.05,403.19 242.55,402.20 243.05,401.31 243.55,400.39 244.05,401.27 244.55,400.21 245.05,400.47 245.55,402.21 246.05,402.21 246.55,400.82 247.05,400.95 247.55,403.04 248.05,400.38 248.55,402.27 249.05,403.01 249.55,402.69 250.05,401.37 250.55,401.11 251.05,400.40 251.55,402.44 252.05,404.09 252.55,402.69 253.05,399.70 253.55,399.70 254.05,402.66 254.55,400.63 255.05,399.70 255.55,402.85 256.05,403.42 256.55,400.37 257.05,403.01 257.55,400.38 258.05,400.34 258.55,403.60 259.05,402.49 259.55,402.85 260.05,401.84 260.55,400.59 261.05,402.57 261.55,402.53 262.05,402.07 262.55,401.34 263.05,400.01 263.55,400.01 264.05,402.60 264.55,403.14 265.05,401.04 265.55,400.99 266.05,402.71 266.55,399.49 267.05,402.24 267.55,404.41 268.05,404.08 268.55,400.65 269.05,400.85 269.55,399.76 270.05,399.67 270.55,402.06 271.05,402.01 271.55,402.65 272.05,400.39 272.55,402.23 273.05,401.56 273.55,403.33 274.05,402.94 274.55,401.86 275.05,401.35 275.55,401.35 276.05,401.83 276.55,400.80 277.05,398.84 277.55,401.62 278.05,404.79 278.55,403.28 279.05,401.94 279.55,401.20 280.05,399.81 280.55,399.81 281.05,401.25 281.55,401.65 282.05,400.28 282.55,402.47 283.05,403.58 283.55,402.96 284.05,402.44 284.55,401.64 285.05,401.64 285.55,400.68 286.05,401.92 286.55,403.47 287.05,402.67 287.55,401.65 288.05,401.65 288.55,402.14 289.05,400.75 289.55,402.71 290.05,401.59 290.55,400.98 291.05,401.53 291.55,401.53 292.05,403.65 292.55,401.46 293.05,403.12 293.55,401.83 294.05,403.51 294.55,401.79 295.05,403.67 295.55,401.82 296.05,403.57 296.55,402.66 297.05,402.32 297.55,402.65 298.05,401.87 298.55,398.89 299.05,400.79 299.55,400.04 300.05,403.72 300.55,405.37 301.05,401.35 301.55,400.48 302.05,402.97 302.55,399.47 303.05,399.87 303.55,401.96 304.05,401.80 304.55,400.78 305.05,402.25 305.55,403.73 306.05,402.91 306.55,402.38 307.05,402.79 307.55,398.88 308.05,401.72 308.55,401.43 309.05,401.43 309.55,399.60 310.05,401.08 310.55,403.98 311.05,402.02 311.55,401.54 312.05,401.20 312.55,401.13 313.05,404.43 313.55,400.60 314.05,400.16 314.55,402.34 315.05,397.80 315.55,397.80 316.05,399.90 316.55,403.24 317.05,401.85 317.55,402.63 318.05,402.61 318.55,402.54 319.05,403.06 319.55,399.18 320.05,403.86 320.55,400.65 321.05,402.10 321.55,399.26 322.05,400.84 322.55,401.37 323.05,402.43 323.55,402.12 324.05,404.32 324.55,400.29 325.05,400.01 325.55,400.33 326.05,400.33 326.55,402.89 326.55,413.26 326.05,413.47 325.55,415.70 325.05,415.70 324.55,412.30 324.05,413.12 323.55,412.66 323.05,408.54 322.55,408.73 322.05,415.70 321.55,415.70 321.05,413.38 320.55,412.74 320.05,413.43 319.55,407.99 319.05,415.70 318.55,412.61 318.05,415.70 317.55,408.27 317.05,413.01 316.55,409.04 316.05,409.07 315.55,412.25 315.05,412.87 314.55,409.26 314.05,411.79 313.55,412.50 313.05,413.00 312.55,412.50 312.05,415.70 311.55,415.70 311.05,413.51 310.55,413.51 310.05,411.98 309.55,415.70 309.05,412.49 308.55,412.95 308.05,412.95 307.55,415.70 307.05,415.70 306.55,413.11 306.05,415.70 305.55,415.70 305.05,408.52 304.55,412.16 304.05,415.70 303.55,415.70 303.05,415.70 302.55,412.21 302.05,413.51 301.55,412.74 301.05,412.52 300.55,413.04 300.05,413.04 299.55,413.36 299.05,412.82 298.55,412.88 298.05,415.70 297.55,415.70 297.05,415.70 296.55,415.70 296.05,413.58 295.55,415.70 295.05,413.16 294.55,415.70 294.05,415.70 293.55,415.70 293.05,415.70 292.55,413.04 292.05,415.70 291.55,415.70 291.05,412.98 290.55,412.95 290.05,412.95 289.55,415.70 289.05,413.04 288.55,415.70 288.05,415.70 287.55,408.72 287.05,412.85 286.55,412.46 286.05,415.70 285.55,408.36 285.05,415.70 284.55,412.94 284.05,415.70 283.55,415.70 283.05,412.65 282.55,415.70 282.05,415.70 281.55,408.82 281.05,415.70 280.55,412.50 280.05,415.70 279.55,413.16 279.05,412.43 278.55,415.70 278.05,411.93 277.55,415.70 277.05,411.90 276.55,412.42 276.05,413.38 275.55,415.70 275.05,415.70 274.55,412.07 274.05,412.40 273.55,412.39 273.05,412.65 272.55,415.70 272.05,408.93 271.55,408.67 271.05,415.70 270.55,415.70 270.05,412.39 269.55,415.70 269.05,415.70 268.55,415.70 268.05,412.90 267.55,412.52 267.05,412.50 266.55,412.73 266.05,412.35 265.55,415.70 265.05,415.70 264.55,415.70 264.05,412.55 263.55,415.70 263.05,412.66 262.55,415.70 262.05,407.65 261.55,412.56 261.05,412.47 260.55,408.64 260.05,415.70 259.55,408.87 259.05,415.70 258.55,415.70 258.05,412.54 257.55,413.11 257.05,412.81 256.55,415.70 256.05,415.70 255.55,413.23 255.05,415.70 254.55,412.97 254.05,413.15 253.55,412.24 253.05,412.97 252.55,412.97 252.05,415.70 251.55,412.28 251.05,415.70 250.55,408.30 250.05,415.70 249.55,412.12 249.05,412.61 248.55,415.70 248.05,415.70 247.55,415.70 247.05,415.70 246.55,412.96 246.05,409.38 245.55,415.70 245.05,412.63 244.55,415.70 244.05,412.49 243.55,415.70 243.05,412.57 242.55,415.70 242.05,412.57 241.55,411.87 241.05,412.95 240.55,412.49 240.05,415.70 239.55,407.65 239.05,412.28 238.55,415.70 238.05,413.05 237.55,412.51 237.05,413.07 236.55,415.70 236.05,415.70 235.55,408.44 235.05,415.70 234.55,413.21 234.05,412.28 233.55,415.70 233.05,408.54 232.55,415.70 232.05,411.48 231.55,415.70 231.05,413.10 230.55,415.70 230.05,412.54 229.55,413.06 229.05,413.06 228.55,412.86 228.05,411.90 227.55,411.90 227.05,415.70 226.55,412.88 226.05,411.28 225.55,406.40 225.05,412.47 224.55,415.70 224.05,412.60 223.55,407.53 223.05,412.75 222.55,415.70 222.05,412.58 221.55,415.70 221.05,412.11 220.55,412.11 220.05,413.08 219.55,412.46 219.05,415.70 218.55,415.70 218.05,412.92 217.55,413.04 217.05,415.70 216.55,415.70 216.05,415.70 215.55,412.53 215.05,412.61 214.55,412.40 214.05,415.70 213.55,415.70 213.05,412.02 212.55,412.62 212.05,412.72 211.55,415.70 211.05,412.94 210.55,415.70 210.05,415.70 209.55,415.70 209.05,415.70 208.55,415.70 208.05,408.98 207.55,411.47 207.05,412.77 206.55,412.32 206.05,415.70 205.55,408.99 205.05,415.70 204.55,411.56 204.05,415.70 203.55,415.70 203.05,411.74 202.55,415.70 202.05,412.09 201.55,412.09 201.05,412.25 200.55,412.25 200.05,412.60 199.55,412.60 199.05,415.70 198.55,412.91 198.05,412.40 197.55,411.70 197.05,412.86 196.55,412.86 196.05,413.23 195.55,412.88 195.05,409.22 194.55,412.05 194.05,415.70 193.55,415.70 193.05,415.70 192.55,413.10 192.05,412.84 191.55,415.70 191.05,415.70 190.55,415.70 190.05,415.70 189.55,415.70 189.05,412.06 188.55,413.14 188.05,415.70 187.55,415.70 187.05,412.57 186.55,412.83 186.05,406.14 185.55,412.65 185.05,413.04 184.55,412.44 184.05,408.34 183.55,412.38 183.05,415.70 182.55,408.73 182.05,413.49 181.55,412.43 181.05,412.41 180.55,411.96 180.05,412.30 179.55,412.37 179.05,411.83 178.55,412.87 178.05,413.01 177.55,415.70 177.05,412.25 176.55,415.70 176.05,408.42 175.55,413.02 175.05,411.95 174.55,409.30 174.05,415.70 173.55,415.70 173.05,412.21 172.55,408.85 172.05,412.38 171.55,415.70 171.05,415.70 170.55,412.74 170.05,415.70 169.55,412.16 169.05,412.60 168.55,415.70 168.05,412.89 167.55,412.89 167.05,411.85 166.55,409.24 166.05,412.42 165.55,415.70 165.05,412.53 164.55,415.70 164.05,415.70 163.55,415.70 163.05,415.70 162.55,413.29 162.05,408.56 161.55,415.70 161.05,415.70 160.55,412.58 160.05,415.70 159.55,412.72 159.05,412.04 158.55,412.93 158.05,413.40 157.55,412.11 157.05,415.70 156.55,409.35 156.05,412.96 155.55,415.70 155.05,415.70 154.55,412.11 154.05,412.63 153.55,412.29 153.05,412.29 152.55,415.70 152.05,413.01 151.55,411.81 151.05,411.65 150.55,412.02 150.05,415.70 149.55,415.70 149.05,412.67 148.55,415.70 148.05,413.17 147.55,415.70 147.05,415.70 146.55,409.07 146.05,412.77 145.55,415.70 145.05,412.63 144.55,408.29 144.05,412.96 143.55,407.41 143.05,415.70 142.55,413.37 142.05,412.73 141.55,415.70 141.05,412.03 140.55,415.70 140.05,415.70 139.55,415.70 139.05,415.70 138.55,415.70 138.05,415.70 137.55,412.76 137.05,415.70 136.55,408.03 136.05,412.70 135.55,408.95 135.05,415.70 134.55,412.42 134.05,412.97 133.55,407.86 133.05,415.70 132.55,412.02 132.05,415.70 131.55,411.72 131.05,412.90 130.55,405.90 130.05,411.96 129.55,411.96 129.05,408.58 128.55,412.27 128.05,415.70 127.55,412.83 127.05,412.29 126.55,408.56 126.05,411.70 125.55,411.86 125.05,411.52 124.55,415.70 124.05,412.30 123.55,415.70 123.05,408.08 122.55,411.77 122.05,406.94 121.55,412.66 121.05,412.71 120.55,408.91 120.05,408.42 119.55,408.64 119.05,405.92 118.55,408.50 118.05,406.22 117.55,412.48 117.05,403.83 116.55,407.95 116.05,411.77 115.55,406.15 115.05,406.15 114.55,404.09 114.05,406.16 113.55,412.30 113.05,408.29 112.55,403.40 112.05,405.83 111.55,405.73 111.05,404.60 110.55,405.70 110.05,403.91 109.55,404.60 109.05,402.41 108.55,404.25 108.05,403.01 107.55,401.47 107.05,408.65 106.55,400.19 106.05,400.70 105.55,399.50 105.05,401.93 104.55,400.54 104.05,399.57 103.55,401.19 103.05,402.75 102.55,400.33 102.05,400.33 101.55,398.35 101.05,398.75 100.55,398.31 100.05,397.03 99.55,396.17 99.05,394.89 98.55,397.98 98.05,396.00 97.55,395.98 97.05,395.81 96.55,395.81 96.05,394.80 95.55,394.32 95.05,392.34 94.55,394.76 94.05,393.32 93.55,393.98 93.05,394.09 92.55,392.58 92.05,391.97 91.55,390.13 91.05,390.51 90.55,389.23 90.05,390.41 89.55,389.71 89.05,389.67 88.55,389.44 88.05,388.86 87.55,388.43 87.05,387.52 86.55,387.54 86.05,387.11 85.55,386.83 85.05,386.91 84.55,386.76 84.05,386.88 83.55,386.24 83.05,385.94 82.55,385.22 82.05,384.93 81.55,384.79 81.05,384.08 80.55,383.80 80.05,382.97 79.55,383.46 79.05,383.58 78.55,382.24 78.05,382.57 77.55,382.60 77.05,381.61 76.55,381.73 76.05,381.30 75.55,381.17 75.05,379.73 74.55,380.76 74.05,379.75 73.55,380.15 73.05,380.10 72.55,379.08 72.05,378.85 71.55,378.80 71.05,378.09 70.55,378.43 70.05,377.87 69.55,377.61 69.05,377.07 68.55,376.47 68.05,376.71 67.55,376.84 67.05,376.04 66.55,376.04 66.05,375.74 65.55,375.80 65.05,375.24 64.55,374.79 64.05,374.92 63.55,374.35 63.05,374.17 62.55,374.17 62.05,373.56 61.55,373.86 61.05,373.53 60.55,373.05 60.05,373.09 59.55,372.83 59.05,372.55" fill="#ff0000" fill-opacity="1.0"/>
<polyline points="57.30,382.00 57.30,352.90 57.60,356.00 58.20,368.50 59.05,371.77" fill="none" stroke="#ff0000" stroke-width="1.1" stroke-linejoin="round" />
</g>
<g clip-path="url(#cc3)">
<polyline points="53.10,485.80 53.10,480.00" fill="none" stroke="#800000" stroke-width="1.0" stroke-linejoin="round" />
<polygon points="59.25,443.21 59.75,444.09 60.25,445.45 60.75,445.90 61.25,446.88 61.75,446.88 62.25,449.08 62.75,448.96 63.25,449.73 63.75,450.95 64.25,450.66 64.75,451.20 65.25,451.10 65.75,452.36 66.25,452.69 66.75,452.37 67.25,452.61 67.75,453.82 68.25,454.10 68.75,454.79 69.25,455.51 69.75,455.38 70.25,455.88 70.75,456.81 71.25,456.90 71.75,456.45 72.25,457.41 72.75,458.19 73.25,459.35 73.75,458.93 74.25,460.08 74.75,458.89 75.25,461.10 75.75,461.53 76.25,461.53 76.75,462.72 77.25,462.46 77.75,461.29 78.25,462.77 78.75,464.12 79.25,464.41 79.75,462.58 80.25,464.27 80.75,464.15 81.25,465.62 81.75,465.59 82.25,465.54 82.75,464.55 83.25,465.86 83.75,464.05 84.25,464.05 84.75,467.38 85.25,466.07 85.75,466.25 86.25,466.51 86.75,466.51 87.25,465.62 87.75,467.13 88.25,466.68 88.75,467.17 89.25,467.50 89.75,469.11 90.25,468.39 90.75,468.08 91.25,468.41 91.75,468.12 92.25,468.93 92.75,468.41 93.25,468.79 93.75,468.61 94.25,468.64 94.75,469.69 95.25,467.70 95.75,469.03 96.25,469.35 96.75,467.96 97.25,467.96 97.75,470.94 98.25,472.33 98.75,469.10 99.25,469.06 99.75,468.22 100.25,470.40 100.75,472.07 101.25,469.73 101.75,469.97 102.25,470.30 102.75,469.76 103.25,468.98 103.75,469.78 104.25,470.22 104.75,470.38 105.25,470.47 105.75,471.49 106.25,471.51 106.75,469.28 107.25,469.93 107.75,470.90 108.25,472.19 108.75,472.75 109.25,472.10 109.75,470.14 110.25,471.06 110.75,472.12 111.25,470.54 111.75,471.50 112.25,470.75 112.75,471.18 113.25,471.19 113.75,473.18 114.25,470.88 114.75,471.46 115.25,472.94 115.75,473.15 116.25,473.15 116.75,472.94 117.25,473.12 117.75,474.13 118.25,472.86 118.75,472.86 119.25,472.17 119.75,470.74 120.25,472.35 120.75,471.60 121.25,473.19 121.75,473.46 122.25,469.89 122.75,471.98 123.25,476.56 123.75,472.26 124.25,473.39 124.75,473.21 125.25,474.59 125.75,473.02 126.25,474.94 126.75,474.94 127.25,471.63 127.75,474.39 128.25,473.09 128.75,471.62 129.25,474.22 129.75,472.07 130.25,474.23 130.75,473.88 131.25,470.39 131.75,474.09 132.25,472.22 132.75,472.22 133.25,471.47 133.75,471.16 134.25,471.44 134.75,473.08 135.25,474.27 135.75,474.40 136.25,470.46 136.75,474.22 137.25,474.36 137.75,473.17 138.25,473.71 138.75,473.95 139.25,474.41 139.75,472.95 140.25,473.74 140.75,471.65 141.25,472.67 141.75,473.78 142.25,474.15 142.75,471.76 143.25,474.77 143.75,475.93 144.25,472.74 144.75,472.29 145.25,473.81 145.75,472.95 146.25,472.19 146.75,474.22 147.25,472.24 147.75,472.97 148.25,473.33 148.75,475.09 149.25,474.80 149.75,473.16 150.25,472.18 150.75,472.88 151.25,473.87 151.75,471.29 152.25,473.86 152.75,472.14 153.25,474.00 153.75,473.58 154.25,473.36 154.75,473.33 155.25,474.87 155.75,473.17 156.25,475.16 156.75,471.45 157.25,475.78 157.75,473.88 158.25,473.24 158.75,473.12 159.25,472.44 159.75,473.40 160.25,474.63 160.75,475.34 161.25,473.54 161.75,473.89 162.25,473.97 162.75,473.28 163.25,470.43 163.75,473.99 164.25,472.74 164.75,474.42 165.25,473.52 165.75,473.51 166.25,474.60 166.75,471.66 167.25,472.50 167.75,472.16 168.25,473.59 168.75,473.34 169.25,472.80 169.75,472.73 170.25,474.33 170.75,472.58 171.25,473.68 171.75,472.25 172.25,475.08 172.75,475.32 173.25,472.99 173.75,472.99 174.25,475.83 174.75,471.27 175.25,471.79 175.75,473.43 176.25,472.30 176.75,472.03 177.25,474.57 177.75,474.17 178.25,474.30 178.75,472.91 179.25,472.91 179.75,469.35 180.25,473.18 180.75,474.42 181.25,472.97 181.75,472.89 182.25,474.18 182.75,473.36 183.25,475.11 183.75,472.51 184.25,475.48 184.75,472.15 185.25,472.15 185.75,473.37 186.25,472.80 186.75,473.68 187.25,471.03 187.75,474.17 188.25,474.20 188.75,472.79 189.25,472.00 189.75,475.92 190.25,477.58 190.75,474.54 191.25,474.29 191.75,476.59 192.25,472.84 192.75,473.53 193.25,474.95 193.75,473.08 194.25,474.54 194.75,474.32 195.25,473.60 195.75,472.34 196.25,474.70 196.75,474.01 197.25,471.97 197.75,471.97 198.25,475.41 198.75,474.98 199.25,474.84 199.75,471.84 200.25,471.72 200.75,471.72 201.25,474.56 201.75,475.70 202.25,471.88 202.75,474.84 203.25,474.24 203.75,473.22 204.25,472.24 204.75,471.21 205.25,475.48 205.75,474.23 206.25,473.13 206.75,475.64 207.25,473.85 207.75,476.44 208.25,475.60 208.75,471.48 209.25,473.73 209.75,474.01 210.25,475.48 210.75,472.43 211.25,470.92 211.75,472.25 212.25,472.22 212.75,475.36 213.25,474.40 213.75,473.85 214.25,472.88 214.75,472.88 215.25,470.61 215.75,474.49 216.25,475.54 216.75,472.48 217.25,471.49 217.75,475.71 218.25,471.46 218.75,474.35 219.25,474.48 219.75,473.66 220.25,474.12 220.75,473.81 221.25,474.76 221.75,473.12 222.25,472.94 222.75,471.85 223.25,472.87 223.75,474.16 224.25,474.05 224.75,474.09 225.25,472.58 225.75,472.70 226.25,474.78 226.75,471.63 227.25,472.81 227.75,473.69 228.25,472.89 228.75,473.09 229.25,472.37 229.75,474.04 230.25,474.04 230.75,473.14 231.25,475.33 231.75,475.80 232.25,475.48 232.75,473.06 233.25,472.86 233.75,472.86 234.25,473.43 234.75,472.70 235.25,475.06 235.75,475.37 236.25,473.70 236.75,474.16 237.25,474.86 237.75,472.15 238.25,476.58 238.75,476.01 239.25,476.54 239.75,474.52 240.25,472.48 240.75,475.00 241.25,475.61 241.75,474.10 242.25,474.12 242.75,471.41 243.25,474.32 243.75,474.68 244.25,472.12 244.75,473.33 245.25,471.89 245.75,473.73 246.25,473.48 246.75,471.37 247.25,475.67 247.75,472.71 248.25,473.29 248.75,471.36 249.25,473.45 249.75,473.87 250.25,469.31 250.75,473.59 251.25,472.51 251.75,471.15 252.25,472.90 252.75,472.90 253.25,472.99 253.75,473.35 254.25,471.69 254.75,471.69 255.25,474.94 255.75,472.29 256.25,472.29 256.75,473.74 257.25,474.52 257.75,474.17 258.25,473.89 258.75,472.51 259.25,476.33 259.75,474.35 260.25,473.52 260.75,473.52 261.25,472.69 261.75,472.93 262.25,473.31 262.75,473.56 263.25,472.49 263.75,474.38 264.25,475.16 264.75,474.98 265.25,472.87 265.75,475.19 266.25,471.80 266.75,476.39 267.25,473.52 267.75,473.52 268.25,473.05 268.75,470.88 269.25,473.01 269.75,471.76 270.25,473.03 270.75,475.10 271.25,472.58 271.75,474.13 272.25,474.61 272.75,473.08 273.25,474.00 273.75,471.11 274.25,473.89 274.75,475.24 275.25,473.05 275.75,473.05 276.25,473.92 276.75,475.59 277.25,473.64 277.75,473.58 278.25,474.18 278.75,472.01 279.25,472.14 279.75,473.43 280.25,472.35 280.75,472.02 281.25,472.02 281.75,473.15 282.25,473.22 282.75,473.54 283.25,471.96 283.75,471.54 284.25,472.21 284.75,472.41 285.25,473.36 285.75,475.66 286.25,473.34 286.75,472.13 287.25,472.56 287.75,472.56 288.25,475.48 288.75,473.89 289.25,473.43 289.75,474.07 290.25,472.07 290.75,472.07 291.25,472.50 291.75,472.50 292.25,472.92 292.75,475.71 293.25,471.81 293.75,473.31 294.25,471.83 294.75,471.83 295.25,473.89 295.75,474.51 296.25,475.30 296.75,472.01 297.25,472.70 297.75,473.10 298.25,472.37 298.75,472.76 299.25,472.96 299.75,473.79 300.25,473.98 300.75,476.46 301.25,473.06 301.75,473.06 302.25,473.43 302.75,473.35 303.25,473.56 303.75,473.72 304.25,473.45 304.75,470.48 305.25,470.48 305.75,475.51 306.25,472.67 306.75,474.70 307.25,475.25 307.75,472.65 308.25,472.91 308.75,475.51 309.25,472.19 309.75,474.34 310.25,473.02 310.75,474.75 311.25,472.38 311.75,472.90 312.25,474.54 312.75,473.05 313.25,473.05 313.75,472.96 314.25,473.38 314.75,472.17 315.25,472.31 315.75,472.31 316.25,474.83 316.75,475.85 317.25,473.37 317.75,476.03 318.25,475.43 318.75,474.46 319.25,474.48 319.75,471.98 320.25,473.67 320.75,473.99 321.25,474.24 321.75,472.14 322.25,473.49 322.75,472.52 323.25,472.78 323.75,473.66 324.25,473.16 324.75,475.38 325.25,474.31 325.75,473.15 326.25,474.34 326.25,486.80 325.75,484.21 325.25,484.21 324.75,486.80 324.25,486.80 323.75,486.80 323.25,486.80 322.75,484.40 322.25,486.80 321.75,483.90 321.25,484.39 320.75,486.80 320.25,485.25 319.75,483.29 319.25,483.88 318.75,486.80 318.25,486.80 317.75,484.28 317.25,483.53 316.75,484.58 316.25,484.54 315.75,486.80 315.25,483.70 314.75,486.80 314.25,484.35 313.75,484.35 313.25,486.80 312.75,484.59 312.25,486.80 311.75,484.36 311.25,484.85 310.75,485.13 310.25,484.12 309.75,484.94 309.25,486.80 308.75,486.80 308.25,486.80 307.75,483.64 307.25,484.34 306.75,486.80 306.25,486.80 305.75,484.48 305.25,483.83 304.75,486.80 304.25,486.80 303.75,485.10 303.25,486.80 302.75,484.14 302.25,484.21 301.75,486.80 301.25,486.80 300.75,484.10 300.25,480.16 299.75,486.80 299.25,484.72 298.75,486.80 298.25,484.32 297.75,484.13 297.25,486.80 296.75,486.80 296.25,486.80 295.75,483.57 295.25,483.98 294.75,479.86 294.25,486.80 293.75,484.38 293.25,484.73 292.75,484.73 292.25,479.93 291.75,484.37 291.25,484.27 290.75,479.79 290.25,480.33 289.75,484.61 289.25,484.61 288.75,484.21 288.25,484.04 287.75,484.18 287.25,486.80 286.75,486.80 286.25,483.31 285.75,486.80 285.25,484.56 284.75,486.80 284.25,484.85 283.75,486.80 283.25,486.80 282.75,486.80 282.25,483.90 281.75,486.80 281.25,486.80 280.75,486.80 280.25,486.80 279.75,486.80 279.25,484.49 278.75,485.36 278.25,486.80 277.75,486.80 277.25,483.56 276.75,484.95 276.25,485.01 275.75,484.21 275.25,485.04 274.75,484.03 274.25,484.20 273.75,484.20 273.25,486.80 272.75,486.80 272.25,484.70 271.75,484.17 271.25,484.38 270.75,486.80 270.25,483.90 269.75,483.99 269.25,482.95 268.75,484.12 268.25,479.71 267.75,484.43 267.25,483.26 266.75,484.79 266.25,483.93 265.75,484.33 265.25,486.80 264.75,484.56 264.25,486.80 263.75,486.80 263.25,485.14 262.75,478.95 262.25,484.20 261.75,486.80 261.25,483.86 260.75,486.80 260.25,484.63 259.75,480.11 259.25,486.80 258.75,486.80 258.25,486.80 257.75,486.80 257.25,483.97 256.75,483.70 256.25,486.80 255.75,480.43 255.25,486.80 254.75,486.80 254.25,486.80 253.75,486.80 253.25,484.75 252.75,486.80 252.25,486.80 251.75,479.60 251.25,486.80 250.75,484.41 250.25,480.95 249.75,480.10 249.25,484.36 248.75,484.36 248.25,486.80 247.75,484.33 247.25,486.80 246.75,484.64 246.25,486.80 245.75,486.80 245.25,484.50 244.75,486.80 244.25,486.80 243.75,484.86 243.25,484.64 242.75,479.96 242.25,484.73 241.75,480.09 241.25,484.62 240.75,486.80 240.25,484.53 239.75,486.80 239.25,486.80 238.75,486.80 238.25,486.80 237.75,485.11 237.25,483.11 236.75,484.12 236.25,480.52 235.75,486.80 235.25,486.80 234.75,486.80 234.25,480.85 233.75,484.29 233.25,483.76 232.75,486.80 232.25,486.80 231.75,484.11 231.25,486.80 230.75,485.15 230.25,483.93 229.75,486.80 229.25,486.80 228.75,486.80 228.25,484.87 227.75,486.80 227.25,484.90 226.75,483.51 226.25,484.03 225.75,486.80 225.25,484.09 224.75,484.32 224.25,484.66 223.75,484.90 223.25,484.97 222.75,486.80 222.25,484.19 221.75,484.19 221.25,480.01 220.75,484.31 220.25,480.42 219.75,484.40 219.25,485.45 218.75,479.82 218.25,484.23 217.75,485.27 217.25,483.62 216.75,486.80 216.25,486.80 215.75,486.80 215.25,486.80 214.75,486.80 214.25,480.07 213.75,484.69 213.25,484.45 212.75,484.03 212.25,483.93 211.75,486.80 211.25,484.39 210.75,486.80 210.25,484.35 209.75,483.82 209.25,484.07 208.75,483.57 208.25,483.89 207.75,486.80 207.25,484.10 206.75,484.55 206.25,486.80 205.75,486.80 205.25,486.80 204.75,484.01 204.25,484.01 203.75,486.80 203.25,486.80 202.75,486.80 202.25,483.81 201.75,484.28 201.25,486.80 200.75,486.80 200.25,484.80 199.75,485.14 199.25,486.80 198.75,484.17 198.25,486.80 197.75,484.69 197.25,484.25 196.75,483.67 196.25,484.60 195.75,484.60 195.25,484.13 194.75,484.74 194.25,486.80 193.75,486.80 193.25,486.80 192.75,486.80 192.25,482.99 191.75,486.80 191.25,484.65 190.75,484.39 190.25,486.80 189.75,483.74 189.25,484.59 188.75,486.80 188.25,483.96 187.75,483.88 187.25,486.80 186.75,484.78 186.25,484.54 185.75,480.70 185.25,484.09 184.75,483.64 184.25,486.80 183.75,485.16 183.25,484.12 182.75,483.91 182.25,484.60 181.75,480.13 181.25,484.26 180.75,486.80 180.25,484.39 179.75,486.80 179.25,484.49 178.75,484.65 178.25,483.56 177.75,486.80 177.25,484.67 176.75,485.27 176.25,486.80 175.75,486.80 175.25,484.51 174.75,486.80 174.25,482.64 173.75,486.80 173.25,480.07 172.75,484.08 172.25,483.54 171.75,484.64 171.25,486.80 170.75,483.97 170.25,484.63 169.75,483.39 169.25,484.64 168.75,480.58 168.25,484.21 167.75,480.56 167.25,485.00 166.75,484.02 166.25,484.46 165.75,480.64 165.25,483.32 164.75,484.42 164.25,483.57 163.75,486.80 163.25,486.80 162.75,484.49 162.25,486.80 161.75,486.80 161.25,484.42 160.75,486.80 160.25,484.21 159.75,485.18 159.25,486.80 158.75,486.80 158.25,483.68 157.75,484.53 157.25,485.34 156.75,480.63 156.25,486.80 155.75,486.80 155.25,484.46 154.75,486.80 154.25,486.80 153.75,483.49 153.25,486.80 152.75,480.91 152.25,479.76 151.75,483.86 151.25,484.36 150.75,483.73 150.25,483.69 149.75,486.80 149.25,480.07 148.75,484.07 148.25,483.42 147.75,480.69 147.25,484.47 146.75,486.80 146.25,483.87 145.75,484.41 145.25,486.80 144.75,486.80 144.25,484.18 143.75,486.80 143.25,484.39 142.75,486.80 142.25,486.80 141.75,484.00 141.25,484.13 140.75,483.82 140.25,480.68 139.75,484.04 139.25,483.96 138.75,486.80 138.25,484.71 137.75,484.71 137.25,483.79 136.75,486.80 136.25,486.80 135.75,486.80 135.25,486.80 134.75,480.18 134.25,484.43 133.75,484.67 133.25,484.39 132.75,485.34 132.25,480.73 131.75,484.25 131.25,480.29 130.75,483.82 130.25,486.80 129.75,484.06 129.25,483.96 128.75,484.21 128.25,484.17 127.75,484.32 127.25,484.32 126.75,484.42 126.25,483.56 125.75,486.80 125.25,486.80 124.75,484.33 124.25,483.80 123.75,486.80 123.25,484.45 122.75,486.80 122.25,486.80 121.75,480.23 121.25,479.94 120.75,486.80 120.25,484.78 119.75,484.48 119.25,479.97 118.75,481.00 118.25,479.02 117.75,480.71 117.25,480.50 116.75,480.79 116.25,484.66 115.75,483.91 115.25,485.06 114.75,480.49 114.25,486.80 113.75,486.80 113.25,478.57 112.75,484.25 112.25,479.71 111.75,483.97 111.25,483.46 110.75,483.46 110.25,479.64 109.75,477.42 109.25,479.59 108.75,480.39 108.25,484.37 107.75,483.92 107.25,480.24 106.75,479.77 106.25,479.78 105.75,480.15 105.25,480.15 104.75,477.50 104.25,477.52 103.75,478.14 103.25,478.04 102.75,476.60 102.25,480.31 101.75,479.72 101.25,486.80 100.75,480.51 100.25,477.78 99.75,475.15 99.25,477.07 98.75,483.98 98.25,484.54 97.75,479.85 97.25,475.11 96.75,479.04 96.25,480.75 95.75,477.84 95.25,473.21 94.75,475.68 94.25,477.53 93.75,472.60 93.25,475.19 92.75,475.00 92.25,471.55 91.75,476.34 91.25,474.71 90.75,474.44 90.25,474.94 89.75,472.81 89.25,472.57 88.75,474.61 88.25,471.69 87.75,473.41 87.25,473.28 86.75,472.50 86.25,472.20 85.75,472.99 85.25,471.59 84.75,471.42 84.25,470.72 83.75,473.48 83.25,471.33 82.75,469.81 82.25,471.64 81.75,469.37 81.25,469.20 80.75,468.75 80.25,468.94 79.75,468.94 79.25,468.56 78.75,468.26 78.25,465.65 77.75,466.70 77.25,465.63 76.75,465.63 76.25,465.04 75.75,464.39 75.25,464.39 74.75,463.39 74.25,463.54 73.75,461.77 73.25,461.53 72.75,461.33 72.25,460.22 71.75,458.92 71.25,459.23 70.75,459.60 70.25,458.11 69.75,458.68 69.25,456.85 68.75,456.27 68.25,456.22 67.75,456.27 67.25,454.97 66.75,454.51 66.25,454.08 65.75,454.33 65.25,454.62 64.75,453.04 64.25,453.04 63.75,452.55 63.25,452.71 62.75,451.71 62.25,450.78 61.75,450.03 61.25,449.36 60.75,448.17 60.25,447.16 59.75,445.76 59.25,444.61" fill="#800000" fill-opacity="1.0"/>
<polyline points="57.60,485.80 57.60,425.00 57.90,424.80 58.50,436.00 59.25,443.91" fill="none" stroke="#800000" stroke-width="1.1" stroke-linejoin="round" />
</g>
<text x="237.60" y="283.80" font-size="11.2" fill="#000" font-weight="bold" text-anchor="start" >BCz-BN</text>
<text x="237.90" y="302.10" transform="matrix(1.0,0,0,1.1,0.000,-30.210)" font-size="11.5" fill="#22a0a0">τ<tspan font-size="7.8" dy="3.0">PF</tspan><tspan dy="-3.0"> = 6.7 ns</tspan></text>
<text x="237.90" y="315.30" transform="matrix(1.0,0,0,1.1,0.000,-31.530)" font-size="11.5" fill="#22a0a0">τ<tspan font-size="7.8" dy="3.0">DF</tspan><tspan dy="-3.0"> = 56.7 μs</tspan></text>
<text x="237.60" y="355.00" font-size="11.2" fill="#000" font-weight="bold" text-anchor="start" >S-BN</text>
<text x="237.90" y="370.40" transform="matrix(1.0,0,0,1.1,0.000,-37.040)" font-size="11.5" fill="#f02020">τ<tspan font-size="7.8" dy="3.0">PF</tspan><tspan dy="-3.0"> = 9.2 ns</tspan></text>
<text x="237.90" y="383.80" transform="matrix(1.0,0,0,1.1,0.000,-38.380)" font-size="11.5" fill="#f02020">τ<tspan font-size="7.8" dy="3.0">DF</tspan><tspan dy="-3.0"> = 15.3 μs</tspan></text>
<text x="237.60" y="425.40" font-size="11.2" fill="#000" font-weight="bold" text-anchor="start" >2S-BN</text>
<text x="237.90" y="442.50" transform="matrix(1.0,0,0,1.1,0.000,-44.250)" font-size="11.5" fill="#a02a2a">τ<tspan font-size="7.8" dy="3.0">PF</tspan><tspan dy="-3.0"> = 10.7 ns</tspan></text>
<text x="237.90" y="456.30" transform="matrix(1.0,0,0,1.1,0.000,-45.630)" font-size="11.5" fill="#a02a2a">τ<tspan font-size="7.8" dy="3.0">DF</tspan><tspan dy="-3.0"> = 7.6 μs</tspan></text>
<g clip-path="url(#cd1)">
<polygon points="396.85,365.36 397.35,365.36 397.85,365.36 398.35,369.48 398.85,369.48 399.35,369.48 399.85,369.48 400.35,362.45 400.85,369.48 401.35,362.45 401.85,365.36 402.35,369.48 402.85,365.36 403.35,365.36 403.85,369.48 403.85,379.20 403.35,379.20 402.85,379.20 402.35,379.20 401.85,379.20 401.35,379.20 400.85,379.20 400.35,379.20 399.85,379.20 399.35,379.20 398.85,379.20 398.35,379.20 397.85,379.20 397.35,379.20 396.85,379.20" fill="#555555" fill-opacity="1.0"/>
<polygon points="405.45,354.93 405.95,358.39 406.45,365.44 406.95,358.10 407.45,358.10 407.95,365.28 408.45,369.24 408.95,369.35 409.45,376.26 409.95,365.44 410.45,362.45 410.95,364.87 411.45,365.42 411.95,376.22 412.45,365.06 412.95,369.46 413.45,362.25 413.95,369.34 414.45,365.42 414.95,365.45 415.45,369.50 415.95,376.29 416.45,362.20 416.95,362.20 417.45,376.40 417.95,369.20 418.45,365.54 418.95,365.29 419.45,362.72 419.95,365.51 420.45,369.05 420.95,369.71 421.45,376.31 421.95,376.31 422.45,362.47 422.95,365.28 423.45,362.53 423.95,369.22 424.45,362.81 424.95,369.01 425.45,369.14 425.95,369.41 426.45,369.51 426.95,362.29 427.45,369.14 427.95,376.24 428.45,365.38 428.95,369.33 429.45,369.33 429.95,376.35 430.45,365.29 430.95,362.70 431.45,362.11 431.95,369.23 432.45,365.47 432.95,376.42 433.45,362.53 433.95,376.30 434.45,365.36 434.95,365.53 435.45,362.25 435.95,369.30 436.45,360.01 436.95,369.32 437.45,369.19 437.95,369.22 438.45,362.45 438.95,369.68 439.45,364.86 439.95,369.42 440.45,369.42 440.95,365.45 441.45,369.46 441.95,369.93 442.45,362.62 442.95,369.52 443.45,365.56 443.95,369.28 444.45,362.50 444.95,362.19 445.45,362.19 445.95,369.42 446.45,369.49 446.95,362.44 447.45,369.51 447.95,369.39 448.45,365.46 448.95,365.23 449.45,365.28 449.95,365.58 450.45,369.14 450.95,369.40 451.45,369.09 451.95,369.51 452.45,365.25 452.95,376.19 453.45,365.36 453.95,369.25 454.45,362.40 454.95,365.48 455.45,362.52 455.95,362.52 456.45,369.17 456.95,369.41 457.45,369.50 457.95,369.77 458.45,365.49 458.95,365.43 459.45,365.30 459.95,360.30 460.45,369.66 460.95,362.37 461.45,369.51 461.95,369.46 462.45,365.17 462.95,369.26 463.45,369.61 463.95,376.43 464.45,369.42 464.95,362.40 465.45,369.16 465.95,360.05 466.45,360.05 466.95,361.97 467.45,369.47 467.95,369.52 468.45,365.26 468.95,365.30 469.45,369.16 469.95,365.18 470.45,369.50 470.95,369.45 471.45,369.60 471.95,364.98 472.45,369.18 472.95,362.47 473.45,369.30 473.95,369.14 474.45,369.13 474.95,369.29 475.45,365.33 475.95,365.42 476.45,362.24 476.95,369.05 477.45,369.05 477.95,376.15 478.45,369.45 478.95,365.33 479.45,365.33 479.95,376.30 480.45,376.24 480.95,365.22 481.45,376.34 481.95,365.50 482.45,369.34 482.95,369.29 483.45,362.67 483.95,362.67 484.45,370.12 484.95,369.35 485.45,365.61 485.95,365.22 486.45,365.22 486.95,364.81 487.45,365.45 487.95,369.36 488.45,369.57 488.95,365.52 489.45,365.25 489.95,365.25 490.45,369.30 490.95,369.30 491.45,365.73 491.95,365.73 492.45,362.36 492.95,365.28 493.45,359.66 493.95,369.65 494.45,362.29 494.95,365.26 495.45,369.30 495.95,369.21 496.45,362.60 496.95,365.13 497.45,376.40 497.95,369.53 498.45,365.58 498.95,369.23 499.45,368.94 499.95,368.94 500.45,365.19 500.95,369.49 501.45,365.42 501.95,369.73 502.45,362.65 502.95,362.57 503.45,376.55 503.95,365.04 504.45,365.04 504.95,369.47 505.45,369.30 505.95,365.47 506.45,362.52 506.95,365.12 507.45,369.37 507.95,365.25 508.45,376.29 508.95,369.58 509.45,362.51 509.95,362.51 510.45,365.15 510.95,369.16 511.45,369.29 511.95,365.37 512.45,365.37 512.95,368.93 513.45,365.56 513.95,376.10 514.45,376.10 514.95,369.58 515.45,362.73 515.95,368.87 516.45,365.20 516.95,365.20 517.45,365.23 517.95,365.53 518.45,369.50 518.95,365.06 519.45,369.22 519.95,369.46 520.45,365.26 520.95,369.52 521.45,362.41 521.95,376.35 522.45,365.21 522.95,369.18 523.45,369.18 523.95,365.39 524.45,365.41 524.95,365.49 525.45,365.49 525.95,376.40 526.45,369.15 526.95,376.31 527.45,369.73 527.95,369.38 528.45,365.63 528.95,360.38 529.45,360.30 529.95,365.77 530.45,369.64 530.95,369.51 531.45,362.54 531.95,365.85 532.45,365.85 532.95,359.94 533.45,365.22 533.95,369.50 534.45,369.64 534.95,365.17 535.45,365.17 535.95,362.55 536.45,362.55 536.95,376.44 537.45,369.69 537.95,362.70 538.45,365.49 538.95,365.49 539.45,376.30 539.95,369.21 540.45,369.73 540.95,365.50 541.45,365.50 541.95,365.40 542.45,369.87 542.95,365.13 543.45,362.76 543.95,360.37 544.45,360.37 544.95,369.54 545.45,369.34 545.95,369.39 546.45,369.39 546.95,365.35 547.45,365.35 547.95,369.52 548.45,369.44 548.95,365.06 549.45,362.53 549.95,369.51 550.45,365.28 550.95,365.48 551.45,365.48 551.95,359.87 552.45,365.06 552.95,365.06 553.45,369.57 553.95,369.57 554.45,376.48 554.95,369.07 555.45,369.14 555.95,369.78 556.45,362.31 556.95,369.29 557.45,369.50 557.95,365.44 558.45,365.23 558.95,365.21 559.45,376.09 559.95,369.66 560.45,362.34 560.95,362.34 561.45,369.51 561.95,365.14 562.45,376.21 562.95,365.55 563.45,365.44 563.95,369.18 564.45,369.37 564.95,369.41 565.45,369.12 565.95,369.12 566.45,365.54 566.95,368.87 567.45,369.47 567.95,369.11 568.45,376.29 568.95,365.08 569.45,365.08 569.95,365.58 570.45,369.34 570.95,362.71 571.45,365.64 571.95,362.41 572.45,362.41 572.95,369.48 573.45,369.09 573.95,365.66 574.45,365.42 574.95,363.00 575.45,363.00 575.95,365.26 576.45,369.30 576.95,365.69 577.45,365.26 577.95,369.24 578.45,365.88 578.95,369.50 579.45,365.02 579.95,362.69 580.45,376.44 580.95,369.17 581.45,369.34 581.95,362.42 582.45,369.35 582.95,365.19 583.45,365.39 583.95,365.70 584.45,369.74 584.95,369.56 585.45,365.43 585.95,369.29 586.45,365.39 586.95,362.25 587.45,362.25 587.95,365.42 588.45,365.19 588.95,369.30 589.45,369.35 589.95,368.97 590.45,365.40 590.95,369.61 591.45,362.40 591.95,369.14 592.45,376.21 592.95,362.44 593.45,365.23 593.95,365.23 594.45,376.16 594.95,369.35 595.45,365.14 595.95,369.23 596.45,369.35 596.95,365.23 597.45,369.42 597.95,365.52 598.45,369.26 598.95,365.36 599.45,365.36 599.95,362.62 600.45,365.65 600.95,365.13 601.45,365.34 601.95,365.53 602.45,365.64 602.95,369.42 603.45,365.30 603.95,369.47 604.45,376.34 604.95,369.62 605.45,369.62 605.95,369.23 606.45,369.45 606.95,369.71 607.45,362.21 607.95,375.95 608.45,365.56 608.95,376.46 609.45,365.19 609.95,369.06 610.45,362.55 610.95,360.44 611.45,365.52 611.95,365.52 612.45,362.54 612.95,369.57 613.45,362.39 613.95,365.39 614.45,365.39 614.95,365.38 615.45,365.38 615.95,365.51 616.45,369.17 616.95,365.39 617.45,365.39 617.95,362.29 618.45,365.24 618.95,365.41 619.45,365.12 619.95,362.52 620.45,376.35 620.95,362.53 621.45,376.47 621.95,369.35 622.45,365.36 622.95,369.03 623.45,369.50 623.95,369.43 624.45,369.92 624.95,365.19 625.45,365.53 625.95,369.22 626.45,369.38 626.95,369.48 627.45,365.34 627.95,362.15 628.45,369.46 628.95,365.47 629.45,365.16 629.95,362.43 630.45,369.24 630.95,369.24 631.45,369.46 631.95,369.72 632.45,365.36 632.95,368.94 633.45,360.11 633.95,368.99 634.45,369.21 634.95,369.37 635.45,376.12 635.95,369.41 636.45,376.32 636.95,365.22 637.45,365.36 637.95,369.64 638.45,362.63 638.95,369.59 639.45,369.33 639.95,376.15 640.45,365.52 640.95,376.34 641.45,365.44 641.95,376.37 642.45,362.06 642.95,362.55 643.45,376.08 643.95,376.43 644.45,369.17 644.95,369.35 645.45,376.50 645.95,369.23 646.45,369.13 646.95,362.51 647.45,362.51 647.95,369.42 648.45,365.38 648.95,376.34 649.45,362.46 649.95,365.52 650.45,369.31 650.95,369.58 651.45,369.41 651.95,369.41 652.45,369.69 652.95,362.42 653.45,369.69 653.95,376.52 654.45,369.31 654.95,365.27 655.45,369.12 655.95,369.52 656.45,369.69 656.95,362.30 657.45,365.48 657.95,369.50 658.45,369.74 658.95,365.21 659.45,362.45 659.95,362.45 660.45,362.46 660.95,369.53 661.45,362.72 661.95,365.33 662.45,362.46 662.95,362.46 663.45,376.27 663.95,369.44 664.45,369.83 664.95,369.32 665.45,369.52 665.95,365.04 666.45,365.66 666.95,369.47 667.45,376.23 667.95,369.42 668.45,376.57 668.95,368.78 669.45,362.54 669.95,376.50 670.45,365.47 670.95,376.16 671.45,369.30 671.95,365.24 672.45,369.28 672.95,365.28 673.45,365.42 673.95,365.42 674.45,376.19 674.45,379.20 673.95,379.20 673.45,379.20 672.95,379.20 672.45,379.20 671.95,379.20 671.45,379.20 670.95,379.20 670.45,379.20 669.95,379.20 669.45,379.20 668.95,379.20 668.45,379.20 667.95,379.20 667.45,379.20 666.95,379.20 666.45,379.20 665.95,379.20 665.45,379.20 664.95,379.20 664.45,379.20 663.95,376.59 663.45,379.20 662.95,379.20 662.45,379.20 661.95,379.20 661.45,379.20 660.95,377.03 660.45,379.20 659.95,379.20 659.45,379.20 658.95,379.20 658.45,379.20 657.95,379.20 657.45,376.97 656.95,379.20 656.45,379.20 655.95,376.74 655.45,379.20 654.95,379.20 654.45,379.20 653.95,379.20 653.45,379.20 652.95,379.20 652.45,379.20 651.95,379.20 651.45,379.20 650.95,379.20 650.45,379.20 649.95,379.20 649.45,379.20 648.95,379.20 648.45,379.20 647.95,379.20 647.45,379.20 646.95,379.20 646.45,379.20 645.95,379.20 645.45,379.20 644.95,379.20 644.45,379.20 643.95,379.20 643.45,379.20 642.95,379.20 642.45,379.20 641.95,379.20 641.45,379.20 640.95,379.20 640.45,379.20 639.95,377.05 639.45,379.20 638.95,379.20 638.45,376.57 637.95,379.20 637.45,379.20 636.95,379.20 636.45,379.20 635.95,379.20 635.45,379.20 634.95,379.20 634.45,379.20 633.95,379.20 633.45,379.20 632.95,379.20 632.45,379.20 631.95,379.20 631.45,379.20 630.95,376.52 630.45,379.20 629.95,379.20 629.45,379.20 628.95,379.20 628.45,379.20 627.95,379.20 627.45,379.20 626.95,379.20 626.45,379.20 625.95,379.20 625.45,379.20 624.95,379.20 624.45,379.20 623.95,379.20 623.45,379.20 622.95,379.20 622.45,379.20 621.95,379.20 621.45,379.20 620.95,379.20 620.45,379.20 619.95,379.20 619.45,379.20 618.95,376.58 618.45,379.20 617.95,379.20 617.45,379.20 616.95,379.20 616.45,379.20 615.95,379.20 615.45,379.20 614.95,379.20 614.45,379.20 613.95,379.20 613.45,379.20 612.95,379.20 612.45,379.20 611.95,379.20 611.45,379.20 610.95,379.20 610.45,379.20 609.95,379.20 609.45,376.85 608.95,379.20 608.45,379.20 607.95,376.85 607.45,379.20 606.95,379.20 606.45,379.20 605.95,379.20 605.45,379.20 604.95,379.20 604.45,379.20 603.95,379.20 603.45,376.58 602.95,379.20 602.45,379.20 601.95,379.20 601.45,379.20 600.95,379.20 600.45,379.20 599.95,379.20 599.45,379.20 598.95,379.20 598.45,379.20 597.95,379.20 597.45,379.20 596.95,379.20 596.45,379.20 595.95,376.53 595.45,379.20 594.95,379.20 594.45,379.20 593.95,379.20 593.45,376.54 592.95,379.20 592.45,379.20 591.95,379.20 591.45,379.20 590.95,379.20 590.45,376.87 589.95,379.20 589.45,379.20 588.95,379.20 588.45,379.20 587.95,379.20 587.45,379.20 586.95,379.20 586.45,379.20 585.95,376.77 585.45,379.20 584.95,379.20 584.45,379.20 583.95,379.20 583.45,379.20 582.95,379.20 582.45,376.55 581.95,379.20 581.45,376.52 580.95,376.51 580.45,379.20 579.95,376.65 579.45,379.20 578.95,379.20 578.45,379.20 577.95,379.20 577.45,379.20 576.95,379.20 576.45,379.20 575.95,379.20 575.45,379.20 574.95,379.20 574.45,379.20 573.95,379.20 573.45,379.20 572.95,379.20 572.45,379.20 571.95,379.20 571.45,379.20 570.95,379.20 570.45,379.20 569.95,376.79 569.45,379.20 568.95,376.67 568.45,379.20 567.95,376.69 567.45,379.20 566.95,376.58 566.45,379.20 565.95,379.20 565.45,379.20 564.95,379.20 564.45,379.20 563.95,379.20 563.45,379.20 562.95,379.20 562.45,379.20 561.95,379.20 561.45,379.20 560.95,379.20 560.45,379.20 559.95,379.20 559.45,379.20 558.95,379.20 558.45,379.20 557.95,379.20 557.45,379.20 556.95,379.20 556.45,379.20 555.95,379.20 555.45,379.20 554.95,379.20 554.45,379.20 553.95,379.20 553.45,379.20 552.95,379.20 552.45,379.20 551.95,379.20 551.45,379.20 550.95,379.20 550.45,379.20 549.95,379.20 549.45,379.20 548.95,379.20 548.45,379.20 547.95,379.20 547.45,379.20 546.95,379.20 546.45,379.20 545.95,379.20 545.45,379.20 544.95,379.20 544.45,379.20 543.95,376.59 543.45,379.20 542.95,379.20 542.45,379.20 541.95,377.02 541.45,379.20 540.95,379.20 540.45,379.20 539.95,379.20 539.45,379.20 538.95,379.20 538.45,379.20 537.95,379.20 537.45,379.20 536.95,379.20 536.45,379.20 535.95,379.20 535.45,379.20 534.95,379.20 534.45,379.20 533.95,379.20 533.45,379.20 532.95,379.20 532.45,379.20 531.95,379.20 531.45,379.20 530.95,379.20 530.45,379.20 529.95,379.20 529.45,379.20 528.95,379.20 528.45,379.20 527.95,379.20 527.45,379.20 526.95,379.20 526.45,379.20 525.95,379.20 525.45,379.20 524.95,379.20 524.45,376.62 523.95,379.20 523.45,379.20 522.95,379.20 522.45,379.20 521.95,379.20 521.45,379.20 520.95,379.20 520.45,379.20 519.95,379.20 519.45,379.20 518.95,379.20 518.45,379.20 517.95,379.20 517.45,379.20 516.95,376.64 516.45,379.20 515.95,379.20 515.45,376.93 514.95,379.20 514.45,379.20 513.95,379.20 513.45,379.20 512.95,379.20 512.45,379.20 511.95,379.20 511.45,379.20 510.95,379.20 510.45,379.20 509.95,379.20 509.45,379.20 508.95,379.20 508.45,379.20 507.95,379.20 507.45,379.20 506.95,379.20 506.45,379.20 505.95,379.20 505.45,379.20 504.95,379.20 504.45,376.55 503.95,379.20 503.45,379.20 502.95,379.20 502.45,379.20 501.95,379.20 501.45,379.20 500.95,379.20 500.45,379.20 499.95,379.20 499.45,379.20 498.95,379.20 498.45,379.20 497.95,379.20 497.45,379.20 496.95,379.20 496.45,369.86 495.95,379.20 495.45,379.20 494.95,379.20 494.45,379.20 493.95,379.20 493.45,379.20 492.95,379.20 492.45,379.20 491.95,379.20 491.45,379.20 490.95,379.20 490.45,379.20 489.95,379.20 489.45,379.20 488.95,379.20 488.45,379.20 487.95,379.20 487.45,379.20 486.95,379.20 486.45,376.47 485.95,379.20 485.45,376.30 484.95,379.20 484.45,379.20 483.95,379.20 483.45,379.20 482.95,379.20 482.45,379.20 481.95,379.20 481.45,379.20 480.95,379.20 480.45,379.20 479.95,379.20 479.45,379.20 478.95,379.20 478.45,379.20 477.95,379.20 477.45,379.20 476.95,379.20 476.45,376.54 475.95,379.20 475.45,379.20 474.95,379.20 474.45,379.20 473.95,376.61 473.45,376.71 472.95,379.20 472.45,379.20 471.95,376.56 471.45,379.20 470.95,379.20 470.45,379.20 469.95,379.20 469.45,379.20 468.95,376.85 468.45,379.20 467.95,379.20 467.45,379.20 466.95,376.56 466.45,379.20 465.95,379.20 465.45,379.20 464.95,379.20 464.45,379.20 463.95,379.20 463.45,376.71 462.95,379.20 462.45,379.20 461.95,379.20 461.45,379.20 460.95,379.20 460.45,379.20 459.95,379.20 459.45,379.20 458.95,379.20 458.45,379.20 457.95,379.20 457.45,379.20 456.95,376.31 456.45,379.20 455.95,379.20 455.45,379.20 454.95,379.20 454.45,379.20 453.95,379.20 453.45,379.20 452.95,379.20 452.45,379.20 451.95,379.20 451.45,376.63 450.95,379.20 450.45,379.20 449.95,379.20 449.45,379.20 448.95,379.20 448.45,379.20 447.95,379.20 447.45,379.20 446.95,379.20 446.45,379.20 445.95,379.20 445.45,376.29 444.95,376.77 444.45,379.20 443.95,379.20 443.45,379.20 442.95,379.20 442.45,379.20 441.95,379.20 441.45,379.20 440.95,379.20 440.45,376.82 439.95,379.20 439.45,379.20 438.95,379.20 438.45,379.20 437.95,379.20 437.45,379.20 436.95,379.20 436.45,379.20 435.95,379.20 435.45,379.20 434.95,379.20 434.45,379.20 433.95,379.20 433.45,379.20 432.95,379.20 432.45,379.20 431.95,376.58 431.45,376.39 430.95,379.20 430.45,379.20 429.95,379.20 429.45,379.20 428.95,379.20 428.45,379.20 427.95,379.20 427.45,379.20 426.95,376.72 426.45,379.20 425.95,379.20 425.45,376.71 424.95,379.20 424.45,379.20 423.95,379.20 423.45,379.20 422.95,379.20 422.45,379.20 421.95,379.20 421.45,379.20 420.95,379.20 420.45,379.20 419.95,379.20 419.45,379.20 418.95,376.64 418.45,379.20 417.95,379.20 417.45,379.20 416.95,379.20 416.45,379.20 415.95,379.20 415.45,379.20 414.95,379.20 414.45,379.20 413.95,376.69 413.45,379.20 412.95,379.20 412.45,379.20 411.95,379.20 411.45,379.20 410.95,376.59 410.45,376.41 409.95,379.20 409.45,379.20 408.95,379.20 408.45,376.39 407.95,376.60 407.45,376.46 406.95,376.60 406.45,376.50 405.95,376.35 405.45,362.66" fill="#606060" fill-opacity="1.0"/>
<polyline points="404.20,378.20 404.80,352.00 405.45,358.79" fill="none" stroke="#606060" stroke-width="1.1" stroke-linejoin="round" />
<polygon points="406.85,348.81 407.35,348.46 407.85,349.94 408.35,349.94 408.85,349.76 409.35,350.52 409.85,349.88 410.35,350.71 410.85,350.93 411.35,352.07 411.85,351.72 412.35,352.22 412.85,351.28 413.35,351.75 413.85,351.98 414.35,352.18 414.85,352.41 415.35,350.15 415.85,352.16 416.35,352.46 416.85,351.76 417.35,353.10 417.85,351.97 418.35,352.39 418.85,355.07 419.35,353.35 419.85,351.38 420.35,353.50 420.85,353.91 421.35,354.16 421.85,353.10 422.35,354.00 422.85,354.18 423.35,354.22 423.85,354.66 424.35,352.71 424.85,353.62 425.35,354.29 425.85,353.69 426.35,352.92 426.85,353.80 427.35,352.70 427.85,352.70 428.35,355.04 428.85,355.04 429.35,355.16 429.85,355.13 430.35,354.04 430.85,355.41 431.35,355.35 431.85,353.81 432.35,355.80 432.85,354.20 433.35,355.13 433.85,354.44 434.35,354.64 434.85,354.77 435.35,354.77 435.85,356.40 436.35,356.37 436.85,355.37 437.35,355.91 437.85,354.50 438.35,357.04 438.85,355.01 439.35,356.46 439.85,356.85 440.35,357.63 440.85,355.34 441.35,357.99 441.85,357.78 442.35,357.78 442.85,357.00 443.35,357.25 443.85,356.65 444.35,355.15 444.85,357.43 445.35,358.21 445.85,357.61 446.35,359.49 446.85,358.46 447.35,359.20 447.85,359.46 448.35,359.46 448.85,358.55 449.35,357.77 449.85,358.12 450.35,358.12 450.85,357.73 451.35,359.77 451.85,357.68 452.35,359.18 452.85,360.32 453.35,359.33 453.85,360.07 454.35,360.08 454.85,360.08 455.35,361.53 455.85,362.03 456.35,361.47 456.85,360.04 457.35,360.19 457.85,361.82 458.35,361.65 458.85,362.07 459.35,362.34 459.85,361.83 460.35,361.93 460.85,362.15 461.35,361.59 461.85,361.59 462.35,363.06 462.85,360.13 463.35,363.00 463.85,365.29 464.35,364.63 464.85,362.25 465.35,363.44 465.85,363.87 466.35,363.87 466.85,361.51 467.35,362.74 467.85,363.93 468.35,365.34 468.85,363.81 469.35,363.71 469.85,364.64 470.35,364.94 470.85,364.42 471.35,365.70 471.85,365.76 472.35,365.76 472.85,365.08 473.35,364.29 473.85,365.00 474.35,364.69 474.85,363.67 475.35,365.00 475.85,365.00 476.35,364.65 476.85,365.57 477.35,364.76 477.85,366.72 478.35,364.48 478.85,364.48 479.35,365.40 479.85,365.86 480.35,363.19 480.85,364.30 481.35,367.56 481.85,365.44 482.35,365.34 482.85,366.25 483.35,364.84 483.85,364.63 484.35,365.64 484.85,366.68 485.35,364.81 485.85,365.88 486.35,364.76 486.85,365.73 487.35,363.49 487.85,364.89 488.35,364.92 488.85,365.44 489.35,366.86 489.85,365.29 490.35,364.47 490.85,364.15 491.35,366.75 491.85,365.08 492.35,366.30 492.85,365.55 493.35,365.13 493.85,363.78 494.35,366.40 494.85,366.05 495.35,365.98 495.85,366.35 496.35,366.87 496.85,365.85 497.35,367.39 497.85,365.99 498.35,366.28 498.85,364.40 499.35,363.72 499.85,365.82 500.35,365.96 500.85,366.42 501.35,365.53 501.85,362.25 502.35,366.20 502.85,367.45 503.35,365.68 503.85,364.76 504.35,365.70 504.85,365.55 505.35,365.55 505.85,365.79 506.35,365.50 506.85,366.23 507.35,366.31 507.85,365.60 508.35,366.84 508.85,365.19 509.35,364.56 509.85,367.19 510.35,363.22 510.85,366.16 511.35,367.20 511.85,366.17 512.35,364.83 512.85,368.44 513.35,365.29 513.85,366.44 514.35,366.07 514.85,365.67 515.35,366.89 515.85,366.88 516.35,365.25 516.85,366.86 517.35,365.41 517.85,364.92 518.35,367.03 518.85,367.33 519.35,366.74 519.85,366.03 520.35,364.34 520.85,365.81 521.35,365.81 521.85,367.19 522.35,365.35 522.85,368.58 523.35,365.19 523.85,366.10 524.35,366.65 524.85,366.23 525.35,366.91 525.85,367.03 526.35,363.63 526.85,367.53 527.35,367.41 527.85,368.22 528.35,365.00 528.85,365.62 529.35,366.82 529.85,366.86 530.35,365.38 530.85,364.96 531.35,365.45 531.85,368.05 532.35,365.35 532.85,366.08 533.35,365.84 533.85,365.84 534.35,366.81 534.85,366.60 535.35,367.51 535.85,364.72 536.35,367.88 536.85,366.75 537.35,367.41 537.85,367.56 538.35,367.25 538.85,364.17 539.35,365.57 539.85,366.78 540.35,367.30 540.85,366.20 541.35,366.70 541.85,367.45 542.35,364.24 542.85,367.19 543.35,363.36 543.85,366.76 544.35,367.17 544.85,366.46 545.35,367.00 545.85,367.46 546.35,367.59 546.85,366.37 547.35,366.88 547.85,366.58 548.35,367.52 548.85,367.86 549.35,365.51 549.85,365.21 550.35,368.02 550.85,369.20 551.35,364.87 551.85,367.42 552.35,365.21 552.85,363.88 553.35,366.88 553.85,367.33 554.35,367.06 554.85,367.35 555.35,365.66 555.85,367.06 556.35,368.38 556.85,367.90 557.35,365.81 557.85,367.18 558.35,370.15 558.85,367.70 559.35,367.64 559.85,367.15 560.35,367.95 560.85,367.47 561.35,366.22 561.85,367.19 562.35,365.97 562.85,365.85 563.35,366.80 563.85,368.76 564.35,366.83 564.85,367.55 565.35,367.72 565.85,368.11 566.35,367.43 566.85,366.92 567.35,364.52 567.85,368.14 568.35,366.49 568.85,366.16 569.35,366.01 569.85,366.86 570.35,365.89 570.85,368.21 571.35,365.04 571.85,368.19 572.35,363.78 572.85,368.23 573.35,365.40 573.85,365.40 574.35,366.85 574.85,367.78 575.35,366.40 575.85,366.68 576.35,366.11 576.85,367.15 577.35,367.82 577.85,367.82 578.35,366.17 578.85,366.45 579.35,364.55 579.85,364.25 580.35,366.31 580.85,367.03 581.35,366.20 581.85,366.93 582.35,365.36 582.85,367.51 583.35,365.39 583.85,367.50 584.35,367.50 584.85,366.38 585.35,365.32 585.85,366.80 586.35,365.05 586.85,365.90 587.35,366.15 587.85,368.51 588.35,367.15 588.85,365.45 589.35,368.74 589.85,365.85 590.35,367.84 590.85,365.78 591.35,367.52 591.85,363.89 592.35,367.47 592.85,367.33 593.35,366.01 593.85,366.34 594.35,366.94 594.85,366.90 595.35,367.67 595.85,367.78 596.35,367.27 596.85,366.35 597.35,368.34 597.85,365.99 598.35,366.38 598.85,367.00 599.35,367.78 599.85,365.76 600.35,366.64 600.85,366.88 601.35,368.23 601.85,367.61 602.35,370.22 602.85,366.45 603.35,365.64 603.85,366.85 604.35,367.03 604.85,368.34 605.35,368.62 605.85,367.80 606.35,366.29 606.85,366.81 607.35,366.97 607.85,368.15 608.35,368.75 608.85,367.43 609.35,367.99 609.85,368.92 610.35,367.56 610.85,369.91 611.35,368.91 611.85,367.36 612.35,367.34 612.85,366.93 613.35,367.07 613.85,367.57 614.35,368.28 614.85,368.00 615.35,367.22 615.85,369.45 616.35,368.63 616.85,367.56 617.35,367.43 617.85,367.57 618.35,367.97 618.85,366.40 619.35,366.32 619.85,367.07 620.35,367.87 620.85,365.83 621.35,366.53 621.85,365.70 622.35,367.81 622.85,368.65 623.35,367.53 623.85,366.76 624.35,366.09 624.85,366.63 625.35,366.43 625.85,368.56 626.35,367.67 626.85,368.79 627.35,367.78 627.85,367.75 628.35,368.66 628.85,368.60 629.35,365.57 629.85,366.51 630.35,368.26 630.85,367.12 631.35,364.88 631.85,366.98 632.35,365.78 632.85,369.12 633.35,367.91 633.85,369.65 634.35,367.83 634.85,366.75 635.35,368.31 635.85,366.98 636.35,369.74 636.85,365.95 637.35,367.63 637.85,365.68 638.35,368.22 638.85,367.17 639.35,363.93 639.85,364.99 640.35,364.49 640.85,367.82 641.35,367.97 641.85,367.78 642.35,367.17 642.85,367.42 643.35,366.95 643.85,365.94 644.35,367.43 644.85,367.54 645.35,365.33 645.85,368.10 646.35,368.36 646.85,367.50 647.35,367.62 647.85,367.35 648.35,367.34 648.85,365.22 649.35,367.61 649.85,366.46 650.35,367.06 650.85,365.58 651.35,365.62 651.85,366.55 652.35,366.58 652.85,367.21 653.35,369.42 653.85,368.41 654.35,367.96 654.85,367.19 655.35,368.52 655.85,367.62 656.35,364.39 656.85,368.85 657.35,368.49 657.85,369.39 658.35,368.25 658.85,368.25 659.35,364.86 659.85,364.18 660.35,367.46 660.85,367.46 661.35,368.69 661.85,369.26 662.35,365.64 662.85,367.14 663.35,366.08 663.85,368.99 664.35,369.49 664.85,366.25 665.35,367.92 665.85,366.46 666.35,366.16 666.85,367.99 667.35,366.30 667.85,367.77 668.35,369.67 668.85,366.46 669.35,367.98 669.85,367.99 670.35,368.12 670.85,369.27 671.35,367.43 671.85,367.79 672.35,367.49 672.85,368.74 673.35,369.49 673.85,367.18 674.35,366.29 674.35,373.26 673.85,378.49 673.35,379.20 672.85,376.43 672.35,376.87 671.85,376.67 671.35,377.12 670.85,377.12 670.35,373.88 669.85,378.24 669.35,376.33 668.85,379.20 668.35,377.97 667.85,376.01 667.35,375.88 666.85,375.37 666.35,375.02 665.85,375.02 665.35,374.77 664.85,376.22 664.35,375.84 663.85,376.83 663.35,375.27 662.85,375.35 662.35,372.95 661.85,376.31 661.35,375.81 660.85,375.17 660.35,379.20 659.85,374.18 659.35,376.16 658.85,373.06 658.35,377.51 657.85,379.20 657.35,372.37 656.85,377.98 656.35,372.83 655.85,375.25 655.35,374.29 654.85,374.85 654.35,375.85 653.85,372.91 653.35,376.06 652.85,374.68 652.35,375.92 651.85,374.89 651.35,374.52 650.85,372.63 650.35,377.67 649.85,377.67 649.35,373.15 648.85,375.55 648.35,375.55 647.85,374.93 647.35,374.82 646.85,377.72 646.35,377.67 645.85,375.30 645.35,374.68 644.85,379.20 644.35,377.55 643.85,376.08 643.35,375.98 642.85,374.82 642.35,376.21 641.85,373.55 641.35,376.43 640.85,376.20 640.35,375.69 639.85,375.76 639.35,379.20 638.85,377.35 638.35,376.41 637.85,377.32 637.35,376.85 636.85,373.83 636.35,373.65 635.85,379.20 635.35,379.20 634.85,374.62 634.35,379.20 633.85,379.20 633.35,378.03 632.85,375.86 632.35,376.29 631.85,377.54 631.35,375.88 630.85,377.41 630.35,376.08 629.85,376.80 629.35,375.00 628.85,379.20 628.35,379.20 627.85,376.41 627.35,373.83 626.85,375.18 626.35,376.14 625.85,373.86 625.35,374.48 624.85,376.10 624.35,376.40 623.85,377.46 623.35,373.34 622.85,377.67 622.35,379.20 621.85,376.01 621.35,374.37 620.85,375.21 620.35,377.59 619.85,375.48 619.35,379.20 618.85,373.39 618.35,373.91 617.85,374.32 617.35,378.41 616.85,379.20 616.35,377.92 615.85,375.42 615.35,372.99 614.85,374.99 614.35,378.86 613.85,377.53 613.35,377.25 612.85,376.72 612.35,376.35 611.85,377.97 611.35,376.54 610.85,379.20 610.35,375.70 609.85,379.02 609.35,375.46 608.85,377.16 608.35,377.56 607.85,377.56 607.35,376.84 606.85,376.48 606.35,377.79 605.85,376.52 605.35,376.83 604.85,376.02 604.35,375.62 603.85,376.57 603.35,376.99 602.85,376.99 602.35,377.58 601.85,377.21 601.35,379.17 600.85,375.87 600.35,376.45 599.85,374.30 599.35,373.44 598.85,379.20 598.35,377.68 597.85,370.81 597.35,377.09 596.85,376.13 596.35,377.12 595.85,375.71 595.35,373.33 594.85,371.96 594.35,375.26 593.85,375.76 593.35,378.20 592.85,377.96 592.35,375.69 591.85,375.69 591.35,373.63 590.85,375.45 590.35,379.20 589.85,374.98 589.35,379.20 588.85,374.51 588.35,375.64 587.85,375.37 587.35,375.51 586.85,377.44 586.35,376.73 585.85,376.73 585.35,373.35 584.85,376.72 584.35,373.11 583.85,378.10 583.35,377.11 582.85,376.24 582.35,373.18 581.85,376.03 581.35,379.20 580.85,375.31 580.35,375.68 579.85,379.20 579.35,375.90 578.85,374.52 578.35,377.43 577.85,374.10 577.35,377.32 576.85,373.52 576.35,379.20 575.85,379.20 575.35,373.60 574.85,373.85 574.35,372.85 573.85,376.83 573.35,377.56 572.85,374.73 572.35,375.26 571.85,373.44 571.35,373.66 570.85,376.55 570.35,376.47 569.85,379.20 569.35,376.03 568.85,378.41 568.35,373.89 567.85,374.45 567.35,374.45 566.85,376.80 566.35,374.22 565.85,374.19 565.35,373.58 564.85,376.76 564.35,375.95 563.85,376.40 563.35,372.65 562.85,373.68 562.35,374.03 561.85,375.66 561.35,372.82 560.85,375.66 560.35,375.66 559.85,373.67 559.35,373.35 558.85,378.00 558.35,378.00 557.85,379.20 557.35,375.25 556.85,376.65 556.35,377.67 555.85,375.36 555.35,376.98 554.85,375.20 554.35,375.20 553.85,376.01 553.35,379.20 552.85,374.45 552.35,374.92 551.85,374.92 551.35,373.34 550.85,378.09 550.35,374.59 549.85,378.30 549.35,373.48 548.85,373.24 548.35,374.67 547.85,374.09 547.35,375.70 546.85,373.44 546.35,377.16 545.85,376.78 545.35,372.48 544.85,375.71 544.35,373.17 543.85,375.36 543.35,374.18 542.85,379.20 542.35,372.26 541.85,375.82 541.35,374.43 540.85,379.20 540.35,379.20 539.85,373.90 539.35,374.38 538.85,375.10 538.35,378.82 537.85,373.84 537.35,374.13 536.85,373.94 536.35,373.57 535.85,372.99 535.35,377.07 534.85,374.79 534.35,378.20 533.85,378.20 533.35,372.51 532.85,374.52 532.35,375.98 531.85,379.20 531.35,375.87 530.85,376.82 530.35,376.90 529.85,376.90 529.35,379.20 528.85,379.20 528.35,378.04 527.85,375.20 527.35,373.37 526.85,376.40 526.35,374.64 525.85,373.30 525.35,373.55 524.85,374.76 524.35,374.76 523.85,374.16 523.35,373.14 522.85,373.70 522.35,376.68 521.85,376.68 521.35,375.96 520.85,373.53 520.35,374.66 519.85,374.82 519.35,373.10 518.85,374.33 518.35,373.60 517.85,378.13 517.35,372.43 516.85,376.44 516.35,374.95 515.85,377.53 515.35,377.90 514.85,373.99 514.35,373.99 513.85,375.55 513.35,374.21 512.85,375.56 512.35,373.87 511.85,373.11 511.35,373.25 510.85,374.68 510.35,376.19 509.85,372.35 509.35,370.70 508.85,374.22 508.35,373.80 507.85,375.85 507.35,379.20 506.85,373.14 506.35,374.81 505.85,373.42 505.35,372.91 504.85,375.16 504.35,377.93 503.85,372.32 503.35,372.13 502.85,371.43 502.35,373.91 501.85,379.20 501.35,373.80 500.85,372.80 500.35,376.34 499.85,377.46 499.35,372.89 498.85,374.76 498.35,373.32 497.85,373.32 497.35,372.42 496.85,372.21 496.35,376.64 495.85,376.64 495.35,375.26 494.85,373.48 494.35,373.48 493.85,371.51 493.35,375.99 492.85,375.99 492.35,377.32 491.85,372.91 491.35,372.85 490.85,373.72 490.35,374.81 489.85,372.74 489.35,373.15 488.85,375.16 488.35,375.06 487.85,373.40 487.35,373.85 486.85,372.17 486.35,371.70 485.85,372.54 485.35,372.79 484.85,372.38 484.35,370.96 483.85,373.35 483.35,371.84 482.85,370.74 482.35,374.62 481.85,379.20 481.35,379.20 480.85,374.40 480.35,374.05 479.85,369.98 479.35,374.46 478.85,376.40 478.35,373.25 477.85,371.30 477.35,370.69 476.85,375.00 476.35,373.56 475.85,378.07 475.35,373.40 474.85,373.40 474.35,371.63 473.85,372.83 473.35,374.64 472.85,374.64 472.35,373.19 471.85,371.29 471.35,374.33 470.85,370.12 470.35,372.13 469.85,372.13 469.35,370.02 468.85,371.88 468.35,371.03 467.85,372.95 467.35,371.28 466.85,371.89 466.35,369.16 465.85,370.21 465.35,375.77 464.85,371.62 464.35,374.42 463.85,369.42 463.35,369.20 462.85,367.88 462.35,367.70 461.85,368.60 461.35,367.27 460.85,371.67 460.35,367.74 459.85,367.66 459.35,367.61 458.85,367.80 458.35,367.87 457.85,366.99 457.35,367.54 456.85,368.35 456.35,368.57 455.85,366.77 455.35,366.64 454.85,366.78 454.35,368.15 453.85,365.01 453.35,365.04 452.85,368.48 452.35,366.13 451.85,365.49 451.35,364.55 450.85,363.45 450.35,363.30 449.85,363.45 449.35,365.86 448.85,362.62 448.35,366.85 447.85,365.14 447.35,362.31 446.85,363.83 446.35,365.72 445.85,363.06 445.35,361.87 444.85,362.57 444.35,363.81 443.85,361.14 443.35,361.90 442.85,362.80 442.35,362.12 441.85,361.03 441.35,361.61 440.85,361.13 440.35,361.08 439.85,361.02 439.35,361.00 438.85,360.07 438.35,361.13 437.85,361.13 437.35,360.62 436.85,361.28 436.35,360.18 435.85,358.96 435.35,358.52 434.85,358.98 434.35,359.91 433.85,359.57 433.35,359.58 432.85,361.55 432.35,360.03 431.85,359.62 431.35,357.78 430.85,359.66 430.35,359.73 429.85,358.75 429.35,357.70 428.85,357.63 428.35,359.15 427.85,358.25 427.35,358.16 426.85,359.29 426.35,358.39 425.85,357.76 425.35,358.21 424.85,362.43 424.35,357.20 423.85,358.23 423.35,358.63 422.85,357.25 422.35,358.36 421.85,357.44 421.35,357.92 420.85,357.43 420.35,357.41 419.85,357.24 419.35,356.69 418.85,357.23 418.35,357.93 417.85,356.72 417.35,359.48 416.85,356.61 416.35,356.17 415.85,355.23 415.35,357.01 414.85,356.33 414.35,355.54 413.85,356.24 413.35,357.85 412.85,357.12 412.35,354.60 411.85,354.44 411.35,354.87 410.85,354.63 410.35,356.00 409.85,353.17 409.35,354.86 408.85,353.72 408.35,354.21 407.85,352.66 407.35,352.70 406.85,352.49" fill="#2d962d" fill-opacity="1.0"/>
<polyline points="403.90,378.20 404.40,335.00 404.80,324.50 405.60,340.00 406.85,350.65" fill="none" stroke="#2d962d" stroke-width="1.1" stroke-linejoin="round" />
<polygon points="405.85,305.77 406.35,306.50 406.85,306.14 407.35,305.81 407.85,305.91 408.35,307.04 408.85,308.20 409.35,308.35 409.85,309.54 410.35,310.04 410.85,309.99 411.35,310.26 411.85,311.53 412.35,310.90 412.85,312.96 413.35,312.56 413.85,313.52 414.35,314.34 414.85,313.98 415.35,313.98 415.85,314.19 416.35,314.91 416.85,315.35 417.35,316.58 417.85,316.72 418.35,317.69 418.85,317.67 419.35,317.63 419.85,317.72 420.35,318.21 420.85,318.82 421.35,318.82 421.85,320.89 422.35,320.33 422.85,320.49 423.35,322.20 423.85,321.74 424.35,322.74 424.85,322.26 425.35,323.28 425.85,323.83 426.35,323.99 426.85,323.99 427.35,323.66 427.85,325.16 428.35,326.32 428.85,326.27 429.35,326.51 429.85,327.18 430.35,327.13 430.85,328.57 431.35,328.57 431.85,328.81 432.35,329.61 432.85,330.02 433.35,330.59 433.85,329.99 434.35,330.93 434.85,331.07 435.35,332.83 435.85,332.71 436.35,333.29 436.85,333.80 437.35,333.24 437.85,332.79 438.35,335.14 438.85,335.06 439.35,335.06 439.85,337.02 440.35,336.35 440.85,336.90 441.35,334.73 441.85,335.43 442.35,337.34 442.85,339.52 443.35,338.13 443.85,338.13 444.35,340.75 444.85,339.47 445.35,338.53 445.85,340.18 446.35,342.37 446.85,340.46 447.35,341.92 447.85,341.16 448.35,340.03 448.85,340.03 449.35,342.66 449.85,344.43 450.35,340.22 450.85,343.56 451.35,344.10 451.85,340.67 452.35,342.63 452.85,343.28 453.35,346.07 453.85,343.26 454.35,347.04 454.85,346.33 455.35,345.47 455.85,345.47 456.35,347.68 456.85,349.35 457.35,347.75 457.85,347.01 458.35,348.18 458.85,348.27 459.35,346.81 459.85,347.55 460.35,350.67 460.85,347.29 461.35,347.29 461.85,351.88 462.35,348.47 462.85,347.78 463.35,351.05 463.85,351.17 464.35,353.93 464.85,350.13 465.35,349.17 465.85,350.55 466.35,351.55 466.85,352.73 467.35,353.74 467.85,350.90 468.35,354.48 468.85,354.76 469.35,349.00 469.85,350.22 470.35,351.70 470.85,351.70 471.35,354.93 471.85,354.47 472.35,352.14 472.85,354.61 473.35,353.34 473.85,356.82 474.35,356.52 474.85,352.26 475.35,352.26 475.85,355.12 476.35,352.72 476.85,355.04 477.35,355.32 477.85,357.81 478.35,355.28 478.85,357.84 479.35,356.22 479.85,356.65 480.35,355.36 480.85,354.60 481.35,354.83 481.85,354.80 482.35,356.77 482.85,357.30 483.35,355.75 483.85,358.79 484.35,357.25 484.85,356.98 485.35,356.98 485.85,358.54 486.35,353.71 486.85,358.58 487.35,355.04 487.85,355.04 488.35,358.78 488.85,354.80 489.35,355.33 489.85,356.21 490.35,358.78 490.85,359.83 491.35,359.83 491.85,356.37 492.35,356.37 492.85,355.79 493.35,359.75 493.85,356.24 494.35,361.41 494.85,360.92 495.35,360.58 495.85,358.28 496.35,357.57 496.85,357.71 497.35,362.80 497.85,359.71 498.35,358.81 498.85,362.07 499.35,357.79 499.85,362.57 500.35,360.45 500.85,358.98 501.35,360.82 501.85,358.78 502.35,357.16 502.85,356.21 503.35,357.56 503.85,357.69 504.35,355.49 504.85,355.49 505.35,361.75 505.85,361.31 506.35,361.31 506.85,359.82 507.35,357.18 507.85,355.87 508.35,362.64 508.85,359.37 509.35,359.80 509.85,352.63 510.35,358.17 510.85,357.22 511.35,355.23 511.85,365.25 512.35,357.50 512.85,361.85 513.35,358.45 513.85,361.80 514.35,358.53 514.85,362.51 515.35,358.69 515.85,357.97 516.35,357.97 516.85,359.31 517.35,357.81 517.85,359.32 518.35,362.49 518.85,358.38 519.35,360.65 519.85,357.74 520.35,355.49 520.85,358.77 521.35,358.99 521.85,356.98 522.35,359.91 522.85,354.82 523.35,360.44 523.85,358.18 524.35,364.22 524.85,357.68 525.35,360.20 525.85,359.63 526.35,361.55 526.85,359.43 527.35,359.16 527.85,356.14 528.35,354.82 528.85,354.70 529.35,362.26 529.85,364.89 530.35,361.99 530.85,353.48 531.35,359.96 531.85,359.24 532.35,358.74 532.85,355.43 533.35,357.04 533.85,357.42 534.35,359.59 534.85,359.12 535.35,360.41 535.85,357.98 536.35,357.49 536.85,359.19 537.35,361.31 537.85,354.93 538.35,358.17 538.85,357.44 539.35,358.88 539.85,358.42 540.35,361.45 540.85,366.39 541.35,355.48 541.85,358.28 542.35,355.82 542.85,359.04 543.35,359.94 543.85,362.13 544.35,358.08 544.85,357.29 545.35,359.85 545.85,357.11 546.35,358.50 546.85,358.04 547.35,359.59 547.85,355.83 548.35,358.02 548.85,360.48 549.35,359.90 549.85,356.85 550.35,364.14 550.85,358.13 551.35,361.82 551.85,359.40 552.35,357.44 552.85,364.51 553.35,358.69 553.85,355.43 554.35,360.14 554.85,358.36 555.35,356.99 555.85,358.70 556.35,365.08 556.85,356.42 557.35,362.49 557.85,352.72 558.35,362.65 558.85,358.87 559.35,356.22 559.85,358.62 560.35,355.40 560.85,357.37 561.35,355.85 561.85,358.82 562.35,364.41 562.85,360.16 563.35,362.85 563.85,357.64 564.35,357.64 564.85,359.75 565.35,356.81 565.85,358.91 566.35,357.30 566.85,359.41 567.35,354.56 567.85,356.96 568.35,363.10 568.85,358.97 569.35,360.09 569.85,355.87 570.35,355.87 570.85,358.48 571.35,361.58 571.85,362.01 572.35,359.49 572.85,362.19 573.35,358.22 573.85,358.60 574.35,358.60 574.85,356.72 575.35,356.03 575.85,357.17 576.35,360.86 576.85,359.15 577.35,359.13 577.85,354.81 578.35,361.22 578.85,360.17 579.35,361.48 579.85,359.50 580.35,358.27 580.85,359.40 581.35,359.46 581.85,359.46 582.35,355.81 582.85,358.93 583.35,360.80 583.85,357.21 584.35,360.46 584.85,361.96 585.35,353.86 585.85,357.35 586.35,359.48 586.85,359.36 587.35,362.32 587.85,359.21 588.35,355.45 588.85,358.34 589.35,358.99 589.85,359.18 590.35,360.34 590.85,362.08 591.35,353.81 591.85,358.53 592.35,355.65 592.85,364.57 593.35,356.56 593.85,358.26 594.35,358.38 594.85,358.38 595.35,357.30 595.85,360.14 596.35,361.93 596.85,355.82 597.35,357.78 597.85,357.78 598.35,359.03 598.85,358.18 599.35,359.17 599.85,357.07 600.35,356.91 600.85,359.20 601.35,358.45 601.85,356.40 602.35,359.80 602.85,357.56 603.35,359.15 603.85,359.61 604.35,361.88 604.85,360.10 605.35,363.32 605.85,357.79 606.35,356.13 606.85,364.37 607.35,362.57 607.85,362.24 608.35,358.87 608.85,356.01 609.35,358.29 609.85,359.43 610.35,356.15 610.85,357.64 611.35,356.86 611.85,357.30 612.35,361.12 612.85,360.37 613.35,356.75 613.85,362.63 614.35,357.16 614.85,360.43 615.35,360.71 615.85,360.62 616.35,357.39 616.85,361.15 617.35,360.68 617.85,355.00 618.35,355.00 618.85,358.11 619.35,356.80 619.85,357.26 620.35,362.75 620.85,365.86 621.35,354.24 621.85,359.89 622.35,363.59 622.85,364.01 623.35,359.94 623.85,359.61 624.35,358.36 624.85,363.14 625.35,357.14 625.85,355.51 626.35,358.44 626.85,361.64 627.35,359.70 627.85,357.47 628.35,363.75 628.85,361.28 629.35,363.05 629.85,357.38 630.35,362.02 630.85,360.53 631.35,361.06 631.85,358.41 632.35,357.34 632.85,355.47 633.35,355.05 633.85,355.05 634.35,362.15 634.85,360.73 635.35,358.10 635.85,362.77 636.35,359.22 636.85,365.95 637.35,360.98 637.85,361.31 638.35,364.92 638.85,364.76 639.35,353.46 639.85,360.81 640.35,352.66 640.85,357.80 641.35,363.84 641.85,359.71 642.35,357.61 642.85,356.18 643.35,356.66 643.85,356.05 644.35,359.03 644.85,357.21 645.35,360.56 645.85,356.25 646.35,359.53 646.85,358.18 647.35,360.49 647.85,354.62 648.35,358.03 648.85,357.91 649.35,360.65 649.85,362.30 650.35,355.56 650.85,359.65 651.35,357.73 651.85,361.20 652.35,363.32 652.85,358.92 653.35,361.67 653.85,361.96 654.35,365.51 654.85,357.12 655.35,361.70 655.85,355.63 656.35,360.17 656.85,355.91 657.35,358.03 657.85,358.25 658.35,358.82 658.85,358.73 659.35,362.59 659.85,362.97 660.35,361.33 660.85,360.17 661.35,359.58 661.85,361.71 662.35,356.92 662.85,357.79 663.35,360.09 663.85,355.42 664.35,360.30 664.85,356.84 665.35,358.57 665.85,357.59 666.35,357.90 666.85,358.79 667.35,358.09 667.85,358.37 668.35,358.34 668.85,358.34 669.35,361.42 669.85,361.36 670.35,356.63 670.85,360.23 671.35,358.47 671.85,360.74 672.35,360.74 672.85,358.63 673.35,359.06 673.85,361.59 674.35,359.74 674.35,379.20 673.85,379.20 673.35,379.20 672.85,379.20 672.35,379.20 671.85,379.20 671.35,379.20 670.85,379.20 670.35,379.20 669.85,379.20 669.35,379.20 668.85,379.20 668.35,379.20 667.85,379.20 667.35,379.20 666.85,379.20 666.35,379.20 665.85,379.20 665.35,379.20 664.85,379.20 664.35,379.20 663.85,379.20 663.35,379.20 662.85,379.20 662.35,379.20 661.85,379.20 661.35,379.20 660.85,379.20 660.35,379.20 659.85,379.20 659.35,379.20 658.85,379.20 658.35,379.20 657.85,379.20 657.35,379.20 656.85,379.20 656.35,379.20 655.85,379.20 655.35,379.20 654.85,379.20 654.35,379.20 653.85,379.20 653.35,379.20 652.85,379.20 652.35,379.20 651.85,379.20 651.35,379.20 650.85,379.20 650.35,379.20 649.85,379.20 649.35,379.20 648.85,379.20 648.35,379.20 647.85,379.20 647.35,379.20 646.85,379.20 646.35,379.20 645.85,379.20 645.35,379.20 644.85,379.20 644.35,379.20 643.85,379.20 643.35,379.20 642.85,379.20 642.35,379.20 641.85,379.20 641.35,379.20 640.85,379.20 640.35,379.20 639.85,379.20 639.35,379.20 638.85,379.20 638.35,379.20 637.85,379.20 637.35,379.20 636.85,379.20 636.35,379.20 635.85,379.20 635.35,379.20 634.85,379.20 634.35,379.20 633.85,379.20 633.35,379.20 632.85,379.20 632.35,379.20 631.85,379.20 631.35,379.20 630.85,379.20 630.35,379.20 629.85,379.20 629.35,379.20 628.85,379.20 628.35,378.35 627.85,379.20 627.35,379.20 626.85,379.20 626.35,379.20 625.85,379.20 625.35,379.20 624.85,379.20 624.35,379.20 623.85,379.20 623.35,379.20 622.85,379.20 622.35,379.20 621.85,379.20 621.35,379.20 620.85,379.20 620.35,379.20 619.85,379.20 619.35,379.20 618.85,379.20 618.35,379.20 617.85,379.20 617.35,379.20 616.85,379.20 616.35,379.20 615.85,379.20 615.35,379.20 614.85,379.20 614.35,379.20 613.85,379.20 613.35,379.20 612.85,379.20 612.35,379.20 611.85,379.20 611.35,379.20 610.85,379.20 610.35,379.20 609.85,379.20 609.35,379.20 608.85,379.20 608.35,379.20 607.85,379.20 607.35,379.20 606.85,379.20 606.35,379.20 605.85,379.20 605.35,379.20 604.85,379.20 604.35,379.20 603.85,379.20 603.35,379.20 602.85,379.20 602.35,379.20 601.85,379.20 601.35,379.20 600.85,379.20 600.35,376.83 599.85,370.39 599.35,379.20 598.85,379.20 598.35,379.20 597.85,379.20 597.35,379.20 596.85,379.20 596.35,379.20 595.85,379.20 595.35,379.20 594.85,379.20 594.35,379.20 593.85,379.20 593.35,379.20 592.85,379.20 592.35,379.20 591.85,379.20 591.35,379.20 590.85,379.20 590.35,379.20 589.85,379.20 589.35,379.20 588.85,379.20 588.35,379.20 587.85,379.20 587.35,379.20 586.85,379.20 586.35,379.20 585.85,379.20 585.35,379.20 584.85,379.20 584.35,379.20 583.85,379.20 583.35,379.20 582.85,379.20 582.35,379.20 581.85,379.20 581.35,379.20 580.85,379.20 580.35,378.07 579.85,379.20 579.35,379.20 578.85,379.20 578.35,379.20 577.85,379.20 577.35,379.20 576.85,379.20 576.35,379.20 575.85,379.20 575.35,379.20 574.85,379.20 574.35,379.20 573.85,379.20 573.35,379.20 572.85,379.20 572.35,379.20 571.85,379.20 571.35,379.20 570.85,379.20 570.35,379.20 569.85,379.20 569.35,379.20 568.85,379.20 568.35,379.20 567.85,379.20 567.35,379.20 566.85,379.20 566.35,379.20 565.85,379.20 565.35,379.20 564.85,379.20 564.35,379.20 563.85,379.20 563.35,379.20 562.85,379.20 562.35,379.20 561.85,379.20 561.35,379.20 560.85,379.20 560.35,379.20 559.85,379.20 559.35,379.20 558.85,379.20 558.35,379.20 557.85,379.20 557.35,379.20 556.85,379.20 556.35,379.20 555.85,379.20 555.35,379.20 554.85,379.20 554.35,379.20 553.85,379.20 553.35,379.20 552.85,379.20 552.35,379.20 551.85,379.20 551.35,379.20 550.85,379.20 550.35,379.20 549.85,379.20 549.35,379.20 548.85,379.20 548.35,379.20 547.85,379.20 547.35,379.20 546.85,379.20 546.35,379.20 545.85,379.20 545.35,379.20 544.85,379.20 544.35,379.20 543.85,379.20 543.35,379.20 542.85,379.20 542.35,379.20 541.85,379.20 541.35,379.20 540.85,379.20 540.35,379.20 539.85,379.20 539.35,379.20 538.85,379.20 538.35,379.20 537.85,379.20 537.35,379.20 536.85,379.20 536.35,379.20 535.85,377.23 535.35,379.20 534.85,377.86 534.35,379.20 533.85,379.20 533.35,377.31 532.85,379.20 532.35,379.20 531.85,379.20 531.35,376.96 530.85,379.20 530.35,379.20 529.85,379.20 529.35,379.20 528.85,379.20 528.35,379.20 527.85,379.20 527.35,379.20 526.85,379.20 526.35,379.20 525.85,379.20 525.35,379.20 524.85,369.75 524.35,379.20 523.85,379.20 523.35,379.20 522.85,379.20 522.35,379.20 521.85,379.20 521.35,379.20 520.85,379.20 520.35,379.20 519.85,379.20 519.35,379.20 518.85,379.20 518.35,379.20 517.85,379.20 517.35,379.20 516.85,379.20 516.35,379.20 515.85,379.20 515.35,379.20 514.85,379.20 514.35,379.20 513.85,379.20 513.35,379.20 512.85,379.20 512.35,379.20 511.85,379.20 511.35,379.20 510.85,379.20 510.35,379.20 509.85,379.20 509.35,379.20 508.85,379.20 508.35,379.20 507.85,379.20 507.35,379.20 506.85,379.20 506.35,379.20 505.85,379.20 505.35,379.20 504.85,379.20 504.35,379.20 503.85,379.20 503.35,379.20 502.85,379.20 502.35,379.20 501.85,379.20 501.35,379.20 500.85,379.20 500.35,379.20 499.85,379.20 499.35,379.20 498.85,379.20 498.35,379.20 497.85,379.20 497.35,379.20 496.85,379.20 496.35,379.20 495.85,379.20 495.35,379.20 494.85,379.20 494.35,379.20 493.85,379.20 493.35,379.20 492.85,379.20 492.35,379.20 491.85,379.20 491.35,379.20 490.85,376.47 490.35,379.20 489.85,379.20 489.35,379.20 488.85,379.20 488.35,379.20 487.85,379.20 487.35,379.20 486.85,379.20 486.35,379.20 485.85,379.20 485.35,379.20 484.85,377.67 484.35,379.20 483.85,369.51 483.35,379.20 482.85,379.20 482.35,367.50 481.85,379.20 481.35,376.64 480.85,379.20 480.35,379.20 479.85,379.20 479.35,370.36 478.85,379.20 478.35,379.20 477.85,379.20 477.35,379.20 476.85,379.20 476.35,379.20 475.85,376.67 475.35,376.67 474.85,376.93 474.35,379.20 473.85,379.20 473.35,377.39 472.85,379.20 472.35,378.92 471.85,379.20 471.35,366.83 470.85,379.20 470.35,379.20 469.85,379.20 469.35,358.49 468.85,379.20 468.35,369.67 467.85,362.42 467.35,379.20 466.85,379.20 466.35,365.33 465.85,362.41 465.35,369.30 464.85,379.20 464.35,379.20 463.85,369.19 463.35,362.87 462.85,363.12 462.35,359.54 461.85,358.68 461.35,379.20 460.85,362.88 460.35,355.00 459.85,361.18 459.35,357.10 458.85,358.20 458.35,358.20 457.85,359.94 457.35,357.87 456.85,355.78 456.35,353.45 455.85,357.75 455.35,353.63 454.85,379.20 454.35,358.00 453.85,353.30 453.35,379.20 452.85,379.20 452.35,353.14 451.85,353.30 451.35,353.30 450.85,356.28 450.35,353.90 449.85,349.09 449.35,350.31 448.85,351.90 448.35,351.24 447.85,349.61 447.35,351.17 446.85,348.84 446.35,348.15 445.85,347.07 445.35,349.20 444.85,348.33 444.35,347.15 443.85,344.82 443.35,346.60 442.85,343.93 442.35,346.00 441.85,341.91 441.35,345.33 440.85,341.99 440.35,341.00 439.85,341.13 439.35,340.82 438.85,339.70 438.35,340.34 437.85,340.77 437.35,341.94 436.85,338.82 436.35,336.52 435.85,338.14 435.35,337.22 434.85,336.64 434.35,336.26 433.85,334.17 433.35,333.80 432.85,335.71 432.35,333.89 431.85,335.71 431.35,332.52 430.85,332.48 430.35,332.16 429.85,331.00 429.35,330.75 428.85,330.18 428.35,330.18 427.85,328.98 427.35,328.27 426.85,327.89 426.35,328.10 425.85,327.85 425.35,327.77 424.85,326.19 424.35,327.00 423.85,324.61 423.35,324.60 422.85,324.62 422.35,325.62 421.85,323.32 421.35,323.09 420.85,323.30 420.35,322.28 419.85,321.00 419.35,320.36 418.85,321.11 418.35,322.21 417.85,320.03 417.35,320.70 416.85,319.91 416.35,317.48 415.85,318.78 415.35,317.19 414.85,318.00 414.35,316.95 413.85,316.55 413.35,316.55 412.85,315.21 412.35,315.92 411.85,314.85 411.35,313.79 410.85,314.12 410.35,312.74 409.85,311.82 409.35,311.54 408.85,311.15 408.35,311.72 407.85,310.07 407.35,311.16 406.85,309.23 406.35,308.41 405.85,308.08" fill="#ff2a2a" fill-opacity="1.0"/>
<polyline points="403.60,378.20 404.10,300.00 404.40,276.00 405.00,296.00 405.85,306.93" fill="none" stroke="#ff2a2a" stroke-width="1.1" stroke-linejoin="round" />
</g>
<g clip-path="url(#cd2)">
<polygon points="396.85,477.13 397.35,473.01 397.85,473.01 398.35,484.15 398.85,477.13 399.35,484.15 399.85,477.13 400.35,477.13 400.85,473.01 401.35,484.15 401.85,477.13 402.35,477.13 402.85,477.13 403.35,473.01 403.85,473.01 403.85,488.00 403.35,488.00 402.85,488.00 402.35,488.00 401.85,488.00 401.35,488.00 400.85,488.00 400.35,488.00 399.85,488.00 399.35,488.00 398.85,488.00 398.35,488.00 397.85,488.00 397.35,488.00 396.85,488.00" fill="#555555" fill-opacity="1.0"/>
<polygon points="405.45,466.05 405.95,465.97 406.45,469.65 406.95,467.63 407.45,465.92 407.95,469.84 408.45,467.70 408.95,467.70 409.45,472.92 409.95,464.45 410.45,465.41 410.95,470.05 411.45,470.05 411.95,467.72 412.45,472.79 412.95,472.84 413.45,472.86 413.95,470.04 414.45,470.21 414.95,470.21 415.45,470.01 415.95,472.83 416.45,472.83 416.95,467.74 417.45,476.94 417.95,472.99 418.45,477.12 418.95,467.77 419.45,467.90 419.95,472.94 420.45,468.10 420.95,472.94 421.45,472.94 421.95,469.79 422.45,477.00 422.95,470.02 423.45,472.93 423.95,469.85 424.45,477.15 424.95,467.59 425.45,467.91 425.95,470.68 426.45,477.03 426.95,476.80 427.45,473.07 427.95,468.18 428.45,470.16 428.95,467.78 429.45,470.12 429.95,477.14 430.45,472.78 430.95,472.91 431.45,473.19 431.95,473.28 432.45,477.35 432.95,470.04 433.45,476.91 433.95,472.86 434.45,473.21 434.95,472.97 435.45,470.28 435.95,472.91 436.45,473.13 436.95,477.10 437.45,477.01 437.95,472.95 438.45,473.23 438.95,472.77 439.45,477.01 439.95,473.11 440.45,473.11 440.95,473.05 441.45,477.15 441.95,470.07 442.45,476.82 442.95,476.89 443.45,476.89 443.95,477.11 444.45,469.93 444.95,473.04 445.45,465.90 445.95,472.70 446.45,472.73 446.95,466.23 447.45,466.23 447.95,472.60 448.45,473.05 448.95,467.82 449.45,467.82 449.95,472.78 450.45,472.80 450.95,472.76 451.45,472.76 451.95,470.13 452.45,472.77 452.95,467.97 453.45,469.88 453.95,476.97 454.45,469.94 454.95,472.99 455.45,472.88 455.95,477.28 456.45,470.23 456.95,473.03 457.45,472.94 457.95,477.01 458.45,469.82 458.95,467.72 459.45,470.36 459.95,472.94 460.45,473.01 460.95,473.13 461.45,466.52 461.95,476.88 462.45,469.92 462.95,470.42 463.45,465.97 463.95,465.97 464.45,472.74 464.95,477.04 465.45,477.11 465.95,470.14 466.45,483.91 466.95,472.71 467.45,477.40 467.95,477.05 468.45,470.26 468.95,473.00 469.45,477.07 469.95,477.10 470.45,472.94 470.95,477.08 471.45,472.90 471.95,473.15 472.45,472.84 472.95,467.67 473.45,467.67 473.95,473.41 474.45,472.89 474.95,468.35 475.45,472.74 475.95,473.37 476.45,467.77 476.95,476.93 477.45,470.03 477.95,465.98 478.45,473.01 478.95,469.95 479.45,476.96 479.95,476.96 480.45,472.76 480.95,470.03 481.45,470.03 481.95,472.74 482.45,470.13 482.95,473.05 483.45,477.01 483.95,472.80 484.45,469.98 484.95,473.10 485.45,484.05 485.95,466.27 486.45,472.76 486.95,473.11 487.45,469.90 487.95,477.27 488.45,473.07 488.95,468.08 489.45,470.13 489.95,470.25 490.45,472.73 490.95,469.81 491.45,477.13 491.95,477.18 492.45,470.28 492.95,476.85 493.45,483.87 493.95,476.66 494.45,472.81 494.95,473.19 495.45,473.12 495.95,473.12 496.45,467.89 496.95,473.13 497.45,473.05 497.95,469.73 498.45,477.04 498.95,477.26 499.45,470.33 499.95,476.66 500.45,472.74 500.95,473.04 501.45,470.16 501.95,477.15 502.45,470.09 502.95,467.91 503.45,467.91 503.95,484.01 504.45,473.06 504.95,472.99 505.45,473.05 505.95,473.05 506.45,470.12 506.95,467.94 507.45,467.94 507.95,477.03 508.45,465.70 508.95,465.70 509.45,470.04 509.95,470.04 510.45,473.05 510.95,470.04 511.45,473.03 511.95,473.17 512.45,469.65 512.95,476.91 513.45,473.09 513.95,473.09 514.45,477.03 514.95,473.28 515.45,472.63 515.95,470.16 516.45,477.08 516.95,470.00 517.45,477.04 517.95,470.29 518.45,473.18 518.95,473.38 519.45,473.18 519.95,472.86 520.45,477.19 520.95,472.93 521.45,469.85 521.95,472.83 522.45,472.71 522.95,476.91 523.45,469.98 523.95,477.16 524.45,467.84 524.95,467.84 525.45,470.16 525.95,470.23 526.45,472.88 526.95,476.89 527.45,477.23 527.95,470.13 528.45,472.79 528.95,473.09 529.45,465.84 529.95,473.13 530.45,476.77 530.95,472.98 531.45,467.77 531.95,470.25 532.45,484.15 532.95,477.06 533.45,476.79 533.95,484.12 534.45,477.38 534.95,466.22 535.45,470.15 535.95,470.15 536.45,472.67 536.95,470.43 537.45,472.86 537.95,473.13 538.45,473.02 538.95,472.85 539.45,477.11 539.95,472.97 540.45,472.84 540.95,477.20 541.45,473.04 541.95,476.99 542.45,470.25 542.95,470.25 543.45,465.77 543.95,472.95 544.45,467.98 544.95,467.98 545.45,473.13 545.95,467.53 546.45,469.82 546.95,477.28 547.45,473.17 547.95,465.93 548.45,472.88 548.95,477.11 549.45,473.05 549.95,472.92 550.45,477.17 550.95,477.18 551.45,472.56 551.95,472.93 552.45,473.05 552.95,470.23 553.45,476.97 553.95,473.00 554.45,476.95 554.95,470.16 555.45,469.90 555.95,473.00 556.45,472.96 556.95,473.07 557.45,472.83 557.95,468.05 558.45,473.05 558.95,477.28 559.45,483.94 559.95,476.87 560.45,467.80 560.95,473.33 561.45,477.01 561.95,476.98 562.45,477.41 562.95,470.05 563.45,476.85 563.95,477.16 564.45,473.08 564.95,473.24 565.45,472.59 565.95,484.04 566.45,477.17 566.95,477.37 567.45,472.95 567.95,467.46 568.45,472.90 568.95,472.90 569.45,473.08 569.95,477.25 570.45,477.12 570.95,473.36 571.45,470.39 571.95,472.85 572.45,472.82 572.95,472.82 573.45,477.24 573.95,477.09 574.45,467.81 574.95,476.73 575.45,477.02 575.95,473.15 576.45,477.02 576.95,477.22 577.45,473.09 577.95,473.03 578.45,476.82 578.95,472.93 579.45,472.93 579.95,476.96 580.45,472.65 580.95,472.65 581.45,476.83 581.95,476.91 582.45,476.98 582.95,477.14 583.45,477.19 583.95,473.18 584.45,477.16 584.95,473.15 585.45,472.65 585.95,476.92 586.45,473.33 586.95,484.10 587.45,470.21 587.95,470.21 588.45,472.77 588.95,472.87 589.45,472.79 589.95,477.21 590.45,473.10 590.95,470.29 591.45,470.02 591.95,472.67 592.45,469.99 592.95,468.37 593.45,466.08 593.95,476.94 594.45,473.50 594.95,477.11 595.45,477.33 595.95,476.95 596.45,472.66 596.95,477.15 597.45,476.83 597.95,469.97 598.45,469.97 598.95,470.16 599.45,477.06 599.95,472.69 600.45,472.85 600.95,469.76 601.45,476.71 601.95,469.96 602.45,465.92 602.95,476.82 603.45,467.55 603.95,476.90 604.45,472.76 604.95,472.76 605.45,468.25 605.95,472.89 606.45,469.64 606.95,469.64 607.45,472.85 607.95,472.85 608.45,477.08 608.95,472.76 609.45,477.07 609.95,470.05 610.45,484.12 610.95,473.02 611.45,477.20 611.95,470.16 612.45,476.58 612.95,476.81 613.45,472.70 613.95,469.72 614.45,469.72 614.95,473.29 615.45,476.87 615.95,477.30 616.45,476.91 616.95,477.05 617.45,470.26 617.95,476.97 618.45,473.10 618.95,473.01 619.45,477.46 619.95,470.21 620.45,473.24 620.95,477.00 621.45,472.81 621.95,472.91 622.45,472.73 622.95,473.15 623.45,476.79 623.95,477.28 624.45,477.03 624.95,472.78 625.45,472.72 625.95,477.20 626.45,472.64 626.95,477.13 627.45,477.28 627.95,476.96 628.45,476.79 628.95,473.01 629.45,470.07 629.95,477.14 630.45,473.02 630.95,473.02 631.45,476.96 631.95,470.26 632.45,470.26 632.95,473.38 633.45,473.10 633.95,473.11 634.45,469.92 634.95,469.92 635.45,469.49 635.95,476.61 636.45,476.61 636.95,473.13 637.45,468.30 637.95,473.21 638.45,468.08 638.95,472.96 639.45,477.22 639.95,473.16 640.45,477.49 640.95,470.11 641.45,467.89 641.95,473.01 642.45,470.37 642.95,477.01 643.45,473.06 643.95,473.09 644.45,470.00 644.95,470.26 645.45,470.18 645.95,469.79 646.45,473.16 646.95,476.88 647.45,472.82 647.95,472.43 648.45,472.98 648.95,470.22 649.45,470.22 649.95,476.98 650.45,469.79 650.95,473.10 651.45,477.01 651.95,477.20 652.45,469.85 652.95,487.55 653.45,466.28 653.95,477.29 654.45,468.14 654.95,483.90 655.45,473.10 655.95,476.77 656.45,477.03 656.95,469.89 657.45,477.33 657.95,472.74 658.45,470.10 658.95,476.81 659.45,472.77 659.95,472.94 660.45,470.28 660.95,472.91 661.45,473.15 661.95,473.07 662.45,472.88 662.95,472.88 663.45,470.39 663.95,470.39 664.45,477.13 664.95,472.88 665.45,483.90 665.95,476.88 666.45,472.98 666.95,472.97 667.45,469.69 667.95,476.68 668.45,472.86 668.95,472.86 669.45,472.78 669.95,477.01 670.45,477.05 670.95,467.87 671.45,473.44 671.95,472.99 672.45,472.99 672.95,477.03 673.45,476.72 673.95,472.80 674.45,477.16 674.45,488.00 673.95,484.09 673.45,488.00 672.95,488.00 672.45,488.00 671.95,484.43 671.45,488.00 670.95,488.00 670.45,484.36 669.95,488.00 669.45,488.00 668.95,484.35 668.45,488.00 667.95,488.00 667.45,488.00 666.95,488.00 666.45,483.97 665.95,488.00 665.45,488.00 664.95,488.00 664.45,488.00 663.95,488.00 663.45,488.00 662.95,488.00 662.45,488.00 661.95,488.00 661.45,488.00 660.95,488.00 660.45,488.00 659.95,488.00 659.45,488.00 658.95,488.00 658.45,488.00 657.95,488.00 657.45,488.00 656.95,488.00 656.45,488.00 655.95,488.00 655.45,488.00 654.95,488.00 654.45,488.00 653.95,488.00 653.45,488.00 652.95,488.45 652.45,488.00 651.95,484.16 651.45,488.00 650.95,484.21 650.45,484.15 649.95,488.00 649.45,483.94 648.95,488.00 648.45,484.08 647.95,488.00 647.45,488.00 646.95,488.00 646.45,488.00 645.95,488.00 645.45,488.00 644.95,488.00 644.45,488.00 643.95,488.00 643.45,488.00 642.95,488.00 642.45,488.00 641.95,488.00 641.45,484.35 640.95,484.24 640.45,488.00 639.95,488.00 639.45,488.00 638.95,488.00 638.45,484.39 637.95,484.11 637.45,488.00 636.95,488.00 636.45,488.00 635.95,488.00 635.45,488.00 634.95,484.54 634.45,488.00 633.95,488.00 633.45,484.54 632.95,488.00 632.45,488.00 631.95,484.23 631.45,488.00 630.95,484.04 630.45,484.23 629.95,484.28 629.45,488.00 628.95,488.00 628.45,484.24 627.95,488.00 627.45,488.00 626.95,488.00 626.45,488.00 625.95,488.00 625.45,484.30 624.95,488.00 624.45,488.00 623.95,488.00 623.45,488.00 622.95,488.00 622.45,484.62 621.95,483.98 621.45,488.00 620.95,488.00 620.45,484.17 619.95,488.00 619.45,488.00 618.95,484.40 618.45,488.00 617.95,488.00 617.45,488.00 616.95,488.00 616.45,488.00 615.95,488.00 615.45,484.36 614.95,488.00 614.45,488.00 613.95,488.00 613.45,488.00 612.95,484.38 612.45,488.00 611.95,488.00 611.45,488.00 610.95,484.32 610.45,488.00 609.95,488.00 609.45,488.00 608.95,488.00 608.45,488.00 607.95,488.00 607.45,488.00 606.95,488.00 606.45,488.00 605.95,488.00 605.45,488.00 604.95,488.00 604.45,484.15 603.95,488.00 603.45,477.50 602.95,488.00 602.45,488.00 601.95,488.00 601.45,488.00 600.95,488.00 600.45,488.00 599.95,488.00 599.45,484.30 598.95,488.00 598.45,484.28 597.95,488.00 597.45,488.00 596.95,488.00 596.45,484.19 595.95,488.00 595.45,488.00 594.95,488.00 594.45,488.00 593.95,488.00 593.45,488.00 592.95,488.00 592.45,488.00 591.95,488.00 591.45,488.00 590.95,488.00 590.45,483.96 589.95,488.00 589.45,488.00 588.95,483.92 588.45,488.00 587.95,488.00 587.45,488.00 586.95,488.00 586.45,488.00 585.95,488.00 585.45,484.17 584.95,488.00 584.45,488.00 583.95,484.44 583.45,488.00 582.95,488.00 582.45,488.00 581.95,484.47 581.45,488.00 580.95,488.00 580.45,484.24 579.95,484.46 579.45,488.00 578.95,488.00 578.45,488.00 577.95,488.00 577.45,488.00 576.95,488.00 576.45,488.00 575.95,488.00 575.45,488.00 574.95,488.00 574.45,488.00 573.95,488.00 573.45,488.00 572.95,488.00 572.45,488.00 571.95,488.00 571.45,488.00 570.95,488.00 570.45,488.00 569.95,488.00 569.45,488.00 568.95,484.34 568.45,488.00 567.95,488.00 567.45,488.00 566.95,488.00 566.45,488.00 565.95,488.00 565.45,484.39 564.95,488.00 564.45,488.00 563.95,488.00 563.45,484.44 562.95,488.00 562.45,488.00 561.95,488.00 561.45,488.00 560.95,488.00 560.45,488.00 559.95,488.00 559.45,488.00 558.95,488.00 558.45,488.00 557.95,484.43 557.45,488.00 556.95,488.00 556.45,488.00 555.95,488.00 555.45,488.00 554.95,484.30 554.45,488.00 553.95,488.00 553.45,488.00 552.95,488.00 552.45,488.00 551.95,488.00 551.45,488.00 550.95,488.00 550.45,484.40 549.95,488.00 549.45,488.00 548.95,488.00 548.45,488.00 547.95,488.00 547.45,484.04 546.95,488.00 546.45,488.00 545.95,488.00 545.45,488.00 544.95,488.00 544.45,488.00 543.95,488.00 543.45,488.00 542.95,488.00 542.45,484.20 541.95,488.00 541.45,488.00 540.95,488.00 540.45,488.00 539.95,488.00 539.45,488.00 538.95,488.00 538.45,488.00 537.95,488.00 537.45,484.39 536.95,484.29 536.45,488.00 535.95,488.00 535.45,488.00 534.95,488.00 534.45,488.00 533.95,488.00 533.45,488.00 532.95,488.00 532.45,488.00 531.95,488.00 531.45,488.00 530.95,488.00 530.45,484.27 529.95,488.00 529.45,488.00 528.95,488.00 528.45,488.00 527.95,488.00 527.45,484.46 526.95,488.00 526.45,488.00 525.95,488.00 525.45,488.00 524.95,488.00 524.45,488.00 523.95,488.00 523.45,488.00 522.95,488.00 522.45,488.00 521.95,488.00 521.45,488.00 520.95,488.00 520.45,488.00 519.95,488.00 519.45,488.00 518.95,488.00 518.45,488.00 517.95,488.00 517.45,484.45 516.95,484.28 516.45,488.00 515.95,488.00 515.45,488.00 514.95,488.00 514.45,488.00 513.95,488.00 513.45,488.00 512.95,488.00 512.45,488.00 511.95,488.00 511.45,488.00 510.95,484.21 510.45,484.53 509.95,488.00 509.45,484.36 508.95,488.00 508.45,488.00 507.95,488.00 507.45,488.00 506.95,488.00 506.45,488.00 505.95,488.00 505.45,488.00 504.95,488.00 504.45,488.00 503.95,488.00 503.45,488.00 502.95,488.00 502.45,488.00 501.95,488.00 501.45,488.00 500.95,488.00 500.45,488.00 499.95,484.13 499.45,477.56 498.95,484.25 498.45,488.00 497.95,488.00 497.45,488.00 496.95,483.96 496.45,488.00 495.95,488.00 495.45,488.00 494.95,488.00 494.45,488.00 493.95,484.14 493.45,488.00 492.95,488.00 492.45,488.00 491.95,488.00 491.45,488.00 490.95,488.00 490.45,488.00 489.95,488.00 489.45,488.00 488.95,488.00 488.45,488.00 487.95,488.00 487.45,484.62 486.95,484.11 486.45,488.00 485.95,484.46 485.45,488.00 484.95,488.00 484.45,484.56 483.95,488.00 483.45,488.00 482.95,488.00 482.45,484.02 481.95,484.21 481.45,488.00 480.95,488.00 480.45,488.00 479.95,484.51 479.45,488.00 478.95,488.00 478.45,488.00 477.95,488.00 477.45,488.00 476.95,488.00 476.45,488.00 475.95,484.50 475.45,488.00 474.95,488.00 474.45,484.10 473.95,484.17 473.45,488.00 472.95,488.00 472.45,484.44 471.95,484.44 471.45,483.96 470.95,488.00 470.45,483.95 469.95,488.00 469.45,484.26 468.95,488.00 468.45,488.00 467.95,488.00 467.45,488.00 466.95,488.00 466.45,488.00 465.95,488.00 465.45,484.25 464.95,488.00 464.45,488.00 463.95,484.07 463.45,484.48 462.95,488.00 462.45,488.00 461.95,488.00 461.45,483.86 460.95,488.00 460.45,488.00 459.95,488.00 459.45,483.98 458.95,488.00 458.45,488.00 457.95,488.00 457.45,488.00 456.95,488.00 456.45,488.00 455.95,488.00 455.45,488.00 454.95,488.00 454.45,484.06 453.95,488.00 453.45,484.24 452.95,488.00 452.45,488.00 451.95,488.00 451.45,488.00 450.95,488.00 450.45,484.33 449.95,488.00 449.45,488.00 448.95,488.00 448.45,488.00 447.95,488.00 447.45,484.54 446.95,488.00 446.45,488.00 445.95,488.00 445.45,484.25 444.95,484.51 444.45,484.49 443.95,488.00 443.45,488.00 442.95,488.00 442.45,488.00 441.95,488.00 441.45,488.00 440.95,488.00 440.45,488.00 439.95,488.00 439.45,484.53 438.95,488.00 438.45,488.00 437.95,488.00 437.45,488.00 436.95,488.00 436.45,488.00 435.95,484.33 435.45,488.00 434.95,488.00 434.45,484.48 433.95,483.96 433.45,488.00 432.95,488.00 432.45,488.00 431.95,484.39 431.45,488.00 430.95,488.00 430.45,488.00 429.95,484.32 429.45,484.19 428.95,488.00 428.45,488.00 427.95,484.25 427.45,488.00 426.95,488.00 426.45,484.14 425.95,488.00 425.45,488.00 424.95,484.12 424.45,488.00 423.95,488.00 423.45,484.46 422.95,484.23 422.45,488.00 421.95,484.21 421.45,488.00 420.95,488.00 420.45,484.26 419.95,484.50 419.45,488.00 418.95,488.00 418.45,484.36 417.95,477.31 417.45,488.00 416.95,488.00 416.45,484.36 415.95,488.00 415.45,488.00 414.95,484.33 414.45,484.07 413.95,484.35 413.45,488.00 412.95,488.00 412.45,488.00 411.95,484.24 411.45,484.24 410.95,477.44 410.45,477.39 409.95,488.00 409.45,488.00 408.95,488.00 408.45,488.00 407.95,488.00 407.45,477.40 406.95,488.00 406.45,484.18 405.95,484.18 405.45,483.99" fill="#606060" fill-opacity="1.0"/>
<polyline points="404.20,487.00 404.80,455.00 405.45,475.02" fill="none" stroke="#606060" stroke-width="1.1" stroke-linejoin="round" />
<polygon points="406.55,437.22 407.05,441.04 407.55,445.22 408.05,448.81 408.55,450.63 409.05,452.67 409.55,454.32 410.05,454.10 410.55,457.66 411.05,455.75 411.55,459.51 412.05,457.11 412.55,457.28 413.05,457.28 413.55,461.30 414.05,461.49 414.55,460.53 415.05,461.49 415.55,459.33 416.05,460.78 416.55,460.25 417.05,464.49 417.55,464.49 418.05,466.17 418.55,462.48 419.05,465.30 419.55,462.50 420.05,466.27 420.55,467.66 421.05,471.41 421.55,469.84 422.05,468.14 422.55,468.70 423.05,468.65 423.55,464.40 424.05,464.40 424.55,471.55 425.05,469.93 425.55,468.87 426.05,469.13 426.55,466.41 427.05,468.48 427.55,469.38 428.05,469.14 428.55,464.88 429.05,468.90 429.55,472.32 430.05,468.28 430.55,470.70 431.05,467.47 431.55,470.72 432.05,470.72 432.55,469.60 433.05,471.03 433.55,470.85 434.05,470.06 434.55,470.06 435.05,468.20 435.55,472.85 436.05,466.97 436.55,476.61 437.05,470.84 437.55,468.59 438.05,472.84 438.55,462.04 439.05,462.04 439.55,472.05 440.05,465.72 440.55,475.19 441.05,469.00 441.55,468.45 442.05,469.88 442.55,470.49 443.05,471.08 443.55,474.65 444.05,469.59 444.55,471.24 445.05,470.07 445.55,470.07 446.05,469.41 446.55,469.31 447.05,469.31 447.55,470.11 448.05,467.95 448.55,475.05 449.05,472.24 449.55,472.58 450.05,470.37 450.55,473.14 451.05,472.03 451.55,472.03 452.05,468.48 452.55,474.98 453.05,478.93 453.55,473.88 454.05,469.47 454.55,475.67 455.05,474.06 455.55,471.28 456.05,471.45 456.55,470.46 457.05,478.09 457.55,471.58 458.05,471.58 458.55,475.27 459.05,479.44 459.55,471.43 460.05,478.83 460.55,475.21 461.05,472.26 461.55,474.53 462.05,469.11 462.55,469.52 463.05,474.77 463.55,474.67 464.05,478.65 464.55,469.49 465.05,472.13 465.55,471.68 466.05,476.02 466.55,468.91 467.05,468.91 467.55,472.68 468.05,472.75 468.55,468.50 469.05,471.61 469.55,468.59 470.05,474.34 470.55,471.90 471.05,473.93 471.55,470.82 472.05,471.19 472.55,470.79 473.05,472.19 473.55,472.63 474.05,468.79 474.55,475.48 475.05,476.03 475.55,473.75 476.05,473.11 476.55,472.75 477.05,472.94 477.55,471.17 478.05,474.52 478.55,479.26 479.05,473.72 479.55,469.27 480.05,469.27 480.55,478.46 481.05,472.00 481.55,474.31 482.05,475.07 482.55,471.94 483.05,471.94 483.55,471.69 484.05,477.70 484.55,470.80 485.05,474.34 485.55,472.26 486.05,475.23 486.55,474.23 487.05,474.01 487.55,474.84 488.05,474.84 488.55,473.76 489.05,473.66 489.55,474.71 490.05,473.63 490.55,470.48 491.05,478.05 491.55,470.08 492.05,472.57 492.55,470.09 493.05,473.90 493.55,479.53 494.05,475.84 494.55,479.80 495.05,473.87 495.55,476.75 496.05,475.74 496.55,476.48 497.05,473.80 497.55,479.22 498.05,471.78 498.55,472.34 499.05,473.64 499.55,479.41 500.05,476.52 500.55,470.89 501.05,474.09 501.55,472.05 502.05,472.05 502.55,477.39 503.05,466.70 503.55,475.83 504.05,472.37 504.55,468.95 505.05,472.40 505.55,470.69 506.05,472.00 506.55,472.00 507.05,468.64 507.55,478.05 508.05,476.08 508.55,474.77 509.05,476.34 509.55,475.69 510.05,471.36 510.55,472.99 511.05,475.83 511.55,472.13 512.05,470.94 512.55,473.85 513.05,475.46 513.55,472.98 514.05,473.56 514.55,474.00 515.05,474.97 515.55,477.12 516.05,478.67 516.55,471.47 517.05,474.57 517.55,474.30 518.05,474.89 518.55,475.20 519.05,475.77 519.55,471.42 520.05,472.32 520.55,475.77 521.05,479.73 521.55,474.22 522.05,471.58 522.55,471.58 523.05,474.42 523.55,474.37 524.05,476.15 524.55,475.03 525.05,471.46 525.55,472.16 526.05,469.60 526.55,473.86 527.05,474.73 527.55,472.28 528.05,470.35 528.55,472.04 529.05,479.37 529.55,471.22 530.05,472.00 530.55,473.98 531.05,474.71 531.55,472.24 532.05,472.10 532.55,475.55 533.05,473.64 533.55,468.48 534.05,475.48 534.55,480.88 535.05,472.16 535.55,473.35 536.05,472.48 536.55,476.20 537.05,474.46 537.55,474.46 538.05,472.61 538.55,479.71 539.05,478.70 539.55,475.30 540.05,477.71 540.55,475.30 541.05,474.83 541.55,474.83 542.05,467.72 542.55,475.81 543.05,472.36 543.55,476.77 544.05,470.71 544.55,475.88 545.05,481.09 545.55,469.81 546.05,475.62 546.55,472.73 547.05,470.25 547.55,470.49 548.05,472.78 548.55,473.39 549.05,478.48 549.55,470.49 550.05,470.49 550.55,470.49 551.05,476.09 551.55,469.71 552.05,475.38 552.55,473.18 553.05,474.94 553.55,472.81 554.05,472.68 554.55,472.68 555.05,471.99 555.55,476.44 556.05,477.64 556.55,479.87 557.05,471.69 557.55,472.23 558.05,478.83 558.55,468.11 559.05,471.62 559.55,474.98 560.05,474.98 560.55,471.33 561.05,470.78 561.55,472.44 562.05,474.34 562.55,473.41 563.05,474.69 563.55,473.25 564.05,475.08 564.55,470.26 565.05,472.52 565.55,472.87 566.05,469.56 566.55,470.92 567.05,472.93 567.55,472.71 568.05,475.29 568.55,473.42 569.05,477.83 569.55,473.08 570.05,474.27 570.55,471.67 571.05,469.82 571.55,475.20 572.05,473.46 572.55,471.34 573.05,473.14 573.55,468.84 574.05,474.38 574.55,471.51 575.05,473.89 575.55,475.79 576.05,479.09 576.55,475.09 577.05,478.38 577.55,479.26 578.05,473.50 578.55,473.50 579.05,474.26 579.55,474.08 580.05,472.12 580.55,471.22 581.05,476.05 581.55,480.50 582.05,473.93 582.55,473.64 583.05,473.17 583.55,471.33 584.05,471.62 584.55,475.82 585.05,471.38 585.55,476.25 586.05,472.97 586.55,474.77 587.05,474.77 587.55,476.94 588.05,477.72 588.55,474.16 589.05,474.16 589.55,474.95 590.05,474.25 590.55,478.01 591.05,471.38 591.55,474.72 592.05,474.35 592.55,475.82 593.05,469.87 593.55,474.08 594.05,475.92 594.55,476.20 595.05,477.20 595.55,475.59 596.05,474.39 596.55,472.83 597.05,479.46 597.55,471.56 598.05,477.09 598.55,472.85 599.05,479.27 599.55,478.49 600.05,472.45 600.55,475.20 601.05,476.26 601.55,475.68 602.05,475.68 602.55,471.38 603.05,474.20 603.55,484.85 604.05,475.44 604.55,475.52 605.05,474.78 605.55,475.59 606.05,479.98 606.55,478.67 607.05,472.81 607.55,472.67 608.05,467.81 608.55,471.14 609.05,473.80 609.55,475.70 610.05,473.60 610.55,472.84 611.05,474.77 611.55,473.67 612.05,470.30 612.55,478.89 613.05,478.23 613.55,475.09 614.05,484.65 614.55,485.01 615.05,471.35 615.55,474.18 616.05,471.84 616.55,476.41 617.05,475.86 617.55,473.42 618.05,475.85 618.55,470.19 619.05,470.19 619.55,474.69 620.05,472.01 620.55,479.40 621.05,479.43 621.55,475.17 622.05,477.93 622.55,475.90 623.05,472.11 623.55,470.15 624.05,470.18 624.55,478.66 625.05,475.18 625.55,478.15 626.05,475.01 626.55,472.84 627.05,473.49 627.55,477.06 628.05,475.74 628.55,474.93 629.05,478.89 629.55,473.33 630.05,472.29 630.55,473.32 631.05,469.74 631.55,472.70 632.05,469.14 632.55,469.14 633.05,475.99 633.55,478.09 634.05,475.54 634.55,475.28 635.05,471.68 635.55,479.12 636.05,486.60 636.55,470.64 637.05,470.64 637.55,471.36 638.05,478.54 638.55,473.03 639.05,472.78 639.55,465.62 640.05,479.24 640.55,471.41 641.05,471.41 641.55,473.31 642.05,475.82 642.55,479.60 643.05,475.10 643.55,470.03 644.05,473.41 644.55,474.98 645.05,479.13 645.55,478.59 646.05,472.22 646.55,479.26 647.05,470.70 647.55,468.75 648.05,470.32 648.55,474.76 649.05,478.41 649.55,474.18 650.05,478.47 650.55,478.47 651.05,479.79 651.55,472.29 652.05,474.93 652.55,474.33 653.05,472.57 653.55,475.32 654.05,473.66 654.55,473.66 655.05,475.02 655.55,470.74 656.05,470.25 656.55,475.99 657.05,474.51 657.55,474.51 658.05,469.81 658.55,478.81 659.05,474.72 659.55,475.96 660.05,466.99 660.55,473.40 661.05,470.93 661.55,475.34 662.05,474.86 662.55,474.96 663.05,478.64 663.55,471.73 664.05,471.43 664.55,475.89 665.05,472.09 665.55,474.32 666.05,473.80 666.55,473.03 667.05,474.13 667.55,473.07 668.05,473.74 668.55,474.96 669.05,473.56 669.55,472.39 670.05,471.83 670.55,475.81 671.05,474.33 671.55,472.23 672.05,474.45 672.55,473.78 673.05,475.64 673.55,473.36 674.05,472.51 674.55,472.51 674.55,488.00 674.05,488.00 673.55,488.00 673.05,488.00 672.55,488.00 672.05,488.00 671.55,488.00 671.05,488.00 670.55,488.00 670.05,488.00 669.55,488.00 669.05,488.00 668.55,488.00 668.05,488.00 667.55,488.00 667.05,488.00 666.55,488.00 666.05,488.00 665.55,488.00 665.05,488.00 664.55,488.00 664.05,488.00 663.55,488.00 663.05,488.00 662.55,488.00 662.05,488.00 661.55,488.00 661.05,488.00 660.55,488.00 660.05,488.00 659.55,488.00 659.05,488.00 658.55,488.00 658.05,488.00 657.55,488.00 657.05,488.00 656.55,488.00 656.05,486.85 655.55,488.00 655.05,488.00 654.55,488.00 654.05,488.00 653.55,488.00 653.05,488.00 652.55,488.00 652.05,488.00 651.55,488.00 651.05,488.00 650.55,488.00 650.05,488.00 649.55,488.00 649.05,488.00 648.55,488.00 648.05,488.00 647.55,488.00 647.05,488.00 646.55,488.00 646.05,488.00 645.55,488.00 645.05,488.00 644.55,488.00 644.05,488.00 643.55,488.00 643.05,488.00 642.55,488.00 642.05,488.00 641.55,488.00 641.05,488.00 640.55,488.00 640.05,488.00 639.55,488.00 639.05,488.00 638.55,488.00 638.05,488.00 637.55,488.00 637.05,488.00 636.55,488.00 636.05,488.00 635.55,488.00 635.05,488.00 634.55,488.00 634.05,488.00 633.55,488.00 633.05,488.00 632.55,486.78 632.05,488.00 631.55,488.00 631.05,488.00 630.55,488.00 630.05,488.00 629.55,488.00 629.05,488.00 628.55,488.00 628.05,488.00 627.55,488.00 627.05,488.00 626.55,488.00 626.05,488.00 625.55,488.00 625.05,488.00 624.55,488.00 624.05,488.00 623.55,488.00 623.05,488.00 622.55,488.00 622.05,488.00 621.55,488.00 621.05,488.00 620.55,488.00 620.05,488.00 619.55,488.00 619.05,488.00 618.55,488.00 618.05,488.00 617.55,488.00 617.05,488.00 616.55,488.00 616.05,488.00 615.55,488.00 615.05,488.00 614.55,488.00 614.05,488.00 613.55,488.00 613.05,488.00 612.55,488.00 612.05,488.00 611.55,487.28 611.05,488.00 610.55,488.00 610.05,488.00 609.55,488.00 609.05,488.00 608.55,488.00 608.05,488.00 607.55,488.00 607.05,488.00 606.55,488.00 606.05,488.00 605.55,488.00 605.05,488.00 604.55,488.00 604.05,488.00 603.55,488.00 603.05,488.00 602.55,488.00 602.05,488.00 601.55,488.00 601.05,488.00 600.55,488.00 600.05,488.00 599.55,488.00 599.05,488.00 598.55,488.00 598.05,488.00 597.55,488.00 597.05,488.00 596.55,488.00 596.05,488.00 595.55,488.00 595.05,488.00 594.55,488.00 594.05,488.00 593.55,488.00 593.05,488.00 592.55,488.00 592.05,488.00 591.55,488.00 591.05,488.00 590.55,488.00 590.05,488.00 589.55,488.00 589.05,488.00 588.55,488.00 588.05,488.00 587.55,488.00 587.05,488.00 586.55,488.00 586.05,488.00 585.55,488.00 585.05,488.00 584.55,488.00 584.05,488.00 583.55,488.00 583.05,488.00 582.55,488.00 582.05,488.00 581.55,488.00 581.05,488.00 580.55,488.00 580.05,488.00 579.55,488.00 579.05,488.00 578.55,488.00 578.05,486.92 577.55,488.00 577.05,488.00 576.55,488.00 576.05,488.00 575.55,488.00 575.05,488.00 574.55,488.00 574.05,488.00 573.55,487.48 573.05,488.00 572.55,488.00 572.05,488.00 571.55,488.00 571.05,488.00 570.55,488.00 570.05,488.00 569.55,488.00 569.05,488.00 568.55,488.00 568.05,488.00 567.55,488.00 567.05,488.00 566.55,488.00 566.05,488.00 565.55,488.00 565.05,488.00 564.55,488.00 564.05,488.00 563.55,488.00 563.05,488.00 562.55,488.00 562.05,488.00 561.55,488.00 561.05,486.33 560.55,488.00 560.05,488.00 559.55,488.00 559.05,488.00 558.55,488.00 558.05,488.00 557.55,488.00 557.05,488.00 556.55,488.00 556.05,488.00 555.55,488.00 555.05,488.00 554.55,488.00 554.05,488.00 553.55,488.00 553.05,488.00 552.55,488.00 552.05,488.00 551.55,488.00 551.05,488.00 550.55,488.00 550.05,488.00 549.55,488.00 549.05,488.00 548.55,488.00 548.05,487.36 547.55,488.00 547.05,488.00 546.55,488.00 546.05,488.00 545.55,488.00 545.05,488.00 544.55,488.00 544.05,488.00 543.55,488.00 543.05,488.00 542.55,488.00 542.05,488.00 541.55,488.00 541.05,488.00 540.55,488.00 540.05,488.00 539.55,487.49 539.05,488.00 538.55,488.00 538.05,488.00 537.55,488.00 537.05,488.00 536.55,488.00 536.05,488.00 535.55,487.23 535.05,488.00 534.55,488.00 534.05,488.00 533.55,488.00 533.05,488.00 532.55,488.00 532.05,488.00 531.55,488.00 531.05,488.00 530.55,488.00 530.05,488.00 529.55,488.00 529.05,488.00 528.55,488.00 528.05,488.00 527.55,488.00 527.05,488.00 526.55,488.00 526.05,488.00 525.55,488.00 525.05,488.00 524.55,488.00 524.05,488.00 523.55,488.00 523.05,488.00 522.55,488.00 522.05,488.00 521.55,488.00 521.05,488.00 520.55,488.00 520.05,488.00 519.55,488.00 519.05,488.00 518.55,488.00 518.05,488.00 517.55,488.00 517.05,488.00 516.55,488.00 516.05,488.00 515.55,488.00 515.05,488.00 514.55,488.00 514.05,488.00 513.55,488.00 513.05,488.00 512.55,488.00 512.05,488.00 511.55,488.00 511.05,488.00 510.55,488.00 510.05,488.00 509.55,488.00 509.05,488.00 508.55,488.00 508.05,488.00 507.55,488.00 507.05,488.00 506.55,488.00 506.05,488.00 505.55,488.00 505.05,488.00 504.55,488.00 504.05,488.00 503.55,488.00 503.05,488.00 502.55,488.00 502.05,488.00 501.55,488.00 501.05,488.00 500.55,488.00 500.05,488.00 499.55,488.00 499.05,488.00 498.55,488.00 498.05,488.00 497.55,488.00 497.05,488.00 496.55,488.00 496.05,488.00 495.55,488.00 495.05,488.00 494.55,488.00 494.05,488.00 493.55,488.00 493.05,488.00 492.55,488.00 492.05,488.00 491.55,488.00 491.05,488.00 490.55,488.00 490.05,488.00 489.55,488.00 489.05,488.00 488.55,488.00 488.05,488.00 487.55,488.00 487.05,488.00 486.55,488.00 486.05,488.00 485.55,488.00 485.05,488.00 484.55,488.00 484.05,488.00 483.55,488.00 483.05,488.00 482.55,488.00 482.05,488.00 481.55,488.00 481.05,488.00 480.55,488.00 480.05,488.00 479.55,488.00 479.05,488.00 478.55,488.00 478.05,487.01 477.55,488.00 477.05,488.00 476.55,488.00 476.05,488.00 475.55,488.00 475.05,488.00 474.55,488.00 474.05,488.00 473.55,487.36 473.05,488.00 472.55,488.00 472.05,488.00 471.55,488.00 471.05,488.00 470.55,488.00 470.05,488.00 469.55,488.00 469.05,488.00 468.55,486.66 468.05,488.00 467.55,488.00 467.05,488.00 466.55,488.00 466.05,488.00 465.55,488.00 465.05,488.00 464.55,488.00 464.05,488.00 463.55,488.00 463.05,488.00 462.55,488.00 462.05,488.00 461.55,488.00 461.05,488.00 460.55,488.00 460.05,488.00 459.55,488.00 459.05,488.00 458.55,488.00 458.05,488.00 457.55,488.00 457.05,488.00 456.55,488.00 456.05,488.00 455.55,488.00 455.05,488.00 454.55,488.00 454.05,487.57 453.55,488.00 453.05,488.00 452.55,488.00 452.05,488.00 451.55,488.00 451.05,488.00 450.55,488.00 450.05,488.00 449.55,488.00 449.05,488.00 448.55,488.00 448.05,488.00 447.55,488.00 447.05,488.00 446.55,488.00 446.05,488.00 445.55,488.00 445.05,488.00 444.55,488.00 444.05,488.00 443.55,488.00 443.05,488.00 442.55,488.00 442.05,488.00 441.55,488.00 441.05,488.00 440.55,486.77 440.05,487.37 439.55,486.82 439.05,488.00 438.55,488.00 438.05,488.00 437.55,488.00 437.05,488.00 436.55,487.93 436.05,488.00 435.55,488.00 435.05,488.00 434.55,488.00 434.05,488.00 433.55,488.00 433.05,488.00 432.55,488.00 432.05,487.16 431.55,488.00 431.05,488.00 430.55,488.00 430.05,486.29 429.55,488.00 429.05,486.74 428.55,486.56 428.05,487.90 427.55,488.00 427.05,488.00 426.55,481.56 426.05,481.85 425.55,488.00 425.05,487.12 424.55,487.89 424.05,487.98 423.55,486.75 423.05,488.00 422.55,486.06 422.05,488.00 421.55,485.83 421.05,479.77 420.55,488.00 420.05,479.43 419.55,487.33 419.05,481.14 418.55,479.17 418.05,479.17 417.55,479.26 417.05,476.21 416.55,475.27 416.05,475.62 415.55,479.90 415.05,478.19 414.55,472.23 414.05,472.16 413.55,470.61 413.05,468.82 412.55,466.46 412.05,465.70 411.55,468.55 411.05,463.88 410.55,466.26 410.05,460.07 409.55,463.64 409.05,463.64 408.55,457.14 408.05,454.44 407.55,452.93 407.05,447.96 406.55,441.50" fill="#2d962d" fill-opacity="1.0"/>
<polyline points="404.00,487.00 404.50,400.00 404.90,384.00 405.50,420.00 406.55,439.36" fill="none" stroke="#2d962d" stroke-width="1.1" stroke-linejoin="round" />
<polygon points="406.55,417.25 407.05,417.11 407.55,419.89 408.05,420.78 408.55,422.23 409.05,423.55 409.55,423.92 410.05,425.91 410.55,427.32 411.05,426.79 411.55,429.08 412.05,427.33 412.55,430.99 413.05,431.63 413.55,432.67 414.05,432.68 414.55,433.38 415.05,435.52 415.55,437.36 416.05,436.35 416.55,438.15 417.05,438.62 417.55,439.05 418.05,438.80 418.55,441.56 419.05,441.67 419.55,440.68 420.05,443.65 420.55,444.95 421.05,444.25 421.55,443.46 422.05,445.31 422.55,443.75 423.05,445.53 423.55,446.29 424.05,446.98 424.55,448.56 425.05,448.59 425.55,448.59 426.05,448.65 426.55,448.94 427.05,449.58 427.55,450.94 428.05,452.42 428.55,451.82 429.05,450.73 429.55,450.19 430.05,454.05 430.55,454.23 431.05,453.19 431.55,453.66 432.05,450.72 432.55,454.57 433.05,452.88 433.55,452.88 434.05,454.60 434.55,455.38 435.05,454.45 435.55,457.19 436.05,454.51 436.55,456.32 437.05,455.65 437.55,458.52 438.05,458.10 438.55,452.53 439.05,453.89 439.55,458.06 440.05,460.14 440.55,457.94 441.05,454.90 441.55,457.78 442.05,459.24 442.55,459.24 443.05,458.01 443.55,456.08 444.05,457.15 444.55,458.45 445.05,454.23 445.55,459.56 446.05,458.54 446.55,453.36 447.05,460.87 447.55,459.70 448.05,458.79 448.55,460.32 449.05,455.76 449.55,458.14 450.05,460.73 450.55,463.70 451.05,460.63 451.55,462.31 452.05,461.21 452.55,461.21 453.05,460.19 453.55,463.98 454.05,459.35 454.55,463.68 455.05,463.52 455.55,464.49 456.05,461.49 456.55,460.27 457.05,461.02 457.55,459.31 458.05,463.17 458.55,459.85 459.05,461.64 459.55,462.48 460.05,465.38 460.55,461.33 461.05,461.33 461.55,462.88 462.05,462.88 462.55,460.83 463.05,463.17 463.55,462.11 464.05,462.11 464.55,461.40 465.05,462.15 465.55,458.54 466.05,465.11 466.55,464.22 467.05,460.66 467.55,464.01 468.05,463.07 468.55,463.20 469.05,461.75 469.55,463.19 470.05,459.08 470.55,464.08 471.05,465.41 471.55,464.00 472.05,462.62 472.55,465.69 473.05,458.96 473.55,462.80 474.05,462.06 474.55,463.90 475.05,463.32 475.55,466.41 476.05,463.93 476.55,460.25 477.05,462.39 477.55,462.40 478.05,463.81 478.55,465.55 479.05,463.65 479.55,464.21 480.05,466.45 480.55,459.12 481.05,462.76 481.55,468.84 482.05,462.53 482.55,462.59 483.05,460.45 483.55,463.76 484.05,463.22 484.55,464.99 485.05,460.87 485.55,462.26 486.05,464.06 486.55,467.98 487.05,463.68 487.55,462.84 488.05,462.84 488.55,465.37 489.05,465.62 489.55,464.13 490.05,463.15 490.55,469.05 491.05,460.13 491.55,465.96 492.05,464.40 492.55,460.32 493.05,462.05 493.55,463.47 494.05,463.37 494.55,462.36 495.05,458.69 495.55,458.69 496.05,463.24 496.55,463.79 497.05,459.96 497.55,462.79 498.05,465.33 498.55,463.65 499.05,465.75 499.55,462.00 500.05,464.93 500.55,465.45 501.05,461.24 501.55,464.98 502.05,467.07 502.55,464.04 503.05,466.61 503.55,465.09 504.05,464.55 504.55,467.44 505.05,466.35 505.55,465.06 506.05,463.16 506.55,464.96 507.05,463.21 507.55,464.19 508.05,462.26 508.55,469.75 509.05,462.87 509.55,462.87 510.05,463.27 510.55,462.61 511.05,469.09 511.55,460.88 512.05,462.13 512.55,463.64 513.05,461.83 513.55,459.92 514.05,464.06 514.55,466.40 515.05,463.03 515.55,462.25 516.05,461.66 516.55,463.58 517.05,465.27 517.55,467.03 518.05,464.90 518.55,468.29 519.05,472.57 519.55,466.30 520.05,469.53 520.55,464.15 521.05,466.50 521.55,465.71 522.05,467.04 522.55,468.40 523.05,463.31 523.55,464.95 524.05,460.72 524.55,462.34 525.05,461.94 525.55,460.64 526.05,466.74 526.55,465.08 527.05,460.00 527.55,460.00 528.05,464.69 528.55,464.02 529.05,463.79 529.55,468.44 530.05,466.97 530.55,460.35 531.05,463.35 531.55,462.51 532.05,465.14 532.55,464.88 533.05,467.01 533.55,466.55 534.05,466.45 534.55,470.06 535.05,470.09 535.55,462.60 536.05,469.22 536.55,463.10 537.05,468.47 537.55,460.35 538.05,465.26 538.55,462.25 539.05,467.82 539.55,463.20 540.05,468.07 540.55,466.11 541.05,466.06 541.55,463.91 542.05,466.52 542.55,458.41 543.05,465.42 543.55,465.12 544.05,467.05 544.55,467.93 545.05,465.41 545.55,467.45 546.05,464.71 546.55,468.42 547.05,464.63 547.55,465.22 548.05,462.87 548.55,465.27 549.05,464.24 549.55,464.98 550.05,466.26 550.55,466.26 551.05,463.99 551.55,468.59 552.05,464.61 552.55,468.61 553.05,463.36 553.55,465.22 554.05,468.31 554.55,461.61 555.05,468.72 555.55,465.88 556.05,469.28 556.55,465.80 557.05,465.03 557.55,464.69 558.05,464.09 558.55,466.35 559.05,466.06 559.55,467.04 560.05,463.80 560.55,463.26 561.05,465.34 561.55,462.26 562.05,469.00 562.55,464.82 563.05,462.06 563.55,465.85 564.05,466.16 564.55,463.52 565.05,463.52 565.55,463.82 566.05,463.82 566.55,466.55 567.05,464.91 567.55,463.98 568.05,464.77 568.55,467.31 569.05,463.50 569.55,470.86 570.05,469.82 570.55,464.60 571.05,464.97 571.55,464.23 572.05,468.29 572.55,466.16 573.05,464.78 573.55,464.80 574.05,464.77 574.55,466.86 575.05,467.52 575.55,464.76 576.05,467.55 576.55,464.55 577.05,467.81 577.55,465.04 578.05,462.59 578.55,461.92 579.05,461.92 579.55,462.46 580.05,463.74 580.55,467.18 581.05,461.77 581.55,463.91 582.05,466.88 582.55,470.16 583.05,463.90 583.55,464.50 584.05,466.20 584.55,471.79 585.05,466.29 585.55,464.07 586.05,467.37 586.55,468.42 587.05,470.25 587.55,462.91 588.05,466.37 588.55,465.60 589.05,462.35 589.55,463.20 590.05,465.07 590.55,465.54 591.05,468.58 591.55,464.21 592.05,467.13 592.55,463.40 593.05,469.25 593.55,462.78 594.05,466.59 594.55,459.27 595.05,464.75 595.55,462.99 596.05,466.07 596.55,465.96 597.05,465.96 597.55,465.59 598.05,461.65 598.55,464.16 599.05,465.13 599.55,460.29 600.05,466.41 600.55,467.12 601.05,464.39 601.55,468.18 602.05,466.50 602.55,462.96 603.05,468.22 603.55,459.25 604.05,462.08 604.55,462.08 605.05,467.56 605.55,465.88 606.05,467.24 606.55,464.18 607.05,465.93 607.55,465.20 608.05,463.40 608.55,465.59 609.05,466.38 609.55,463.03 610.05,463.59 610.55,468.97 611.05,462.03 611.55,461.21 612.05,464.79 612.55,464.79 613.05,465.99 613.55,464.25 614.05,468.70 614.55,465.77 615.05,469.05 615.55,466.04 616.05,466.97 616.55,468.08 617.05,466.80 617.55,463.75 618.05,463.75 618.55,465.71 619.05,465.34 619.55,466.23 620.05,466.31 620.55,463.91 621.05,463.99 621.55,467.57 622.05,466.96 622.55,463.70 623.05,465.53 623.55,468.40 624.05,464.64 624.55,464.94 625.05,460.07 625.55,462.85 626.05,461.86 626.55,463.10 627.05,464.84 627.55,463.95 628.05,464.48 628.55,463.90 629.05,464.36 629.55,463.78 630.05,464.04 630.55,463.62 631.05,462.74 631.55,462.55 632.05,465.49 632.55,467.58 633.05,465.53 633.55,465.45 634.05,467.72 634.55,472.61 635.05,466.53 635.55,463.61 636.05,465.58 636.55,466.06 637.05,463.22 637.55,466.25 638.05,462.05 638.55,465.69 639.05,468.93 639.55,466.55 640.05,465.69 640.55,462.56 641.05,469.94 641.55,465.50 642.05,464.99 642.55,467.12 643.05,463.54 643.55,464.58 644.05,464.45 644.55,466.29 645.05,464.22 645.55,465.71 646.05,463.99 646.55,462.77 647.05,465.17 647.55,464.68 648.05,464.35 648.55,472.18 649.05,465.89 649.55,477.04 650.05,466.84 650.55,464.31 651.05,462.53 651.55,464.82 652.05,465.74 652.55,468.55 653.05,463.26 653.55,462.34 654.05,461.77 654.55,462.72 655.05,469.92 655.55,463.96 656.05,463.20 656.55,466.54 657.05,464.77 657.55,459.53 658.05,465.92 658.55,467.69 659.05,465.95 659.55,470.57 660.05,465.53 660.55,460.84 661.05,460.44 661.55,467.06 662.05,465.75 662.55,463.63 663.05,463.16 663.55,465.31 664.05,472.14 664.55,458.70 665.05,469.69 665.55,464.26 666.05,463.99 666.55,466.52 667.05,463.85 667.55,463.62 668.05,463.57 668.55,463.26 669.05,463.26 669.55,465.06 670.05,465.88 670.55,466.03 671.05,464.70 671.55,466.13 672.05,467.38 672.55,464.94 673.05,462.96 673.55,465.49 674.05,467.59 674.55,463.46 674.55,488.00 674.05,488.00 673.55,488.00 673.05,488.00 672.55,488.00 672.05,488.00 671.55,488.00 671.05,488.00 670.55,488.00 670.05,488.00 669.55,488.00 669.05,488.00 668.55,488.00 668.05,488.00 667.55,488.00 667.05,488.00 666.55,488.00 666.05,488.00 665.55,488.00 665.05,488.00 664.55,488.00 664.05,488.00 663.55,488.00 663.05,488.00 662.55,488.00 662.05,488.00 661.55,488.00 661.05,488.00 660.55,488.00 660.05,488.00 659.55,488.00 659.05,488.00 658.55,488.00 658.05,488.00 657.55,488.00 657.05,488.00 656.55,488.00 656.05,488.00 655.55,488.00 655.05,488.00 654.55,488.00 654.05,488.00 653.55,473.69 653.05,488.00 652.55,488.00 652.05,488.00 651.55,488.00 651.05,488.00 650.55,488.00 650.05,488.00 649.55,488.00 649.05,488.00 648.55,488.00 648.05,488.00 647.55,488.00 647.05,488.00 646.55,488.00 646.05,488.00 645.55,488.00 645.05,488.00 644.55,488.00 644.05,488.00 643.55,488.00 643.05,488.00 642.55,488.00 642.05,488.00 641.55,488.00 641.05,488.00 640.55,488.00 640.05,488.00 639.55,488.00 639.05,488.00 638.55,488.00 638.05,488.00 637.55,488.00 637.05,488.00 636.55,488.00 636.05,488.00 635.55,488.00 635.05,488.00 634.55,488.00 634.05,488.00 633.55,488.00 633.05,488.00 632.55,488.00 632.05,488.00 631.55,488.00 631.05,488.00 630.55,488.00 630.05,488.00 629.55,488.00 629.05,488.00 628.55,488.00 628.05,488.00 627.55,488.00 627.05,488.00 626.55,488.00 626.05,488.00 625.55,488.00 625.05,485.68 624.55,488.00 624.05,488.00 623.55,488.00 623.05,488.00 622.55,483.97 622.05,488.00 621.55,488.00 621.05,488.00 620.55,488.00 620.05,488.00 619.55,488.00 619.05,488.00 618.55,488.00 618.05,488.00 617.55,488.00 617.05,488.00 616.55,488.00 616.05,488.00 615.55,488.00 615.05,488.00 614.55,488.00 614.05,488.00 613.55,488.00 613.05,488.00 612.55,488.00 612.05,488.00 611.55,488.00 611.05,488.00 610.55,488.00 610.05,488.00 609.55,488.00 609.05,488.00 608.55,488.00 608.05,488.00 607.55,488.00 607.05,488.00 606.55,488.00 606.05,488.00 605.55,488.00 605.05,488.00 604.55,488.00 604.05,488.00 603.55,488.00 603.05,488.00 602.55,488.00 602.05,488.00 601.55,488.00 601.05,488.00 600.55,488.00 600.05,488.00 599.55,488.00 599.05,488.00 598.55,488.00 598.05,488.00 597.55,488.00 597.05,488.00 596.55,488.00 596.05,488.00 595.55,488.00 595.05,488.00 594.55,488.00 594.05,488.00 593.55,488.00 593.05,488.00 592.55,488.00 592.05,488.00 591.55,488.00 591.05,488.00 590.55,488.00 590.05,488.00 589.55,488.00 589.05,488.00 588.55,488.00 588.05,488.00 587.55,488.00 587.05,484.69 586.55,488.00 586.05,488.00 585.55,488.00 585.05,488.00 584.55,488.00 584.05,488.00 583.55,488.00 583.05,488.00 582.55,488.00 582.05,488.00 581.55,488.00 581.05,488.00 580.55,488.00 580.05,488.00 579.55,488.00 579.05,488.00 578.55,488.00 578.05,488.00 577.55,488.00 577.05,488.00 576.55,488.00 576.05,488.00 575.55,488.00 575.05,488.00 574.55,488.00 574.05,488.00 573.55,488.00 573.05,488.00 572.55,488.00 572.05,488.00 571.55,488.00 571.05,488.00 570.55,488.00 570.05,488.00 569.55,488.00 569.05,488.00 568.55,488.00 568.05,488.00 567.55,488.00 567.05,488.00 566.55,488.00 566.05,488.00 565.55,488.00 565.05,488.00 564.55,488.00 564.05,488.00 563.55,488.00 563.05,488.00 562.55,488.00 562.05,488.00 561.55,488.00 561.05,488.00 560.55,488.00 560.05,488.00 559.55,488.00 559.05,488.00 558.55,488.00 558.05,488.00 557.55,488.00 557.05,488.00 556.55,488.00 556.05,488.00 555.55,488.00 555.05,488.00 554.55,488.00 554.05,488.00 553.55,488.00 553.05,488.00 552.55,488.00 552.05,488.00 551.55,488.00 551.05,488.00 550.55,488.00 550.05,488.00 549.55,488.00 549.05,488.00 548.55,488.00 548.05,488.00 547.55,488.00 547.05,488.00 546.55,488.00 546.05,488.00 545.55,488.00 545.05,488.00 544.55,488.00 544.05,488.00 543.55,488.00 543.05,488.00 542.55,488.00 542.05,488.00 541.55,488.00 541.05,488.00 540.55,488.00 540.05,488.00 539.55,488.00 539.05,488.00 538.55,488.00 538.05,488.00 537.55,488.00 537.05,488.00 536.55,488.00 536.05,488.00 535.55,488.00 535.05,488.00 534.55,488.00 534.05,488.00 533.55,488.00 533.05,488.00 532.55,488.00 532.05,488.00 531.55,488.00 531.05,488.00 530.55,488.00 530.05,488.00 529.55,488.00 529.05,488.00 528.55,488.00 528.05,488.00 527.55,488.00 527.05,488.00 526.55,488.00 526.05,488.00 525.55,477.41 525.05,488.00 524.55,488.00 524.05,488.00 523.55,488.00 523.05,488.00 522.55,488.00 522.05,488.00 521.55,488.00 521.05,488.00 520.55,488.00 520.05,488.00 519.55,488.00 519.05,488.00 518.55,488.00 518.05,488.00 517.55,488.00 517.05,488.00 516.55,488.00 516.05,488.00 515.55,488.00 515.05,488.00 514.55,488.00 514.05,488.00 513.55,488.00 513.05,488.00 512.55,488.00 512.05,488.00 511.55,488.00 511.05,488.00 510.55,488.00 510.05,488.00 509.55,488.00 509.05,488.00 508.55,488.00 508.05,488.00 507.55,488.00 507.05,488.00 506.55,488.00 506.05,488.00 505.55,488.00 505.05,488.00 504.55,488.00 504.05,488.00 503.55,488.00 503.05,488.00 502.55,488.00 502.05,488.00 501.55,488.00 501.05,488.00 500.55,488.00 500.05,488.00 499.55,488.00 499.05,488.00 498.55,488.00 498.05,488.00 497.55,488.00 497.05,488.00 496.55,488.00 496.05,488.00 495.55,488.00 495.05,488.00 494.55,488.00 494.05,488.00 493.55,488.00 493.05,488.00 492.55,488.00 492.05,488.00 491.55,488.00 491.05,488.00 490.55,488.00 490.05,488.00 489.55,488.00 489.05,488.00 488.55,488.00 488.05,488.00 487.55,488.00 487.05,488.00 486.55,488.00 486.05,483.34 485.55,488.00 485.05,488.00 484.55,488.00 484.05,488.00 483.55,488.00 483.05,488.00 482.55,488.00 482.05,488.00 481.55,488.00 481.05,488.00 480.55,488.00 480.05,488.00 479.55,488.00 479.05,488.00 478.55,488.00 478.05,488.00 477.55,479.45 477.05,488.00 476.55,488.00 476.05,488.00 475.55,488.00 475.05,488.00 474.55,484.80 474.05,488.00 473.55,488.00 473.05,488.00 472.55,488.00 472.05,488.00 471.55,488.00 471.05,488.00 470.55,488.00 470.05,488.00 469.55,488.00 469.05,477.64 468.55,488.00 468.05,488.00 467.55,488.00 467.05,488.00 466.55,488.00 466.05,488.00 465.55,488.00 465.05,488.00 464.55,470.43 464.05,488.00 463.55,488.00 463.05,488.00 462.55,488.00 462.05,488.00 461.55,488.00 461.05,488.00 460.55,488.00 460.05,488.00 459.55,469.62 459.05,488.00 458.55,488.00 458.05,478.84 457.55,488.00 457.05,488.00 456.55,482.64 456.05,477.40 455.55,484.95 455.05,484.66 454.55,488.00 454.05,488.00 453.55,484.18 453.05,488.00 452.55,488.00 452.05,470.70 451.55,488.00 451.05,488.00 450.55,473.71 450.05,488.00 449.55,488.00 449.05,483.90 448.55,488.00 448.05,488.00 447.55,488.00 447.05,488.00 446.55,488.00 446.05,470.61 445.55,488.00 445.05,474.69 444.55,470.56 444.05,488.00 443.55,466.86 443.05,476.66 442.55,468.43 442.05,474.29 441.55,468.72 441.05,466.72 440.55,467.56 440.05,488.00 439.55,488.00 439.05,488.00 438.55,466.15 438.05,488.00 437.55,488.00 437.05,472.02 436.55,467.47 436.05,488.00 435.55,488.00 435.05,488.00 434.55,470.77 434.05,466.31 433.55,468.12 433.05,460.57 432.55,462.94 432.05,462.41 431.55,488.00 431.05,488.00 430.55,458.14 430.05,459.54 429.55,488.00 429.05,458.07 428.55,458.82 428.05,462.74 427.55,455.32 427.05,456.50 426.55,456.08 426.05,456.66 425.55,456.32 425.05,453.11 424.55,454.73 424.05,452.32 423.55,453.42 423.05,451.78 422.55,454.88 422.05,451.30 421.55,449.90 421.05,449.63 420.55,451.53 420.05,449.65 419.55,447.87 419.05,446.21 418.55,446.21 418.05,446.06 417.55,446.20 417.05,444.59 416.55,443.10 416.05,440.92 415.55,441.58 415.05,441.02 414.55,438.37 414.05,437.72 413.55,435.81 413.05,434.75 412.55,434.47 412.05,432.45 411.55,433.00 411.05,430.62 410.55,430.87 410.05,429.84 409.55,426.90 409.05,428.01 408.55,424.45 408.05,423.41 407.55,422.25 407.05,421.00 406.55,419.22" fill="#ff2a2a" fill-opacity="1.0"/>
<polyline points="403.80,487.00 404.30,400.00 404.80,383.30 405.50,405.00 406.55,418.24" fill="none" stroke="#ff2a2a" stroke-width="1.1" stroke-linejoin="round" />
</g>
<text x="514.70" y="323.40" font-size="11" fill="#000" font-weight="bold" text-anchor="start" >S-BN</text>
<text x="511.30" y="425.40" font-size="11" fill="#000" font-weight="bold" text-anchor="start" >2S-BN</text>
<line x1="605.80" y1="281.20" x2="628.90" y2="281.20" stroke="#555555" stroke-width="1.0" />
<line x1="605.80" y1="294.90" x2="628.90" y2="294.90" stroke="#44bb44" stroke-width="1.3" />
<line x1="605.80" y1="308.20" x2="628.90" y2="308.20" stroke="#ff2a2a" stroke-width="1.3" />
<text x="632.00" y="285.00" font-size="10.6" fill="#151515" font-weight="normal" text-anchor="start" transform="matrix(1.0,0,0,1.1,0.000,-28.500)" >100 K</text>
<text x="632.00" y="298.30" font-size="10.6" fill="#151515" font-weight="normal" text-anchor="start" transform="matrix(1.0,0,0,1.1,0.000,-29.830)" >200 K</text>
<text x="632.00" y="312.00" font-size="10.6" fill="#151515" font-weight="normal" text-anchor="start" transform="matrix(1.0,0,0,1.1,0.000,-31.200)" >300 K</text>
<text transform="translate(11.4,122.4) rotate(-90)" font-size="15.3" text-anchor="middle">Normalized intensity (arb.units)</text>
<text transform="translate(359.9,122.4) rotate(-90)" font-size="15.3" text-anchor="middle">Normalized intensity (arb.units)</text>
<text transform="translate(11.1,387.0) rotate(-90)" font-size="15.3" text-anchor="middle">Normalized intensity (arb.units)</text>
<text transform="translate(358.2,387.0) rotate(-90)" font-size="15.3" text-anchor="middle">Normalized intensity (arb.units)</text>
<text x="182.40" y="258.60" font-size="15.2" fill="#000" font-weight="normal" text-anchor="middle" transform="matrix(1.0,0,0,1.05,0.000,-12.930)" >Wavelength (nm)</text>
<text x="531.90" y="258.60" font-size="15.2" fill="#000" font-weight="normal" text-anchor="middle" transform="matrix(1.0,0,0,1.05,0.000,-12.930)" >Wavelength (nm)</text>
<text x="181.60" y="522.40" font-size="15.1" fill="#000" font-weight="normal" text-anchor="middle" transform="matrix(1.0,0,0,1.05,0.000,-26.120)" >Time (μs)</text>
<text x="533.00" y="522.40" font-size="15.1" fill="#000" font-weight="normal" text-anchor="middle" transform="matrix(1.0,0,0,1.05,0.000,-26.120)" >Time (μs)</text>
<text x="0.20" y="11.00" font-size="17" fill="#000" font-weight="bold" text-anchor="start" >a</text>
<text x="350.00" y="12.20" font-size="17" fill="#000" font-weight="bold" text-anchor="start" >b</text>
<text x="0.40" y="273.40" font-size="17" fill="#000" font-weight="bold" text-anchor="start" >c</text>
<text x="349.40" y="273.60" font-size="17" fill="#000" font-weight="bold" text-anchor="start" >d</text></svg>
</body></html>
